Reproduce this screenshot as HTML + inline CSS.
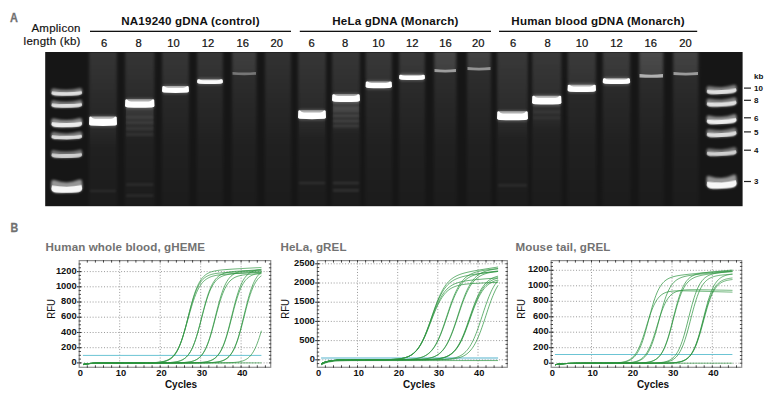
<!DOCTYPE html>
<html><head><meta charset="utf-8"><style>
html,body{margin:0;padding:0;background:#fff;width:777px;height:403px;overflow:hidden}
svg{display:block}
text{font-family:"Liberation Sans",sans-serif}
</style></head><body>
<svg width="777" height="403" viewBox="0 0 777 403">
<defs>
<filter id="b1" x="-20%" y="-50%" width="140%" height="200%"><feGaussianBlur stdDeviation="0.65"/></filter>
<filter id="b0" x="-20%" y="-50%" width="140%" height="200%"><feGaussianBlur stdDeviation="0.5"/></filter>
<filter id="b2" x="-20%" y="-50%" width="140%" height="200%"><feGaussianBlur stdDeviation="1.0"/></filter>
<filter id="bl" x="-50%" y="-5%" width="200%" height="110%"><feGaussianBlur stdDeviation="1.5"/></filter>
<linearGradient id="lane" x1="0" y1="0" x2="0" y2="1">
<stop offset="0" stop-color="#2a2a2a"/><stop offset="0.35" stop-color="#232323"/><stop offset="1" stop-color="#1b1b1b"/>
</linearGradient>
</defs>

<text transform="translate(10.1,21.7) scale(0.84,1)" font-size="13" font-weight="bold" fill="#707070" stroke="#707070" stroke-width="0.3">A</text>
<text x="80.7" y="31.7" font-size="11.5" letter-spacing="0.25" text-anchor="end" fill="#111" stroke="#111" stroke-width="0.18">Amplicon</text>
<text x="80.7" y="45.1" font-size="11.5" letter-spacing="0.25" text-anchor="end" fill="#111" stroke="#111" stroke-width="0.18">length (kb)</text>
<text x="190.5" y="25" font-size="11.6" letter-spacing="0.2" font-weight="bold" text-anchor="middle" fill="#111">NA19240 gDNA (control)</text>
<rect x="90" y="30.7" width="201.0" height="1.3" fill="#111"/>
<text x="104" y="46.8" font-size="11.2" text-anchor="middle" fill="#111" stroke="#111" stroke-width="0.22">6</text>
<text x="138.5" y="46.8" font-size="11.2" text-anchor="middle" fill="#111" stroke="#111" stroke-width="0.22">8</text>
<text x="173.5" y="46.8" font-size="11.2" text-anchor="middle" fill="#111" stroke="#111" stroke-width="0.22">10</text>
<text x="208" y="46.8" font-size="11.2" text-anchor="middle" fill="#111" stroke="#111" stroke-width="0.22">12</text>
<text x="242.8" y="46.8" font-size="11.2" text-anchor="middle" fill="#111" stroke="#111" stroke-width="0.22">16</text>
<text x="276.8" y="46.8" font-size="11.2" text-anchor="middle" fill="#111" stroke="#111" stroke-width="0.22">20</text>
<text x="395.4" y="25" font-size="11.6" letter-spacing="0.2" font-weight="bold" text-anchor="middle" fill="#111">HeLa gDNA (Monarch)</text>
<rect x="299.8" y="30.7" width="191.2" height="1.3" fill="#111"/>
<text x="311.7" y="46.8" font-size="11.2" text-anchor="middle" fill="#111" stroke="#111" stroke-width="0.22">6</text>
<text x="345.1" y="46.8" font-size="11.2" text-anchor="middle" fill="#111" stroke="#111" stroke-width="0.22">8</text>
<text x="378.5" y="46.8" font-size="11.2" text-anchor="middle" fill="#111" stroke="#111" stroke-width="0.22">10</text>
<text x="412.2" y="46.8" font-size="11.2" text-anchor="middle" fill="#111" stroke="#111" stroke-width="0.22">12</text>
<text x="445.6" y="46.8" font-size="11.2" text-anchor="middle" fill="#111" stroke="#111" stroke-width="0.22">16</text>
<text x="478.2" y="46.8" font-size="11.2" text-anchor="middle" fill="#111" stroke="#111" stroke-width="0.22">20</text>
<text x="598.1" y="25" font-size="11.6" letter-spacing="0.2" font-weight="bold" text-anchor="middle" fill="#111">Human blood gDNA (Monarch)</text>
<rect x="499" y="30.7" width="198.2" height="1.3" fill="#111"/>
<text x="513.2" y="46.8" font-size="11.2" text-anchor="middle" fill="#111" stroke="#111" stroke-width="0.22">6</text>
<text x="547.5" y="46.8" font-size="11.2" text-anchor="middle" fill="#111" stroke="#111" stroke-width="0.22">8</text>
<text x="582" y="46.8" font-size="11.2" text-anchor="middle" fill="#111" stroke="#111" stroke-width="0.22">10</text>
<text x="616.6" y="46.8" font-size="11.2" text-anchor="middle" fill="#111" stroke="#111" stroke-width="0.22">12</text>
<text x="650.8" y="46.8" font-size="11.2" text-anchor="middle" fill="#111" stroke="#111" stroke-width="0.22">16</text>
<text x="685.4" y="46.8" font-size="11.2" text-anchor="middle" fill="#111" stroke="#111" stroke-width="0.22">20</text>
<rect x="45.2" y="52" width="697.4" height="154.2" fill="#161616"/>
<defs>
<linearGradient id="hedge" x1="0" y1="0" x2="1" y2="0"><stop offset="0" stop-color="#fff" stop-opacity="0"/><stop offset="0.12" stop-color="#fff" stop-opacity="1"/><stop offset="0.88" stop-color="#fff" stop-opacity="1"/><stop offset="1" stop-color="#fff" stop-opacity="0"/></linearGradient>
<linearGradient id="vfade" x1="0" y1="0" x2="0" y2="1"><stop offset="0" stop-color="#fff" stop-opacity="0.10"/><stop offset="0.3" stop-color="#fff" stop-opacity="0.075"/><stop offset="1" stop-color="#fff" stop-opacity="0.035"/></linearGradient>
<linearGradient id="wfade" x1="0" y1="0" x2="0" y2="1"><stop offset="0" stop-color="#fff" stop-opacity="1"/><stop offset="1" stop-color="#fff" stop-opacity="0.6"/></linearGradient>
</defs>
<defs><linearGradient id="lv" gradientUnits="userSpaceOnUse" x1="0" y1="52" x2="0" y2="206"><stop offset="0" stop-color="#fff" stop-opacity="0.12"/><stop offset="0.3" stop-color="#fff" stop-opacity="0.08"/><stop offset="0.6" stop-color="#fff" stop-opacity="0.045"/><stop offset="1" stop-color="#fff" stop-opacity="0.025"/></linearGradient>
<linearGradient id="wg" x1="0" y1="0" x2="0" y2="1"><stop offset="0" stop-color="#fff" stop-opacity="1"/><stop offset="0.85" stop-color="#fff" stop-opacity="0.8"/><stop offset="1" stop-color="#fff" stop-opacity="0"/></linearGradient>
<filter id="lb" x="-30%" y="0" width="160%" height="100%"><feGaussianBlur stdDeviation="1.8,0"/></filter></defs>
<rect x="89" y="52.5" width="28" height="153.2" fill="url(#lv)" filter="url(#lb)"/>
<rect x="89.5" y="52.5" width="27" height="71.0" fill="url(#wg)" opacity="0.01" filter="url(#lb)"/>
<rect x="125" y="52.5" width="29.5" height="153.2" fill="url(#lv)" filter="url(#lb)"/>
<rect x="125.5" y="52.5" width="28.5" height="53.349999999999994" fill="url(#wg)" opacity="0.01" filter="url(#lb)"/>
<rect x="162" y="52.5" width="27" height="153.2" fill="url(#lv)" filter="url(#lb)"/>
<rect x="162.5" y="52.5" width="26" height="39.3" fill="url(#wg)" opacity="0.02" filter="url(#lb)"/>
<rect x="197" y="52.5" width="26" height="153.2" fill="url(#lv)" filter="url(#lb)"/>
<rect x="197.5" y="52.5" width="25" height="31.349999999999994" fill="url(#wg)" opacity="0.02" filter="url(#lb)"/>
<rect x="232" y="52.5" width="24.5" height="153.2" fill="url(#lv)" filter="url(#lb)"/>
<rect x="232.5" y="52.5" width="23.5" height="23.799999999999997" fill="url(#wg)" opacity="0.06" filter="url(#lb)"/>
<rect x="265" y="52.5" width="26" height="153.2" fill="url(#lv)" filter="url(#lb)"/>
<rect x="265.5" y="52.5" width="25" height="23" fill="url(#wg)" opacity="0.0" filter="url(#lb)"/>
<rect x="298" y="52.5" width="28" height="153.2" fill="url(#lv)" filter="url(#lb)"/>
<rect x="298.5" y="52.5" width="27" height="64.5" fill="url(#wg)" opacity="0.02" filter="url(#lb)"/>
<rect x="332" y="52.5" width="28" height="153.2" fill="url(#lv)" filter="url(#lb)"/>
<rect x="332.5" y="52.5" width="27" height="47.900000000000006" fill="url(#wg)" opacity="0.02" filter="url(#lb)"/>
<rect x="365.5" y="52.5" width="26.5" height="153.2" fill="url(#lv)" filter="url(#lb)"/>
<rect x="366.0" y="52.5" width="25.5" height="34.650000000000006" fill="url(#wg)" opacity="0.03" filter="url(#lb)"/>
<rect x="399" y="52.5" width="26" height="153.2" fill="url(#lv)" filter="url(#lb)"/>
<rect x="399.5" y="52.5" width="25" height="27.099999999999994" fill="url(#wg)" opacity="0.04" filter="url(#lb)"/>
<rect x="434" y="52.5" width="22.5" height="153.2" fill="url(#lv)" filter="url(#lb)"/>
<rect x="434.5" y="52.5" width="21.5" height="21.0" fill="url(#wg)" opacity="0.1" filter="url(#lb)"/>
<rect x="467" y="52.5" width="24" height="153.2" fill="url(#lv)" filter="url(#lb)"/>
<rect x="467.5" y="52.5" width="23" height="19.0" fill="url(#wg)" opacity="0.08" filter="url(#lb)"/>
<rect x="497" y="52.5" width="31" height="153.2" fill="url(#lv)" filter="url(#lb)"/>
<rect x="497.5" y="52.5" width="30" height="65.6" fill="url(#wg)" opacity="0.03" filter="url(#lb)"/>
<rect x="532" y="52.5" width="29.5" height="153.2" fill="url(#lv)" filter="url(#lb)"/>
<rect x="532.5" y="52.5" width="28.5" height="49.900000000000006" fill="url(#wg)" opacity="0.03" filter="url(#lb)"/>
<rect x="567.5" y="52.5" width="28.5" height="153.2" fill="url(#lv)" filter="url(#lb)"/>
<rect x="568.0" y="52.5" width="27.5" height="38.099999999999994" fill="url(#wg)" opacity="0.04" filter="url(#lb)"/>
<rect x="602.7" y="52.5" width="27.5" height="153.2" fill="url(#lv)" filter="url(#lb)"/>
<rect x="603.2" y="52.5" width="26.5" height="30.900000000000006" fill="url(#wg)" opacity="0.05" filter="url(#lb)"/>
<rect x="639" y="52.5" width="24.5" height="153.2" fill="url(#lv)" filter="url(#lb)"/>
<rect x="639.5" y="52.5" width="23.5" height="26.200000000000003" fill="url(#wg)" opacity="0.12" filter="url(#lb)"/>
<rect x="673" y="52.5" width="25.5" height="153.2" fill="url(#lv)" filter="url(#lb)"/>
<rect x="673.5" y="52.5" width="24.5" height="24.0" fill="url(#wg)" opacity="0.08" filter="url(#lb)"/>
<rect x="89" y="115.25" width="28" height="12.0" rx="3" fill="#fff" opacity="0.180" filter="url(#b2)"/>
<rect x="89.8" y="116.55" width="26.4" height="8.9" rx="1.5" fill="#fff" opacity="0.550" filter="url(#b0)"/>
<path d="M89.3,117.25 Q89.8,116.25 91.0,116.65 Q92.5,118.72 95,118.8435 L111,118.8435 Q113.5,118.72 115.0,116.65 Q116.2,116.25 116.7,117.25 L117,124.15 Q117,125.35 114,125.55 Q103.0,126.25 92,125.55 Q89,125.35 89,124.15 Z" fill="#fff" opacity="1" filter="url(#b1)"/>
<rect x="125" y="98.05" width="29.5" height="11.1" rx="3" fill="#fff" opacity="0.180" filter="url(#b2)"/>
<rect x="125.8" y="99.35" width="27.9" height="8.0" rx="1.5" fill="#fff" opacity="0.550" filter="url(#b0)"/>
<path d="M125.3,100.05 Q125.8,99.05 127.0,99.45 Q128.5,101.286 131,101.3978 L148.5,101.3978 Q151.0,101.286 152.5,99.45 Q153.7,99.05 154.2,100.05 L154.5,106.05 Q154.5,107.24999999999999 151.5,107.44999999999999 Q139.75,108.14999999999999 128,107.44999999999999 Q125,107.24999999999999 125,106.05 Z" fill="#fff" opacity="1" filter="url(#b1)"/>
<rect x="162" y="84.8" width="27" height="9.5" rx="3" fill="#fff" opacity="0.180" filter="url(#b2)"/>
<rect x="162.8" y="86.1" width="25.4" height="6.4" rx="1.5" fill="#fff" opacity="0.550" filter="url(#b0)"/>
<path d="M162.3,86.8 Q162.8,85.8 164.0,86.2 Q165.5,87.61999999999999 168,87.711 L183,87.711 Q185.5,87.61999999999999 187.0,86.2 Q188.2,85.8 188.7,86.8 L189,91.2 Q189,92.39999999999999 186,92.6 Q175.5,93.3 165,92.6 Q162,92.39999999999999 162,91.2 Z" fill="#fff" opacity="1" filter="url(#b1)"/>
<rect x="197" y="77.85" width="26" height="7.5" rx="3" fill="#fff" opacity="0.171" filter="url(#b2)"/>
<rect x="197.8" y="79.14999999999999" width="24.4" height="4.4" rx="1.5" fill="#fff" opacity="0.522" filter="url(#b0)"/>
<path d="M197.3,79.85 Q197.8,78.85 199.0,79.25 Q200.5,80.14999999999999 203,80.21499999999999 L217,80.21499999999999 Q219.5,80.14999999999999 221.0,79.25 Q222.2,78.85 222.7,79.85 L223,82.25 Q223,83.44999999999999 220,83.64999999999999 Q210.0,84.35 200,83.64999999999999 Q197,83.44999999999999 197,82.25 Z" fill="#fff" opacity="0.95" filter="url(#b1)"/>
<path d="M232.5,71.9 Q244.25,73.3 256.0,71.9 L256.0,74.8 Q244.25,75.69999999999999 232.5,74.8 Z" fill="#fff" opacity="0.32" filter="url(#b1)"/>
<path d="M265.5,71.65 Q278.0,73.05 290.5,71.65 L290.5,73.45 Q278.0,74.35 265.5,73.45 Z" fill="#fff" opacity="0.0" filter="url(#b1)"/>
<rect x="298" y="109.0" width="28" height="11.5" rx="3" fill="#fff" opacity="0.180" filter="url(#b2)"/>
<rect x="298.8" y="110.3" width="26.4" height="8.4" rx="1.5" fill="#fff" opacity="0.550" filter="url(#b0)"/>
<path d="M298.3,111.0 Q298.8,110.0 300.0,110.4 Q301.5,112.34 304,112.457 L320,112.457 Q322.5,112.34 324.0,110.4 Q325.2,110.0 325.7,111.0 L326,117.4 Q326,118.6 323,118.8 Q312.0,119.5 301,118.8 Q298,118.6 298,117.4 Z" fill="#fff" opacity="1" filter="url(#b1)"/>
<rect x="332" y="92.9" width="28" height="10.5" rx="3" fill="#fff" opacity="0.180" filter="url(#b2)"/>
<rect x="332.8" y="94.2" width="26.4" height="7.4" rx="1.5" fill="#fff" opacity="0.550" filter="url(#b0)"/>
<path d="M332.3,94.9 Q332.8,93.9 334.0,94.30000000000001 Q335.5,95.98 338,96.084 L354,96.084 Q356.5,95.98 358.0,94.30000000000001 Q359.2,93.9 359.7,94.9 L360,100.30000000000001 Q360,101.5 357,101.7 Q346.0,102.4 335,101.7 Q332,101.5 332,100.30000000000001 Z" fill="#fff" opacity="1" filter="url(#b1)"/>
<rect x="365.5" y="80.15" width="26.5" height="9.5" rx="3" fill="#fff" opacity="0.180" filter="url(#b2)"/>
<rect x="366.3" y="81.45" width="24.9" height="6.4" rx="1.5" fill="#fff" opacity="0.550" filter="url(#b0)"/>
<path d="M365.8,82.15 Q366.3,81.15 367.5,81.55000000000001 Q369.0,82.97 371.5,83.061 L386,83.061 Q388.5,82.97 390.0,81.55000000000001 Q391.2,81.15 391.7,82.15 L392,86.55000000000001 Q392,87.75 389,87.95 Q378.75,88.65 368.5,87.95 Q365.5,87.75 365.5,86.55000000000001 Z" fill="#fff" opacity="1" filter="url(#b1)"/>
<rect x="399" y="73.35" width="26" height="8.0" rx="3" fill="#fff" opacity="0.180" filter="url(#b2)"/>
<rect x="399.8" y="74.64999999999999" width="24.4" height="4.9" rx="1.5" fill="#fff" opacity="0.550" filter="url(#b0)"/>
<path d="M399.3,75.35 Q399.8,74.35 401.0,74.75 Q402.5,75.78 405,75.8515 L419,75.8515 Q421.5,75.78 423.0,74.75 Q424.2,74.35 424.7,75.35 L425,78.25 Q425,79.44999999999999 422,79.64999999999999 Q412.0,80.35 402,79.64999999999999 Q399,79.44999999999999 399,78.25 Z" fill="#fff" opacity="1" filter="url(#b1)"/>
<path d="M434.5,69.0 Q445.25,70.39999999999999 456.0,69.0 L456.0,72.10000000000001 Q445.25,73.0 434.5,72.10000000000001 Z" fill="#fff" opacity="0.5" filter="url(#b1)"/>
<path d="M467.5,67.10000000000001 Q479.0,68.5 490.5,67.10000000000001 L490.5,70.0 Q479.0,70.89999999999999 467.5,70.0 Z" fill="#fff" opacity="0.45" filter="url(#b1)"/>
<rect x="497" y="110.0" width="31" height="11.7" rx="3" fill="#fff" opacity="0.180" filter="url(#b2)"/>
<rect x="497.8" y="111.3" width="29.4" height="8.6" rx="1.5" fill="#fff" opacity="0.550" filter="url(#b0)"/>
<path d="M497.3,112.0 Q497.8,111.0 499.0,111.4 Q500.5,113.392 503,113.5116 L522,113.5116 Q524.5,113.392 526.0,111.4 Q527.2,111.0 527.7,112.0 L528,118.6 Q528,119.79999999999998 525,119.99999999999999 Q512.5,120.69999999999999 500,119.99999999999999 Q497,119.79999999999998 497,118.6 Z" fill="#fff" opacity="1" filter="url(#b1)"/>
<rect x="532" y="94.4" width="29.5" height="11.5" rx="3" fill="#fff" opacity="0.180" filter="url(#b2)"/>
<rect x="532.8" y="95.7" width="27.9" height="8.4" rx="1.5" fill="#fff" opacity="0.550" filter="url(#b0)"/>
<path d="M532.3,96.4 Q532.8,95.4 534.0,95.80000000000001 Q535.5,97.74000000000001 538,97.857 L555.5,97.857 Q558.0,97.74000000000001 559.5,95.80000000000001 Q560.7,95.4 561.2,96.4 L561.5,102.80000000000001 Q561.5,104.0 558.5,104.2 Q546.75,104.9 535,104.2 Q532,104.0 532,102.80000000000001 Z" fill="#fff" opacity="1" filter="url(#b1)"/>
<rect x="567.5" y="83.35" width="28.5" height="10.0" rx="3" fill="#fff" opacity="0.180" filter="url(#b2)"/>
<rect x="568.3" y="84.64999999999999" width="26.9" height="6.9" rx="1.5" fill="#fff" opacity="0.550" filter="url(#b0)"/>
<path d="M567.8,85.35 Q568.3,84.35 569.5,84.75 Q571.0,86.3 573.5,86.3975 L590,86.3975 Q592.5,86.3 594.0,84.75 Q595.2,84.35 595.7,85.35 L596,90.25 Q596,91.44999999999999 593,91.64999999999999 Q581.75,92.35 570.5,91.64999999999999 Q567.5,91.44999999999999 567.5,90.25 Z" fill="#fff" opacity="1" filter="url(#b1)"/>
<rect x="602.7" y="76.9" width="27.5" height="8.5" rx="3" fill="#fff" opacity="0.180" filter="url(#b2)"/>
<rect x="603.5" y="78.2" width="25.9" height="5.4" rx="1.5" fill="#fff" opacity="0.550" filter="url(#b0)"/>
<path d="M603.0,78.9 Q603.5,77.9 604.7,78.30000000000001 Q606.2,79.46000000000001 608.7,79.53800000000001 L624.2,79.53800000000001 Q626.7,79.46000000000001 628.2,78.30000000000001 Q629.4000000000001,77.9 629.9000000000001,78.9 L630.2,82.30000000000001 Q630.2,83.5 627.2,83.7 Q616.45,84.4 605.7,83.7 Q602.7,83.5 602.7,82.30000000000001 Z" fill="#fff" opacity="1" filter="url(#b1)"/>
<path d="M639.5,74.10000000000001 Q651.25,75.5 663.0,74.10000000000001 L663.0,77.4 Q651.25,78.3 639.5,77.4 Z" fill="#fff" opacity="0.6" filter="url(#b1)"/>
<path d="M673.5,72.10000000000001 Q685.75,73.5 698.0,72.10000000000001 L698.0,75.0 Q685.75,75.89999999999999 673.5,75.0 Z" fill="#fff" opacity="0.5" filter="url(#b1)"/>
<defs><linearGradient id="sm" x1="0" y1="0" x2="0" y2="1"><stop offset="0" stop-color="#fff" stop-opacity="1"/><stop offset="1" stop-color="#fff" stop-opacity="0"/></linearGradient></defs>
<rect x="126" y="108" width="27.5" height="32" fill="url(#sm)" opacity="0.09" filter="url(#b1)"/>
<rect x="333" y="102" width="26" height="32" fill="url(#sm)" opacity="0.1" filter="url(#b1)"/>
<rect x="533" y="104" width="27.5" height="26" fill="url(#sm)" opacity="0.05" filter="url(#b1)"/>
<rect x="90" y="126" width="26" height="24" fill="url(#sm)" opacity="0.03" filter="url(#b1)"/>
<rect x="299" y="119" width="26" height="21" fill="url(#sm)" opacity="0.03" filter="url(#b1)"/>
<rect x="498" y="120" width="29" height="20" fill="url(#sm)" opacity="0.03" filter="url(#b1)"/>
<rect x="126" y="116.2" width="27.5" height="2.4" fill="#fff" opacity="0.07" filter="url(#b2)"/>
<rect x="126" y="121.5" width="27.5" height="2.4" fill="#fff" opacity="0.07" filter="url(#b2)"/>
<rect x="126" y="127.49999999999999" width="27.5" height="2.4" fill="#fff" opacity="0.07" filter="url(#b2)"/>
<rect x="126" y="133.4" width="27.5" height="2.4" fill="#fff" opacity="0.07" filter="url(#b2)"/>
<rect x="126" y="183.4" width="27.5" height="2.4" fill="#fff" opacity="0.07" filter="url(#b2)"/>
<rect x="126" y="194.4" width="27.5" height="2.4" fill="#fff" opacity="0.07" filter="url(#b2)"/>
<rect x="333" y="106.6" width="26" height="2.4" fill="#fff" opacity="0.1" filter="url(#b2)"/>
<rect x="333" y="109.5" width="26" height="2.4" fill="#fff" opacity="0.1" filter="url(#b2)"/>
<rect x="333" y="114.7" width="26" height="2.4" fill="#fff" opacity="0.1" filter="url(#b2)"/>
<rect x="333" y="119.8" width="26" height="2.4" fill="#fff" opacity="0.1" filter="url(#b2)"/>
<rect x="333" y="124.8" width="26" height="2.4" fill="#fff" opacity="0.1" filter="url(#b2)"/>
<rect x="333" y="181.8" width="26" height="2.4" fill="#fff" opacity="0.09" filter="url(#b2)"/>
<rect x="333" y="189.20000000000002" width="26" height="2.4" fill="#fff" opacity="0.09" filter="url(#b2)"/>
<rect x="299" y="181.8" width="26" height="2.4" fill="#fff" opacity="0.08" filter="url(#b2)"/>
<rect x="90" y="189.8" width="26" height="2.4" fill="#fff" opacity="0.06" filter="url(#b2)"/>
<rect x="498" y="184.10000000000002" width="29" height="2.4" fill="#fff" opacity="0.07" filter="url(#b2)"/>
<rect x="533" y="110.8" width="27.5" height="2.4" fill="#fff" opacity="0.05" filter="url(#b2)"/>
<rect x="533" y="116.8" width="27.5" height="2.4" fill="#fff" opacity="0.05" filter="url(#b2)"/>
<g transform="rotate(-1 66.75 91.7)">
<path d="M51.5,89.2 Q52.5,87.7 55,88.5 Q66.75,91.06 78.5,88.5 Q81.0,87.7 82.0,89.2 L82.5,92.5 Q82.0,95.5 76.5,95.7 Q66.75,96.3 57,95.7 Q51.5,95.5 51,92.5 Z" fill="#fff" opacity="0.451" filter="url(#b2)"/>
<path d="M52,91.3 Q66.75,93.06 81.5,91.3 L82.2,93.3 Q81.7,95.4 76.5,95.5 Q66.75,96.10000000000001 57,95.5 Q51.8,95.4 51.3,93.3 Z" fill="#fff" opacity="0.754" filter="url(#b1)"/>
</g>
<g transform="rotate(-1 66.75 103.6)">
<path d="M51.5,101.1 Q52.5,99.6 55,100.39999999999999 Q66.75,102.96 78.5,100.39999999999999 Q81.0,99.6 82.0,101.1 L82.5,104.39999999999999 Q82.0,107.39999999999999 76.5,107.6 Q66.75,108.19999999999999 57,107.6 Q51.5,107.39999999999999 51,104.39999999999999 Z" fill="#fff" opacity="0.451" filter="url(#b2)"/>
<path d="M52,103.19999999999999 Q66.75,104.96 81.5,103.19999999999999 L82.2,105.19999999999999 Q81.7,107.3 76.5,107.39999999999999 Q66.75,108.0 57,107.39999999999999 Q51.8,107.3 51.3,105.19999999999999 Z" fill="#fff" opacity="0.754" filter="url(#b1)"/>
</g>
<g transform="rotate(-1 66.75 122.4)">
<path d="M51.5,119.15 Q52.5,117.65 55,118.45 Q66.75,121.64 78.5,118.45 Q81.0,117.65 82.0,119.15 L82.5,123.35000000000001 Q82.0,126.95 76.5,127.15 Q66.75,127.75 57,127.15 Q51.5,126.95 51,123.35000000000001 Z" fill="#fff" opacity="0.506" filter="url(#b2)"/>
<path d="M52,121.92500000000001 Q66.75,124.01500000000001 81.5,121.92500000000001 L82.2,124.30000000000001 Q81.7,126.85000000000001 76.5,126.95 Q66.75,127.55000000000001 57,126.95 Q51.8,126.85000000000001 51.3,124.30000000000001 Z" fill="#fff" opacity="0.846" filter="url(#b1)"/>
</g>
<g transform="rotate(-1 66.75 135.3)">
<path d="M51.5,132.8 Q52.5,131.3 55,132.10000000000002 Q66.75,134.66000000000003 78.5,132.10000000000002 Q81.0,131.3 82.0,132.8 L82.5,136.10000000000002 Q82.0,139.10000000000002 76.5,139.3 Q66.75,139.9 57,139.3 Q51.5,139.10000000000002 51,136.10000000000002 Z" fill="#fff" opacity="0.440" filter="url(#b2)"/>
<path d="M52,134.9 Q66.75,136.66 81.5,134.9 L82.2,136.9 Q81.7,139.0 76.5,139.10000000000002 Q66.75,139.70000000000002 57,139.10000000000002 Q51.8,139.0 51.3,136.9 Z" fill="#fff" opacity="0.736" filter="url(#b1)"/>
</g>
<g transform="rotate(-1 66.75 153.6)">
<path d="M51.5,150.85 Q52.5,149.35 55,150.15 Q66.75,152.92 78.5,150.15 Q81.0,149.35 82.0,150.85 L82.5,154.45 Q82.0,157.65 76.5,157.85 Q66.75,158.45 57,157.85 Q51.5,157.65 51,154.45 Z" fill="#fff" opacity="0.396" filter="url(#b2)"/>
<path d="M52,153.17499999999998 Q66.75,155.045 81.5,153.17499999999998 L82.2,155.29999999999998 Q81.7,157.54999999999998 76.5,157.65 Q66.75,158.25 57,157.65 Q51.8,157.54999999999998 51.3,155.29999999999998 Z" fill="#fff" opacity="0.662" filter="url(#b1)"/>
</g>
<g transform="rotate(-1 66.75 186)">
<path d="M51.5,180.75 Q52.5,179.25 55,180.05 Q66.75,184.92 78.5,180.05 Q81.0,179.25 82.0,180.75 L82.5,187.35 Q82.0,192.55 76.5,192.75 Q66.75,193.35 57,192.75 Q51.5,192.55 51,187.35 Z" fill="#fff" opacity="0.550" filter="url(#b2)"/>
<path d="M52,185.325 Q66.75,188.295 81.5,185.325 L82.2,188.7 Q81.7,192.45 76.5,192.55 Q66.75,193.15 57,192.55 Q51.8,192.45 51.3,188.7 Z" fill="#fff" opacity="0.920" filter="url(#b1)"/>
</g>
<g transform="rotate(-3 721.5999999999999 89.4)">
<path d="M706.8,86.4 Q707.8,84.9 710.3,85.7 Q721.5999999999999,88.68 732.9,85.7 Q735.4,84.9 736.4,86.4 L736.9,90.30000000000001 Q736.4,93.7 730.9,93.9 Q721.5999999999999,94.5 712.3,93.9 Q706.8,93.7 706.3,90.30000000000001 Z" fill="#fff" opacity="0.451" filter="url(#b2)"/>
<path d="M707.3,88.95 Q721.5999999999999,90.93 735.9,88.95 L736.6,91.2 Q736.1,93.60000000000001 730.9,93.7 Q721.5999999999999,94.30000000000001 712.3,93.7 Q707.0999999999999,93.60000000000001 706.5999999999999,91.2 Z" fill="#fff" opacity="0.754" filter="url(#b1)"/>
</g>
<g transform="rotate(-3 721.5999999999999 102)">
<path d="M706.8,99.0 Q707.8,97.5 710.3,98.3 Q721.5999999999999,101.28 732.9,98.3 Q735.4,97.5 736.4,99.0 L736.9,102.9 Q736.4,106.3 730.9,106.5 Q721.5999999999999,107.1 712.3,106.5 Q706.8,106.3 706.3,102.9 Z" fill="#fff" opacity="0.451" filter="url(#b2)"/>
<path d="M707.3,101.55 Q721.5999999999999,103.53 735.9,101.55 L736.6,103.8 Q736.1,106.2 730.9,106.3 Q721.5999999999999,106.9 712.3,106.3 Q707.0999999999999,106.2 706.5999999999999,103.8 Z" fill="#fff" opacity="0.754" filter="url(#b1)"/>
</g>
<g transform="rotate(-3 721.5999999999999 119.1)">
<path d="M706.8,115.85 Q707.8,114.35 710.3,115.14999999999999 Q721.5999999999999,118.33999999999999 732.9,115.14999999999999 Q735.4,114.35 736.4,115.85 L736.9,120.05 Q736.4,123.64999999999999 730.9,123.85 Q721.5999999999999,124.44999999999999 712.3,123.85 Q706.8,123.64999999999999 706.3,120.05 Z" fill="#fff" opacity="0.506" filter="url(#b2)"/>
<path d="M707.3,118.625 Q721.5999999999999,120.715 735.9,118.625 L736.6,121.0 Q736.1,123.55 730.9,123.64999999999999 Q721.5999999999999,124.25 712.3,123.64999999999999 Q707.0999999999999,123.55 706.5999999999999,121.0 Z" fill="#fff" opacity="0.846" filter="url(#b1)"/>
</g>
<g transform="rotate(-3 721.5999999999999 132.5)">
<path d="M706.8,129.5 Q707.8,128.0 710.3,128.8 Q721.5999999999999,131.78 732.9,128.8 Q735.4,128.0 736.4,129.5 L736.9,133.4 Q736.4,136.8 730.9,137.0 Q721.5999999999999,137.6 712.3,137.0 Q706.8,136.8 706.3,133.4 Z" fill="#fff" opacity="0.440" filter="url(#b2)"/>
<path d="M707.3,132.05 Q721.5999999999999,134.03 735.9,132.05 L736.6,134.3 Q736.1,136.7 730.9,136.8 Q721.5999999999999,137.4 712.3,136.8 Q707.0999999999999,136.7 706.5999999999999,134.3 Z" fill="#fff" opacity="0.736" filter="url(#b1)"/>
</g>
<g transform="rotate(-3 721.5999999999999 151.5)">
<path d="M706.8,148.75 Q707.8,147.25 710.3,148.05 Q721.5999999999999,150.82 732.9,148.05 Q735.4,147.25 736.4,148.75 L736.9,152.35 Q736.4,155.55 730.9,155.75 Q721.5999999999999,156.35 712.3,155.75 Q706.8,155.55 706.3,152.35 Z" fill="#fff" opacity="0.396" filter="url(#b2)"/>
<path d="M707.3,151.075 Q721.5999999999999,152.945 735.9,151.075 L736.6,153.2 Q736.1,155.45 730.9,155.55 Q721.5999999999999,156.15 712.3,155.55 Q707.0999999999999,155.45 706.5999999999999,153.2 Z" fill="#fff" opacity="0.662" filter="url(#b1)"/>
</g>
<g transform="rotate(-3 721.5999999999999 181.6)">
<path d="M706.8,176.35 Q707.8,174.85 710.3,175.65 Q721.5999999999999,180.51999999999998 732.9,175.65 Q735.4,174.85 736.4,176.35 L736.9,182.95 Q736.4,188.15 730.9,188.35 Q721.5999999999999,188.95 712.3,188.35 Q706.8,188.15 706.3,182.95 Z" fill="#fff" opacity="0.550" filter="url(#b2)"/>
<path d="M707.3,180.92499999999998 Q721.5999999999999,183.89499999999998 735.9,180.92499999999998 L736.6,184.29999999999998 Q736.1,188.04999999999998 730.9,188.15 Q721.5999999999999,188.75 712.3,188.15 Q707.0999999999999,188.04999999999998 706.5999999999999,184.29999999999998 Z" fill="#fff" opacity="0.920" filter="url(#b1)"/>
</g>
<text x="754" y="78.6" font-size="8" font-weight="bold" fill="#111">kb</text>
<rect x="744" y="87.5" width="7" height="1.2" fill="#222"/>
<text x="754" y="91.0" font-size="8" font-weight="bold" fill="#111">10</text>
<rect x="744" y="99.7" width="7" height="1.2" fill="#222"/>
<text x="754" y="103.2" font-size="8" font-weight="bold" fill="#111">8</text>
<rect x="744" y="117.2" width="7" height="1.2" fill="#222"/>
<text x="754" y="120.7" font-size="8" font-weight="bold" fill="#111">6</text>
<rect x="744" y="131.3" width="7" height="1.2" fill="#222"/>
<text x="754" y="134.8" font-size="8" font-weight="bold" fill="#111">5</text>
<rect x="744" y="149.6" width="7" height="1.2" fill="#222"/>
<text x="754" y="153.1" font-size="8" font-weight="bold" fill="#111">4</text>
<rect x="744" y="180.9" width="7" height="1.2" fill="#222"/>
<text x="754" y="184.4" font-size="8" font-weight="bold" fill="#111">3</text>
<text transform="translate(10.6,231.7) scale(0.82,1)" font-size="13" font-weight="bold" fill="#707070" stroke="#707070" stroke-width="0.3">B</text>
<text x="45.6" y="251.1" font-size="11.6" letter-spacing="0.1" font-weight="bold" fill="#727272">Human whole blood, gHEME</text>
<line x1="119.7" y1="260.6" x2="119.7" y2="367.3" stroke="#9a9a9a" stroke-width="1" stroke-dasharray="1,1.85"/>
<line x1="160.2" y1="260.6" x2="160.2" y2="367.3" stroke="#9a9a9a" stroke-width="1" stroke-dasharray="1,1.85"/>
<line x1="200.7" y1="260.6" x2="200.7" y2="367.3" stroke="#9a9a9a" stroke-width="1" stroke-dasharray="1,1.85"/>
<line x1="241.1" y1="260.6" x2="241.1" y2="367.3" stroke="#9a9a9a" stroke-width="1" stroke-dasharray="1,1.85"/>
<line x1="81.2" y1="362.9" x2="270.7" y2="362.9" stroke="#9a9a9a" stroke-width="1" stroke-dasharray="1,1.85"/>
<line x1="77.0" y1="362.9" x2="81.4" y2="362.9" stroke="#333" stroke-width="1.1"/>
<text x="76.60000000000001" y="365.0" font-size="9.3" font-weight="bold" text-anchor="end" fill="#111">0</text>
<line x1="81.2" y1="347.7" x2="270.7" y2="347.7" stroke="#9a9a9a" stroke-width="1" stroke-dasharray="1,1.85"/>
<line x1="77.0" y1="347.7" x2="81.4" y2="347.7" stroke="#333" stroke-width="1.1"/>
<text x="76.60000000000001" y="349.8" font-size="9.3" font-weight="bold" text-anchor="end" fill="#111">200</text>
<line x1="81.2" y1="332.5" x2="270.7" y2="332.5" stroke="#9a9a9a" stroke-width="1" stroke-dasharray="1,1.85"/>
<line x1="77.0" y1="332.5" x2="81.4" y2="332.5" stroke="#333" stroke-width="1.1"/>
<text x="76.60000000000001" y="334.6" font-size="9.3" font-weight="bold" text-anchor="end" fill="#111">400</text>
<line x1="81.2" y1="317.2" x2="270.7" y2="317.2" stroke="#9a9a9a" stroke-width="1" stroke-dasharray="1,1.85"/>
<line x1="77.0" y1="317.2" x2="81.4" y2="317.2" stroke="#333" stroke-width="1.1"/>
<text x="76.60000000000001" y="319.3" font-size="9.3" font-weight="bold" text-anchor="end" fill="#111">600</text>
<line x1="81.2" y1="302.0" x2="270.7" y2="302.0" stroke="#9a9a9a" stroke-width="1" stroke-dasharray="1,1.85"/>
<line x1="77.0" y1="302.0" x2="81.4" y2="302.0" stroke="#333" stroke-width="1.1"/>
<text x="76.60000000000001" y="304.1" font-size="9.3" font-weight="bold" text-anchor="end" fill="#111">800</text>
<line x1="81.2" y1="286.8" x2="270.7" y2="286.8" stroke="#9a9a9a" stroke-width="1" stroke-dasharray="1,1.85"/>
<line x1="77.0" y1="286.8" x2="81.4" y2="286.8" stroke="#333" stroke-width="1.1"/>
<text x="76.60000000000001" y="288.9" font-size="9.3" font-weight="bold" text-anchor="end" fill="#111">1000</text>
<line x1="81.2" y1="271.6" x2="270.7" y2="271.6" stroke="#9a9a9a" stroke-width="1" stroke-dasharray="1,1.85"/>
<line x1="77.0" y1="271.6" x2="81.4" y2="271.6" stroke="#333" stroke-width="1.1"/>
<text x="76.60000000000001" y="273.7" font-size="9.3" font-weight="bold" text-anchor="end" fill="#111">1200</text>
<rect x="79.2" y="260.6" width="191.5" height="106.69999999999999" fill="none" stroke="#8e8e8e" stroke-width="1.2"/>
<line x1="78.7" y1="362.9" x2="81.0" y2="362.9" stroke="#333" stroke-width="0.9"/>
<line x1="271.2" y1="362.9" x2="268.9" y2="362.9" stroke="#333" stroke-width="0.9"/>
<line x1="78.7" y1="359.1" x2="81.0" y2="359.1" stroke="#333" stroke-width="0.9"/>
<line x1="271.2" y1="359.1" x2="268.9" y2="359.1" stroke="#333" stroke-width="0.9"/>
<line x1="78.7" y1="355.3" x2="81.0" y2="355.3" stroke="#333" stroke-width="0.9"/>
<line x1="271.2" y1="355.3" x2="268.9" y2="355.3" stroke="#333" stroke-width="0.9"/>
<line x1="78.7" y1="351.5" x2="81.0" y2="351.5" stroke="#333" stroke-width="0.9"/>
<line x1="271.2" y1="351.5" x2="268.9" y2="351.5" stroke="#333" stroke-width="0.9"/>
<line x1="78.7" y1="347.7" x2="81.0" y2="347.7" stroke="#333" stroke-width="0.9"/>
<line x1="271.2" y1="347.7" x2="268.9" y2="347.7" stroke="#333" stroke-width="0.9"/>
<line x1="78.7" y1="343.9" x2="81.0" y2="343.9" stroke="#333" stroke-width="0.9"/>
<line x1="271.2" y1="343.9" x2="268.9" y2="343.9" stroke="#333" stroke-width="0.9"/>
<line x1="78.7" y1="340.1" x2="81.0" y2="340.1" stroke="#333" stroke-width="0.9"/>
<line x1="271.2" y1="340.1" x2="268.9" y2="340.1" stroke="#333" stroke-width="0.9"/>
<line x1="78.7" y1="336.3" x2="81.0" y2="336.3" stroke="#333" stroke-width="0.9"/>
<line x1="271.2" y1="336.3" x2="268.9" y2="336.3" stroke="#333" stroke-width="0.9"/>
<line x1="78.7" y1="332.5" x2="81.0" y2="332.5" stroke="#333" stroke-width="0.9"/>
<line x1="271.2" y1="332.5" x2="268.9" y2="332.5" stroke="#333" stroke-width="0.9"/>
<line x1="78.7" y1="328.7" x2="81.0" y2="328.7" stroke="#333" stroke-width="0.9"/>
<line x1="271.2" y1="328.7" x2="268.9" y2="328.7" stroke="#333" stroke-width="0.9"/>
<line x1="78.7" y1="324.8" x2="81.0" y2="324.8" stroke="#333" stroke-width="0.9"/>
<line x1="271.2" y1="324.8" x2="268.9" y2="324.8" stroke="#333" stroke-width="0.9"/>
<line x1="78.7" y1="321.0" x2="81.0" y2="321.0" stroke="#333" stroke-width="0.9"/>
<line x1="271.2" y1="321.0" x2="268.9" y2="321.0" stroke="#333" stroke-width="0.9"/>
<line x1="78.7" y1="317.2" x2="81.0" y2="317.2" stroke="#333" stroke-width="0.9"/>
<line x1="271.2" y1="317.2" x2="268.9" y2="317.2" stroke="#333" stroke-width="0.9"/>
<line x1="78.7" y1="313.4" x2="81.0" y2="313.4" stroke="#333" stroke-width="0.9"/>
<line x1="271.2" y1="313.4" x2="268.9" y2="313.4" stroke="#333" stroke-width="0.9"/>
<line x1="78.7" y1="309.6" x2="81.0" y2="309.6" stroke="#333" stroke-width="0.9"/>
<line x1="271.2" y1="309.6" x2="268.9" y2="309.6" stroke="#333" stroke-width="0.9"/>
<line x1="78.7" y1="305.8" x2="81.0" y2="305.8" stroke="#333" stroke-width="0.9"/>
<line x1="271.2" y1="305.8" x2="268.9" y2="305.8" stroke="#333" stroke-width="0.9"/>
<line x1="78.7" y1="302.0" x2="81.0" y2="302.0" stroke="#333" stroke-width="0.9"/>
<line x1="271.2" y1="302.0" x2="268.9" y2="302.0" stroke="#333" stroke-width="0.9"/>
<line x1="78.7" y1="298.2" x2="81.0" y2="298.2" stroke="#333" stroke-width="0.9"/>
<line x1="271.2" y1="298.2" x2="268.9" y2="298.2" stroke="#333" stroke-width="0.9"/>
<line x1="78.7" y1="294.4" x2="81.0" y2="294.4" stroke="#333" stroke-width="0.9"/>
<line x1="271.2" y1="294.4" x2="268.9" y2="294.4" stroke="#333" stroke-width="0.9"/>
<line x1="78.7" y1="290.6" x2="81.0" y2="290.6" stroke="#333" stroke-width="0.9"/>
<line x1="271.2" y1="290.6" x2="268.9" y2="290.6" stroke="#333" stroke-width="0.9"/>
<line x1="78.7" y1="286.8" x2="81.0" y2="286.8" stroke="#333" stroke-width="0.9"/>
<line x1="271.2" y1="286.8" x2="268.9" y2="286.8" stroke="#333" stroke-width="0.9"/>
<line x1="78.7" y1="283.0" x2="81.0" y2="283.0" stroke="#333" stroke-width="0.9"/>
<line x1="271.2" y1="283.0" x2="268.9" y2="283.0" stroke="#333" stroke-width="0.9"/>
<line x1="78.7" y1="279.2" x2="81.0" y2="279.2" stroke="#333" stroke-width="0.9"/>
<line x1="271.2" y1="279.2" x2="268.9" y2="279.2" stroke="#333" stroke-width="0.9"/>
<line x1="78.7" y1="275.4" x2="81.0" y2="275.4" stroke="#333" stroke-width="0.9"/>
<line x1="271.2" y1="275.4" x2="268.9" y2="275.4" stroke="#333" stroke-width="0.9"/>
<line x1="78.7" y1="271.6" x2="81.0" y2="271.6" stroke="#333" stroke-width="0.9"/>
<line x1="271.2" y1="271.6" x2="268.9" y2="271.6" stroke="#333" stroke-width="0.9"/>
<line x1="78.7" y1="267.8" x2="81.0" y2="267.8" stroke="#333" stroke-width="0.9"/>
<line x1="271.2" y1="267.8" x2="268.9" y2="267.8" stroke="#333" stroke-width="0.9"/>
<line x1="78.7" y1="264.0" x2="81.0" y2="264.0" stroke="#333" stroke-width="0.9"/>
<line x1="271.2" y1="264.0" x2="268.9" y2="264.0" stroke="#333" stroke-width="0.9"/>
<line x1="87.3" y1="260.1" x2="87.3" y2="262.6" stroke="#333" stroke-width="0.9"/>
<line x1="87.3" y1="367.8" x2="87.3" y2="365.3" stroke="#333" stroke-width="0.9"/>
<line x1="95.4" y1="260.1" x2="95.4" y2="262.6" stroke="#333" stroke-width="0.9"/>
<line x1="95.4" y1="367.8" x2="95.4" y2="365.3" stroke="#333" stroke-width="0.9"/>
<line x1="103.5" y1="260.1" x2="103.5" y2="262.6" stroke="#333" stroke-width="0.9"/>
<line x1="103.5" y1="367.8" x2="103.5" y2="365.3" stroke="#333" stroke-width="0.9"/>
<line x1="111.6" y1="260.1" x2="111.6" y2="262.6" stroke="#333" stroke-width="0.9"/>
<line x1="111.6" y1="367.8" x2="111.6" y2="365.3" stroke="#333" stroke-width="0.9"/>
<line x1="119.7" y1="260.1" x2="119.7" y2="262.6" stroke="#333" stroke-width="0.9"/>
<line x1="119.7" y1="367.8" x2="119.7" y2="365.3" stroke="#333" stroke-width="0.9"/>
<line x1="127.8" y1="260.1" x2="127.8" y2="262.6" stroke="#333" stroke-width="0.9"/>
<line x1="127.8" y1="367.8" x2="127.8" y2="365.3" stroke="#333" stroke-width="0.9"/>
<line x1="135.9" y1="260.1" x2="135.9" y2="262.6" stroke="#333" stroke-width="0.9"/>
<line x1="135.9" y1="367.8" x2="135.9" y2="365.3" stroke="#333" stroke-width="0.9"/>
<line x1="144.0" y1="260.1" x2="144.0" y2="262.6" stroke="#333" stroke-width="0.9"/>
<line x1="144.0" y1="367.8" x2="144.0" y2="365.3" stroke="#333" stroke-width="0.9"/>
<line x1="152.1" y1="260.1" x2="152.1" y2="262.6" stroke="#333" stroke-width="0.9"/>
<line x1="152.1" y1="367.8" x2="152.1" y2="365.3" stroke="#333" stroke-width="0.9"/>
<line x1="160.2" y1="260.1" x2="160.2" y2="262.6" stroke="#333" stroke-width="0.9"/>
<line x1="160.2" y1="367.8" x2="160.2" y2="365.3" stroke="#333" stroke-width="0.9"/>
<line x1="168.3" y1="260.1" x2="168.3" y2="262.6" stroke="#333" stroke-width="0.9"/>
<line x1="168.3" y1="367.8" x2="168.3" y2="365.3" stroke="#333" stroke-width="0.9"/>
<line x1="176.4" y1="260.1" x2="176.4" y2="262.6" stroke="#333" stroke-width="0.9"/>
<line x1="176.4" y1="367.8" x2="176.4" y2="365.3" stroke="#333" stroke-width="0.9"/>
<line x1="184.5" y1="260.1" x2="184.5" y2="262.6" stroke="#333" stroke-width="0.9"/>
<line x1="184.5" y1="367.8" x2="184.5" y2="365.3" stroke="#333" stroke-width="0.9"/>
<line x1="192.6" y1="260.1" x2="192.6" y2="262.6" stroke="#333" stroke-width="0.9"/>
<line x1="192.6" y1="367.8" x2="192.6" y2="365.3" stroke="#333" stroke-width="0.9"/>
<line x1="200.7" y1="260.1" x2="200.7" y2="262.6" stroke="#333" stroke-width="0.9"/>
<line x1="200.7" y1="367.8" x2="200.7" y2="365.3" stroke="#333" stroke-width="0.9"/>
<line x1="208.8" y1="260.1" x2="208.8" y2="262.6" stroke="#333" stroke-width="0.9"/>
<line x1="208.8" y1="367.8" x2="208.8" y2="365.3" stroke="#333" stroke-width="0.9"/>
<line x1="216.9" y1="260.1" x2="216.9" y2="262.6" stroke="#333" stroke-width="0.9"/>
<line x1="216.9" y1="367.8" x2="216.9" y2="365.3" stroke="#333" stroke-width="0.9"/>
<line x1="225.0" y1="260.1" x2="225.0" y2="262.6" stroke="#333" stroke-width="0.9"/>
<line x1="225.0" y1="367.8" x2="225.0" y2="365.3" stroke="#333" stroke-width="0.9"/>
<line x1="233.0" y1="260.1" x2="233.0" y2="262.6" stroke="#333" stroke-width="0.9"/>
<line x1="233.0" y1="367.8" x2="233.0" y2="365.3" stroke="#333" stroke-width="0.9"/>
<line x1="241.1" y1="260.1" x2="241.1" y2="262.6" stroke="#333" stroke-width="0.9"/>
<line x1="241.1" y1="367.8" x2="241.1" y2="365.3" stroke="#333" stroke-width="0.9"/>
<line x1="249.2" y1="260.1" x2="249.2" y2="262.6" stroke="#333" stroke-width="0.9"/>
<line x1="249.2" y1="367.8" x2="249.2" y2="365.3" stroke="#333" stroke-width="0.9"/>
<line x1="257.3" y1="260.1" x2="257.3" y2="262.6" stroke="#333" stroke-width="0.9"/>
<line x1="257.3" y1="367.8" x2="257.3" y2="365.3" stroke="#333" stroke-width="0.9"/>
<line x1="265.4" y1="260.1" x2="265.4" y2="262.6" stroke="#333" stroke-width="0.9"/>
<line x1="265.4" y1="367.8" x2="265.4" y2="365.3" stroke="#333" stroke-width="0.9"/>
<text x="80.4" y="376.2" font-size="9.3" font-weight="bold" text-anchor="middle" fill="#111">0</text>
<text x="120.9" y="376.2" font-size="9.3" font-weight="bold" text-anchor="middle" fill="#111">10</text>
<text x="161.4" y="376.2" font-size="9.3" font-weight="bold" text-anchor="middle" fill="#111">20</text>
<text x="201.9" y="376.2" font-size="9.3" font-weight="bold" text-anchor="middle" fill="#111">30</text>
<text x="242.3" y="376.2" font-size="9.3" font-weight="bold" text-anchor="middle" fill="#111">40</text>
<text x="181.0" y="387.8" font-size="10" font-weight="bold" text-anchor="middle" fill="#111">Cycles</text>
<text transform="translate(50.7,308.9) rotate(-90)" x="0" y="3.9" font-size="10.6" textLength="19.8" lengthAdjust="spacingAndGlyphs" text-anchor="middle" fill="#111">RFU</text>
<line x1="82.9" y1="355.4" x2="261.4" y2="355.4" stroke="#6cc4d4" stroke-width="1.0"/>
<g fill="none" stroke="#2e9440" stroke-width="1.0" stroke-opacity="0.72" stroke-linejoin="round">
<polyline points="83.25,364.42 84.26,364.22 85.27,364.05 86.29,363.90 87.30,363.77 88.31,363.66 89.32,363.56 90.33,363.48 91.35,363.40 92.36,363.34 93.37,363.28 94.38,363.23 95.39,363.19 96.41,363.15 97.42,363.12 98.43,363.09 99.44,363.06 100.46,363.04 101.47,363.02 102.48,363.01 103.49,362.99 104.50,362.98 105.52,362.97 106.53,362.96 107.54,362.95 108.55,362.95 109.56,362.94 110.58,362.94 111.59,362.93 112.60,362.93 113.61,362.92 114.63,362.92 115.64,362.92 116.65,362.92 117.66,362.91 118.67,362.91 119.69,362.91 120.70,362.91 121.71,362.91 122.72,362.91 123.73,362.90 124.75,362.90 125.76,362.90 126.77,362.90 127.78,362.90 128.80,362.90 129.81,362.90 130.82,362.90 131.83,362.90 132.84,362.90 133.86,362.89 134.87,362.89 135.88,362.89 136.89,362.89 137.91,362.89 138.92,362.88 139.93,362.88 140.94,362.88 141.95,362.87 142.97,362.87 143.98,362.86 144.99,362.85 146.00,362.84 147.01,362.83 148.03,362.82 149.04,362.80 150.05,362.78 151.06,362.76 152.08,362.73 153.09,362.70 154.10,362.66 155.11,362.61 156.12,362.56 157.14,362.49 158.15,362.41 159.16,362.32 160.17,362.21 161.18,362.08 162.20,361.92 163.21,361.73 164.22,361.51 165.23,361.25 166.25,360.93 167.26,360.56 168.27,360.13 169.28,359.61 170.29,359.00 171.31,358.29 172.32,357.45 173.33,356.47 174.34,355.33 175.35,354.01 176.37,352.49 177.38,350.75 178.39,348.76 179.40,346.52 180.42,344.01 181.43,341.23 182.44,338.17 183.45,334.86 184.46,331.32 185.48,327.57 186.49,323.67 187.50,319.67 188.51,315.62 189.53,311.60 190.54,307.65 191.55,303.84 192.56,300.22 193.57,296.81 194.59,293.66 195.60,290.76 196.61,288.14 197.62,285.78 198.63,283.68 199.65,281.82 200.66,280.19 201.67,278.77 202.68,277.52 203.70,276.45 204.71,275.51 205.72,274.71 206.73,274.01 207.74,273.41 208.76,272.90 209.77,272.45 210.78,272.06 211.79,271.73 212.80,271.43 213.82,271.18 214.83,270.95 215.84,270.76 216.85,270.58 217.87,270.42 218.88,270.28 219.89,270.16 220.90,270.04 221.91,269.93 222.93,269.83 223.94,269.74 224.95,269.66 225.96,269.57 226.97,269.50 227.99,269.42 229.00,269.35 230.01,269.28 231.02,269.21 232.04,269.15 233.05,269.08 234.06,269.02 235.07,268.96 236.08,268.90 237.10,268.84 238.11,268.78 239.12,268.72 240.13,268.66 241.15,268.60 242.16,268.54 243.17,268.48 244.18,268.42 245.19,268.37 246.21,268.31 247.22,268.25 248.23,268.19 249.24,268.13 250.25,268.08 251.27,268.02 252.28,267.96 253.29,267.91 254.30,267.85 255.32,267.79 256.33,267.73 257.34,267.68 258.35,267.62 259.36,267.56 260.38,267.51 261.39,267.45"/>
<polyline points="83.25,364.42 84.26,364.22 85.27,364.05 86.29,363.90 87.30,363.77 88.31,363.66 89.32,363.56 90.33,363.48 91.35,363.40 92.36,363.34 93.37,363.28 94.38,363.23 95.39,363.19 96.41,363.15 97.42,363.12 98.43,363.09 99.44,363.06 100.46,363.04 101.47,363.02 102.48,363.01 103.49,362.99 104.50,362.98 105.52,362.97 106.53,362.96 107.54,362.95 108.55,362.95 109.56,362.94 110.58,362.94 111.59,362.93 112.60,362.93 113.61,362.92 114.63,362.92 115.64,362.92 116.65,362.92 117.66,362.91 118.67,362.91 119.69,362.91 120.70,362.91 121.71,362.91 122.72,362.91 123.73,362.90 124.75,362.90 125.76,362.90 126.77,362.90 127.78,362.90 128.80,362.90 129.81,362.90 130.82,362.90 131.83,362.90 132.84,362.90 133.86,362.89 134.87,362.89 135.88,362.89 136.89,362.89 137.91,362.89 138.92,362.88 139.93,362.88 140.94,362.88 141.95,362.87 142.97,362.86 143.98,362.86 144.99,362.85 146.00,362.84 147.01,362.83 148.03,362.81 149.04,362.80 150.05,362.78 151.06,362.75 152.08,362.73 153.09,362.69 154.10,362.65 155.11,362.60 156.12,362.55 157.14,362.48 158.15,362.40 159.16,362.30 160.17,362.19 161.18,362.05 162.20,361.89 163.21,361.70 164.22,361.47 165.23,361.20 166.25,360.88 167.26,360.50 168.27,360.05 169.28,359.52 170.29,358.89 171.31,358.16 172.32,357.31 173.33,356.31 174.34,355.14 175.35,353.80 176.37,352.26 177.38,350.49 178.39,348.48 179.40,346.22 180.42,343.70 181.43,340.91 182.44,337.85 183.45,334.56 184.46,331.04 185.48,327.35 186.49,323.52 187.50,319.60 188.51,315.67 189.53,311.77 190.54,307.97 191.55,304.32 192.56,300.86 193.57,297.62 194.59,294.63 195.60,291.90 196.61,289.44 197.62,287.23 198.63,285.28 199.65,283.55 200.66,282.04 201.67,280.72 202.68,279.58 203.70,278.59 204.71,277.74 205.72,277.00 206.73,276.37 207.74,275.83 208.76,275.37 209.77,274.97 210.78,274.63 211.79,274.33 212.80,274.07 213.82,273.85 214.83,273.66 215.84,273.49 216.85,273.34 217.87,273.21 218.88,273.10 219.89,273.00 220.90,272.90 221.91,272.82 222.93,272.74 223.94,272.67 224.95,272.61 225.96,272.55 226.97,272.49 227.99,272.44 229.00,272.38 230.01,272.34 231.02,272.29 232.04,272.24 233.05,272.20 234.06,272.15 235.07,272.11 236.08,272.07 237.10,272.03 238.11,271.99 239.12,271.95 240.13,271.91 241.15,271.87 242.16,271.83 243.17,271.79 244.18,271.75 245.19,271.71 246.21,271.67 247.22,271.63 248.23,271.59 249.24,271.56 250.25,271.52 251.27,271.48 252.28,271.44 253.29,271.40 254.30,271.36 255.32,271.33 256.33,271.29 257.34,271.25 258.35,271.21 259.36,271.17 260.38,271.14 261.39,271.10"/>
<polyline points="83.25,364.42 84.26,364.22 85.27,364.05 86.29,363.90 87.30,363.77 88.31,363.66 89.32,363.56 90.33,363.48 91.35,363.40 92.36,363.34 93.37,363.28 94.38,363.23 95.39,363.19 96.41,363.15 97.42,363.12 98.43,363.09 99.44,363.06 100.46,363.04 101.47,363.02 102.48,363.01 103.49,362.99 104.50,362.98 105.52,362.97 106.53,362.96 107.54,362.95 108.55,362.95 109.56,362.94 110.58,362.94 111.59,362.93 112.60,362.93 113.61,362.92 114.63,362.92 115.64,362.92 116.65,362.91 117.66,362.91 118.67,362.91 119.69,362.91 120.70,362.91 121.71,362.91 122.72,362.90 123.73,362.90 124.75,362.90 125.76,362.90 126.77,362.90 127.78,362.90 128.80,362.90 129.81,362.90 130.82,362.90 131.83,362.89 132.84,362.89 133.86,362.89 134.87,362.89 135.88,362.89 136.89,362.88 137.91,362.88 138.92,362.87 139.93,362.87 140.94,362.86 141.95,362.86 142.97,362.85 143.98,362.84 144.99,362.83 146.00,362.81 147.01,362.80 148.03,362.78 149.04,362.76 150.05,362.73 151.06,362.70 152.08,362.67 153.09,362.63 154.10,362.58 155.11,362.52 156.12,362.45 157.14,362.37 158.15,362.27 159.16,362.15 160.17,362.02 161.18,361.86 162.20,361.68 163.21,361.46 164.22,361.20 165.23,360.89 166.25,360.54 167.26,360.12 168.27,359.64 169.28,359.07 170.29,358.41 171.31,357.64 172.32,356.75 173.33,355.72 174.34,354.54 175.35,353.19 176.37,351.65 177.38,349.91 178.39,347.96 179.40,345.77 180.42,343.36 181.43,340.71 182.44,337.83 183.45,334.75 184.46,331.47 185.48,328.05 186.49,324.50 187.50,320.88 188.51,317.24 189.53,313.63 190.54,310.08 191.55,306.66 192.56,303.40 193.57,300.32 194.59,297.45 195.60,294.81 196.61,292.39 197.62,290.21 198.63,288.24 199.65,286.49 200.66,284.93 201.67,283.56 202.68,282.35 203.70,281.29 204.71,280.36 205.72,279.56 206.73,278.85 207.74,278.24 208.76,277.71 209.77,277.24 210.78,276.84 211.79,276.48 212.80,276.17 213.82,275.90 214.83,275.66 215.84,275.44 216.85,275.25 217.87,275.08 218.88,274.93 219.89,274.79 220.90,274.67 221.91,274.55 222.93,274.45 223.94,274.35 224.95,274.25 225.96,274.17 226.97,274.08 227.99,274.00 229.00,273.93 230.01,273.86 231.02,273.79 232.04,273.72 233.05,273.65 234.06,273.59 235.07,273.52 236.08,273.46 237.10,273.40 238.11,273.34 239.12,273.28 240.13,273.22 241.15,273.16 242.16,273.10 243.17,273.04 244.18,272.98 245.19,272.92 246.21,272.86 247.22,272.81 248.23,272.75 249.24,272.69 250.25,272.63 251.27,272.57 252.28,272.52 253.29,272.46 254.30,272.40 255.32,272.34 256.33,272.29 257.34,272.23 258.35,272.17 259.36,272.12 260.38,272.06 261.39,272.00"/>
<polyline points="83.25,364.42 84.26,364.22 85.27,364.05 86.29,363.90 87.30,363.77 88.31,363.66 89.32,363.56 90.33,363.48 91.35,363.40 92.36,363.34 93.37,363.28 94.38,363.23 95.39,363.19 96.41,363.15 97.42,363.12 98.43,363.09 99.44,363.06 100.46,363.04 101.47,363.02 102.48,363.01 103.49,362.99 104.50,362.98 105.52,362.97 106.53,362.96 107.54,362.95 108.55,362.95 109.56,362.94 110.58,362.94 111.59,362.93 112.60,362.93 113.61,362.92 114.63,362.92 115.64,362.92 116.65,362.92 117.66,362.91 118.67,362.91 119.69,362.91 120.70,362.91 121.71,362.91 122.72,362.91 123.73,362.91 124.75,362.90 125.76,362.90 126.77,362.90 127.78,362.90 128.80,362.90 129.81,362.90 130.82,362.90 131.83,362.90 132.84,362.90 133.86,362.90 134.87,362.90 135.88,362.90 136.89,362.90 137.91,362.90 138.92,362.90 139.93,362.90 140.94,362.90 141.95,362.90 142.97,362.90 143.98,362.90 144.99,362.90 146.00,362.89 147.01,362.89 148.03,362.89 149.04,362.89 150.05,362.89 151.06,362.89 152.08,362.88 153.09,362.88 154.10,362.88 155.11,362.87 156.12,362.87 157.14,362.86 158.15,362.85 159.16,362.84 160.17,362.83 161.18,362.82 162.20,362.81 163.21,362.79 164.22,362.77 165.23,362.74 166.25,362.71 167.26,362.67 168.27,362.63 169.28,362.58 170.29,362.52 171.31,362.44 172.32,362.36 173.33,362.25 174.34,362.13 175.35,361.98 176.37,361.80 177.38,361.60 178.39,361.35 179.40,361.06 180.42,360.71 181.43,360.30 182.44,359.81 183.45,359.24 184.46,358.57 185.48,357.78 186.49,356.86 187.50,355.78 188.51,354.54 189.53,353.10 190.54,351.44 191.55,349.56 192.56,347.42 193.57,345.03 194.59,342.36 195.60,339.43 196.61,336.23 197.62,332.79 198.63,329.14 199.65,325.33 200.66,321.39 201.67,317.40 202.68,313.41 203.70,309.47 204.71,305.66 205.72,302.01 206.73,298.57 207.74,295.37 208.76,292.42 209.77,289.75 210.78,287.34 211.79,285.19 212.80,283.29 213.82,281.62 214.83,280.15 215.84,278.88 216.85,277.78 217.87,276.83 218.88,276.01 219.89,275.30 220.90,274.70 221.91,274.18 222.93,273.73 223.94,273.35 224.95,273.02 225.96,272.73 226.97,272.49 227.99,272.27 229.00,272.09 230.01,271.92 231.02,271.78 232.04,271.66 233.05,271.55 234.06,271.45 235.07,271.36 236.08,271.27 237.10,271.20 238.11,271.13 239.12,271.07 240.13,271.01 241.15,270.95 242.16,270.90 243.17,270.85 244.18,270.80 245.19,270.75 246.21,270.70 247.22,270.66 248.23,270.62 249.24,270.57 250.25,270.53 251.27,270.49 252.28,270.45 253.29,270.41 254.30,270.37 255.32,270.33 256.33,270.29 257.34,270.25 258.35,270.21 259.36,270.17 260.38,270.14 261.39,270.10"/>
<polyline points="83.25,364.42 84.26,364.22 85.27,364.05 86.29,363.90 87.30,363.77 88.31,363.66 89.32,363.56 90.33,363.48 91.35,363.40 92.36,363.34 93.37,363.28 94.38,363.23 95.39,363.19 96.41,363.15 97.42,363.12 98.43,363.09 99.44,363.06 100.46,363.04 101.47,363.02 102.48,363.01 103.49,362.99 104.50,362.98 105.52,362.97 106.53,362.96 107.54,362.95 108.55,362.95 109.56,362.94 110.58,362.94 111.59,362.93 112.60,362.93 113.61,362.92 114.63,362.92 115.64,362.92 116.65,362.92 117.66,362.91 118.67,362.91 119.69,362.91 120.70,362.91 121.71,362.91 122.72,362.91 123.73,362.91 124.75,362.90 125.76,362.90 126.77,362.90 127.78,362.90 128.80,362.90 129.81,362.90 130.82,362.90 131.83,362.90 132.84,362.90 133.86,362.90 134.87,362.90 135.88,362.90 136.89,362.90 137.91,362.90 138.92,362.90 139.93,362.90 140.94,362.90 141.95,362.90 142.97,362.90 143.98,362.90 144.99,362.90 146.00,362.89 147.01,362.89 148.03,362.89 149.04,362.89 150.05,362.89 151.06,362.89 152.08,362.88 153.09,362.88 154.10,362.88 155.11,362.87 156.12,362.87 157.14,362.86 158.15,362.85 159.16,362.84 160.17,362.83 161.18,362.82 162.20,362.81 163.21,362.79 164.22,362.77 165.23,362.74 166.25,362.71 167.26,362.67 168.27,362.63 169.28,362.58 170.29,362.52 171.31,362.44 172.32,362.36 173.33,362.25 174.34,362.13 175.35,361.98 176.37,361.81 177.38,361.60 178.39,361.35 179.40,361.06 180.42,360.71 181.43,360.30 182.44,359.82 183.45,359.25 184.46,358.58 185.48,357.80 186.49,356.88 187.50,355.81 188.51,354.57 189.53,353.14 190.54,351.50 191.55,349.63 192.56,347.52 193.57,345.14 194.59,342.51 195.60,339.61 196.61,336.46 197.62,333.08 198.63,329.50 199.65,325.77 200.66,321.92 201.67,318.02 202.68,314.13 203.70,310.31 204.71,306.61 205.72,303.07 206.73,299.75 207.74,296.66 208.76,293.83 209.77,291.26 210.78,288.94 211.79,286.88 212.80,285.05 213.82,283.45 214.83,282.05 215.84,280.83 216.85,279.78 217.87,278.87 218.88,278.08 219.89,277.41 220.90,276.83 221.91,276.33 222.93,275.90 223.94,275.54 224.95,275.22 225.96,274.95 226.97,274.71 227.99,274.51 229.00,274.33 230.01,274.17 231.02,274.03 232.04,273.91 233.05,273.80 234.06,273.71 235.07,273.62 236.08,273.54 237.10,273.47 238.11,273.40 239.12,273.34 240.13,273.28 241.15,273.22 242.16,273.17 243.17,273.12 244.18,273.07 245.19,273.03 246.21,272.98 247.22,272.94 248.23,272.89 249.24,272.85 250.25,272.81 251.27,272.77 252.28,272.73 253.29,272.69 254.30,272.65 255.32,272.61 256.33,272.57 257.34,272.53 258.35,272.49 259.36,272.45 260.38,272.41 261.39,272.37"/>
<polyline points="83.25,364.42 84.26,364.22 85.27,364.05 86.29,363.90 87.30,363.77 88.31,363.66 89.32,363.56 90.33,363.48 91.35,363.40 92.36,363.34 93.37,363.28 94.38,363.23 95.39,363.19 96.41,363.15 97.42,363.12 98.43,363.09 99.44,363.06 100.46,363.04 101.47,363.02 102.48,363.01 103.49,362.99 104.50,362.98 105.52,362.97 106.53,362.96 107.54,362.95 108.55,362.95 109.56,362.94 110.58,362.94 111.59,362.93 112.60,362.93 113.61,362.92 114.63,362.92 115.64,362.92 116.65,362.92 117.66,362.91 118.67,362.91 119.69,362.91 120.70,362.91 121.71,362.91 122.72,362.91 123.73,362.91 124.75,362.91 125.76,362.90 126.77,362.90 127.78,362.90 128.80,362.90 129.81,362.90 130.82,362.90 131.83,362.90 132.84,362.90 133.86,362.90 134.87,362.90 135.88,362.90 136.89,362.90 137.91,362.90 138.92,362.90 139.93,362.90 140.94,362.90 141.95,362.90 142.97,362.90 143.98,362.90 144.99,362.90 146.00,362.90 147.01,362.90 148.03,362.90 149.04,362.90 150.05,362.90 151.06,362.90 152.08,362.90 153.09,362.90 154.10,362.90 155.11,362.90 156.12,362.90 157.14,362.90 158.15,362.90 159.16,362.89 160.17,362.89 161.18,362.89 162.20,362.89 163.21,362.89 164.22,362.89 165.23,362.89 166.25,362.88 167.26,362.88 168.27,362.87 169.28,362.87 170.29,362.86 171.31,362.86 172.32,362.85 173.33,362.84 174.34,362.83 175.35,362.81 176.37,362.80 177.38,362.78 178.39,362.75 179.40,362.72 180.42,362.69 181.43,362.65 182.44,362.60 183.45,362.54 184.46,362.48 185.48,362.39 186.49,362.30 187.50,362.18 188.51,362.04 189.53,361.88 190.54,361.69 191.55,361.46 192.56,361.19 193.57,360.86 194.59,360.48 195.60,360.03 196.61,359.50 197.62,358.87 198.63,358.13 199.65,357.27 200.66,356.26 201.67,355.09 202.68,353.74 203.70,352.17 204.71,350.39 205.72,348.36 206.73,346.07 207.74,343.51 208.76,340.67 209.77,337.57 210.78,334.20 211.79,330.61 212.80,326.83 213.82,322.89 214.83,318.86 215.84,314.80 216.85,310.77 217.87,306.83 218.88,303.04 219.89,299.44 220.90,296.06 221.91,292.95 222.93,290.10 223.94,287.52 224.95,285.21 225.96,283.16 226.97,281.36 227.99,279.77 229.00,278.40 230.01,277.21 231.02,276.18 232.04,275.30 233.05,274.54 234.06,273.89 235.07,273.34 236.08,272.86 237.10,272.46 238.11,272.12 239.12,271.82 240.13,271.57 241.15,271.36 242.16,271.18 243.17,271.02 244.18,270.89 245.19,270.77 246.21,270.67 247.22,270.58 248.23,270.50 249.24,270.44 250.25,270.38 251.27,270.32 252.28,270.27 253.29,270.23 254.30,270.19 255.32,270.16 256.33,270.12 257.34,270.09 258.35,270.06 259.36,270.04 260.38,270.01 261.39,269.98"/>
<polyline points="83.25,364.42 84.26,364.22 85.27,364.05 86.29,363.90 87.30,363.77 88.31,363.66 89.32,363.56 90.33,363.48 91.35,363.40 92.36,363.34 93.37,363.28 94.38,363.23 95.39,363.19 96.41,363.15 97.42,363.12 98.43,363.09 99.44,363.06 100.46,363.04 101.47,363.02 102.48,363.01 103.49,362.99 104.50,362.98 105.52,362.97 106.53,362.96 107.54,362.95 108.55,362.95 109.56,362.94 110.58,362.94 111.59,362.93 112.60,362.93 113.61,362.92 114.63,362.92 115.64,362.92 116.65,362.92 117.66,362.91 118.67,362.91 119.69,362.91 120.70,362.91 121.71,362.91 122.72,362.91 123.73,362.91 124.75,362.91 125.76,362.90 126.77,362.90 127.78,362.90 128.80,362.90 129.81,362.90 130.82,362.90 131.83,362.90 132.84,362.90 133.86,362.90 134.87,362.90 135.88,362.90 136.89,362.90 137.91,362.90 138.92,362.90 139.93,362.90 140.94,362.90 141.95,362.90 142.97,362.90 143.98,362.90 144.99,362.90 146.00,362.90 147.01,362.90 148.03,362.90 149.04,362.90 150.05,362.90 151.06,362.90 152.08,362.90 153.09,362.90 154.10,362.90 155.11,362.90 156.12,362.90 157.14,362.90 158.15,362.90 159.16,362.90 160.17,362.89 161.18,362.89 162.20,362.89 163.21,362.89 164.22,362.89 165.23,362.89 166.25,362.88 167.26,362.88 168.27,362.88 169.28,362.87 170.29,362.86 171.31,362.86 172.32,362.85 173.33,362.84 174.34,362.83 175.35,362.82 176.37,362.80 177.38,362.78 178.39,362.76 179.40,362.73 180.42,362.70 181.43,362.66 182.44,362.61 183.45,362.55 184.46,362.49 185.48,362.41 186.49,362.31 187.50,362.20 188.51,362.07 189.53,361.91 190.54,361.72 191.55,361.49 192.56,361.23 193.57,360.91 194.59,360.54 195.60,360.10 196.61,359.57 197.62,358.96 198.63,358.24 199.65,357.40 200.66,356.42 201.67,355.28 202.68,353.96 203.70,352.44 204.71,350.70 205.72,348.73 206.73,346.50 207.74,344.02 208.76,341.28 209.77,338.28 210.78,335.04 211.79,331.58 212.80,327.95 213.82,324.18 214.83,320.34 215.84,316.47 216.85,312.64 217.87,308.90 218.88,305.31 219.89,301.91 220.90,298.73 221.91,295.79 222.93,293.11 223.94,290.69 224.95,288.52 225.96,286.59 226.97,284.90 227.99,283.41 229.00,282.12 230.01,280.99 231.02,280.02 232.04,279.18 233.05,278.46 234.06,277.84 235.07,277.31 236.08,276.85 237.10,276.46 238.11,276.12 239.12,275.83 240.13,275.58 241.15,275.36 242.16,275.17 243.17,275.00 244.18,274.86 245.19,274.73 246.21,274.61 247.22,274.51 248.23,274.42 249.24,274.34 250.25,274.26 251.27,274.19 252.28,274.13 253.29,274.07 254.30,274.01 255.32,273.96 256.33,273.91 257.34,273.86 258.35,273.81 259.36,273.76 260.38,273.72 261.39,273.68"/>
<polyline points="83.25,364.42 84.26,364.22 85.27,364.05 86.29,363.90 87.30,363.77 88.31,363.66 89.32,363.56 90.33,363.48 91.35,363.40 92.36,363.34 93.37,363.28 94.38,363.23 95.39,363.19 96.41,363.15 97.42,363.12 98.43,363.09 99.44,363.06 100.46,363.04 101.47,363.02 102.48,363.01 103.49,362.99 104.50,362.98 105.52,362.97 106.53,362.96 107.54,362.95 108.55,362.95 109.56,362.94 110.58,362.94 111.59,362.93 112.60,362.93 113.61,362.92 114.63,362.92 115.64,362.92 116.65,362.92 117.66,362.91 118.67,362.91 119.69,362.91 120.70,362.91 121.71,362.91 122.72,362.91 123.73,362.91 124.75,362.91 125.76,362.90 126.77,362.90 127.78,362.90 128.80,362.90 129.81,362.90 130.82,362.90 131.83,362.90 132.84,362.90 133.86,362.90 134.87,362.90 135.88,362.90 136.89,362.90 137.91,362.90 138.92,362.90 139.93,362.90 140.94,362.90 141.95,362.90 142.97,362.90 143.98,362.90 144.99,362.90 146.00,362.90 147.01,362.90 148.03,362.90 149.04,362.90 150.05,362.90 151.06,362.90 152.08,362.90 153.09,362.90 154.10,362.90 155.11,362.90 156.12,362.90 157.14,362.90 158.15,362.90 159.16,362.90 160.17,362.90 161.18,362.90 162.20,362.90 163.21,362.90 164.22,362.90 165.23,362.90 166.25,362.90 167.26,362.90 168.27,362.90 169.28,362.90 170.29,362.90 171.31,362.90 172.32,362.90 173.33,362.90 174.34,362.90 175.35,362.89 176.37,362.89 177.38,362.89 178.39,362.89 179.40,362.89 180.42,362.89 181.43,362.89 182.44,362.88 183.45,362.88 184.46,362.87 185.48,362.87 186.49,362.86 187.50,362.86 188.51,362.85 189.53,362.84 190.54,362.83 191.55,362.81 192.56,362.80 193.57,362.78 194.59,362.75 195.60,362.73 196.61,362.69 197.62,362.65 198.63,362.61 199.65,362.55 200.66,362.48 201.67,362.40 202.68,362.31 203.70,362.19 204.71,362.06 205.72,361.90 206.73,361.71 207.74,361.48 208.76,361.21 209.77,360.89 210.78,360.52 211.79,360.07 212.80,359.54 213.82,358.93 214.83,358.20 215.84,357.35 216.85,356.35 217.87,355.19 218.88,353.85 219.89,352.30 220.90,350.53 221.91,348.51 222.93,346.24 223.94,343.68 224.95,340.85 225.96,337.74 226.97,334.37 227.99,330.76 229.00,326.95 230.01,322.97 231.02,318.89 232.04,314.76 233.05,310.66 234.06,306.63 235.07,302.74 236.08,299.04 237.10,295.57 238.11,292.35 239.12,289.40 240.13,286.73 241.15,284.34 242.16,282.21 243.17,280.33 244.18,278.68 245.19,277.25 246.21,276.00 247.22,274.93 248.23,274.01 249.24,273.22 250.25,272.54 251.27,271.96 252.28,271.46 253.29,271.04 254.30,270.68 255.32,270.38 256.33,270.12 257.34,269.89 258.35,269.70 259.36,269.54 260.38,269.40 261.39,269.28"/>
<polyline points="83.25,364.42 84.26,364.22 85.27,364.05 86.29,363.90 87.30,363.77 88.31,363.66 89.32,363.56 90.33,363.48 91.35,363.40 92.36,363.34 93.37,363.28 94.38,363.23 95.39,363.19 96.41,363.15 97.42,363.12 98.43,363.09 99.44,363.06 100.46,363.04 101.47,363.02 102.48,363.01 103.49,362.99 104.50,362.98 105.52,362.97 106.53,362.96 107.54,362.95 108.55,362.95 109.56,362.94 110.58,362.94 111.59,362.93 112.60,362.93 113.61,362.92 114.63,362.92 115.64,362.92 116.65,362.92 117.66,362.91 118.67,362.91 119.69,362.91 120.70,362.91 121.71,362.91 122.72,362.91 123.73,362.91 124.75,362.91 125.76,362.90 126.77,362.90 127.78,362.90 128.80,362.90 129.81,362.90 130.82,362.90 131.83,362.90 132.84,362.90 133.86,362.90 134.87,362.90 135.88,362.90 136.89,362.90 137.91,362.90 138.92,362.90 139.93,362.90 140.94,362.90 141.95,362.90 142.97,362.90 143.98,362.90 144.99,362.90 146.00,362.90 147.01,362.90 148.03,362.90 149.04,362.90 150.05,362.90 151.06,362.90 152.08,362.90 153.09,362.90 154.10,362.90 155.11,362.90 156.12,362.90 157.14,362.90 158.15,362.90 159.16,362.90 160.17,362.90 161.18,362.90 162.20,362.90 163.21,362.90 164.22,362.90 165.23,362.90 166.25,362.90 167.26,362.90 168.27,362.90 169.28,362.90 170.29,362.90 171.31,362.90 172.32,362.90 173.33,362.90 174.34,362.90 175.35,362.90 176.37,362.89 177.38,362.89 178.39,362.89 179.40,362.89 180.42,362.89 181.43,362.89 182.44,362.88 183.45,362.88 184.46,362.88 185.48,362.87 186.49,362.87 187.50,362.86 188.51,362.85 189.53,362.84 190.54,362.83 191.55,362.82 192.56,362.80 193.57,362.78 194.59,362.76 195.60,362.73 196.61,362.70 197.62,362.66 198.63,362.61 199.65,362.56 200.66,362.49 201.67,362.42 202.68,362.32 203.70,362.21 204.71,362.08 205.72,361.93 206.73,361.74 207.74,361.52 208.76,361.26 209.77,360.95 210.78,360.59 211.79,360.15 212.80,359.64 213.82,359.04 214.83,358.34 215.84,357.51 216.85,356.55 217.87,355.42 218.88,354.12 219.89,352.63 220.90,350.91 221.91,348.96 222.93,346.75 223.94,344.29 224.95,341.55 225.96,338.55 226.97,335.30 227.99,331.82 229.00,328.15 230.01,324.33 231.02,320.41 232.04,316.45 233.05,312.51 234.06,308.66 235.07,304.94 236.08,301.40 237.10,298.08 238.11,295.01 239.12,292.20 240.13,289.66 241.15,287.38 242.16,285.35 243.17,283.56 244.18,282.00 245.19,280.63 246.21,279.45 247.22,278.43 248.23,277.55 249.24,276.80 250.25,276.16 251.27,275.61 252.28,275.14 253.29,274.74 254.30,274.39 255.32,274.10 256.33,273.85 257.34,273.64 258.35,273.46 259.36,273.30 260.38,273.17 261.39,273.05"/>
<polyline points="83.25,364.42 84.26,364.22 85.27,364.05 86.29,363.90 87.30,363.77 88.31,363.66 89.32,363.56 90.33,363.48 91.35,363.40 92.36,363.34 93.37,363.28 94.38,363.23 95.39,363.19 96.41,363.15 97.42,363.12 98.43,363.09 99.44,363.06 100.46,363.04 101.47,363.02 102.48,363.01 103.49,362.99 104.50,362.98 105.52,362.97 106.53,362.96 107.54,362.95 108.55,362.95 109.56,362.94 110.58,362.94 111.59,362.93 112.60,362.93 113.61,362.92 114.63,362.92 115.64,362.92 116.65,362.92 117.66,362.91 118.67,362.91 119.69,362.91 120.70,362.91 121.71,362.91 122.72,362.91 123.73,362.91 124.75,362.91 125.76,362.90 126.77,362.90 127.78,362.90 128.80,362.90 129.81,362.90 130.82,362.90 131.83,362.90 132.84,362.90 133.86,362.90 134.87,362.90 135.88,362.90 136.89,362.90 137.91,362.90 138.92,362.90 139.93,362.90 140.94,362.90 141.95,362.90 142.97,362.90 143.98,362.90 144.99,362.90 146.00,362.90 147.01,362.90 148.03,362.90 149.04,362.90 150.05,362.90 151.06,362.90 152.08,362.90 153.09,362.90 154.10,362.90 155.11,362.90 156.12,362.90 157.14,362.90 158.15,362.90 159.16,362.90 160.17,362.90 161.18,362.90 162.20,362.90 163.21,362.90 164.22,362.90 165.23,362.90 166.25,362.90 167.26,362.90 168.27,362.90 169.28,362.90 170.29,362.90 171.31,362.90 172.32,362.90 173.33,362.90 174.34,362.90 175.35,362.90 176.37,362.90 177.38,362.90 178.39,362.90 179.40,362.90 180.42,362.90 181.43,362.90 182.44,362.90 183.45,362.90 184.46,362.90 185.48,362.90 186.49,362.90 187.50,362.89 188.51,362.89 189.53,362.89 190.54,362.89 191.55,362.89 192.56,362.89 193.57,362.89 194.59,362.88 195.60,362.88 196.61,362.88 197.62,362.87 198.63,362.86 199.65,362.86 200.66,362.85 201.67,362.84 202.68,362.83 203.70,362.81 204.71,362.80 205.72,362.78 206.73,362.76 207.74,362.73 208.76,362.69 209.77,362.66 210.78,362.61 211.79,362.55 212.80,362.49 213.82,362.41 214.83,362.31 215.84,362.20 216.85,362.07 217.87,361.91 218.88,361.72 219.89,361.49 220.90,361.23 221.91,360.91 222.93,360.54 223.94,360.10 224.95,359.58 225.96,358.97 226.97,358.25 227.99,357.40 229.00,356.42 230.01,355.27 231.02,353.94 232.04,352.40 233.05,350.64 234.06,348.64 235.07,346.37 236.08,343.82 237.10,341.00 238.11,337.89 239.12,334.51 240.13,330.88 241.15,327.04 242.16,323.03 243.17,318.91 244.18,314.73 245.19,310.56 246.21,306.46 247.22,302.49 248.23,298.71 249.24,295.16 250.25,291.86 251.27,288.83 252.28,286.08 253.29,283.62 254.30,281.43 255.32,279.50 256.33,277.80 257.34,276.33 258.35,275.06 259.36,273.96 260.38,273.01 261.39,272.21"/>
<polyline points="83.25,364.42 84.26,364.22 85.27,364.05 86.29,363.90 87.30,363.77 88.31,363.66 89.32,363.56 90.33,363.48 91.35,363.40 92.36,363.34 93.37,363.28 94.38,363.23 95.39,363.19 96.41,363.15 97.42,363.12 98.43,363.09 99.44,363.06 100.46,363.04 101.47,363.02 102.48,363.01 103.49,362.99 104.50,362.98 105.52,362.97 106.53,362.96 107.54,362.95 108.55,362.95 109.56,362.94 110.58,362.94 111.59,362.93 112.60,362.93 113.61,362.92 114.63,362.92 115.64,362.92 116.65,362.92 117.66,362.91 118.67,362.91 119.69,362.91 120.70,362.91 121.71,362.91 122.72,362.91 123.73,362.91 124.75,362.91 125.76,362.90 126.77,362.90 127.78,362.90 128.80,362.90 129.81,362.90 130.82,362.90 131.83,362.90 132.84,362.90 133.86,362.90 134.87,362.90 135.88,362.90 136.89,362.90 137.91,362.90 138.92,362.90 139.93,362.90 140.94,362.90 141.95,362.90 142.97,362.90 143.98,362.90 144.99,362.90 146.00,362.90 147.01,362.90 148.03,362.90 149.04,362.90 150.05,362.90 151.06,362.90 152.08,362.90 153.09,362.90 154.10,362.90 155.11,362.90 156.12,362.90 157.14,362.90 158.15,362.90 159.16,362.90 160.17,362.90 161.18,362.90 162.20,362.90 163.21,362.90 164.22,362.90 165.23,362.90 166.25,362.90 167.26,362.90 168.27,362.90 169.28,362.90 170.29,362.90 171.31,362.90 172.32,362.90 173.33,362.90 174.34,362.90 175.35,362.90 176.37,362.90 177.38,362.90 178.39,362.90 179.40,362.90 180.42,362.90 181.43,362.90 182.44,362.90 183.45,362.90 184.46,362.90 185.48,362.90 186.49,362.90 187.50,362.90 188.51,362.89 189.53,362.89 190.54,362.89 191.55,362.89 192.56,362.89 193.57,362.89 194.59,362.88 195.60,362.88 196.61,362.88 197.62,362.87 198.63,362.87 199.65,362.86 200.66,362.85 201.67,362.84 202.68,362.83 203.70,362.82 204.71,362.80 205.72,362.78 206.73,362.76 207.74,362.73 208.76,362.70 209.77,362.66 210.78,362.62 211.79,362.56 212.80,362.50 213.82,362.42 214.83,362.33 215.84,362.22 216.85,362.09 217.87,361.94 218.88,361.75 219.89,361.54 220.90,361.28 221.91,360.97 222.93,360.61 223.94,360.19 224.95,359.68 225.96,359.09 226.97,358.39 227.99,357.57 229.00,356.62 230.01,355.51 231.02,354.22 232.04,352.74 233.05,351.03 234.06,349.09 235.07,346.90 236.08,344.44 237.10,341.72 238.11,338.72 239.12,335.46 240.13,331.97 241.15,328.27 242.16,324.41 243.17,320.45 244.18,316.44 245.19,312.43 246.21,308.51 247.22,304.71 248.23,301.09 249.24,297.69 250.25,294.53 251.27,291.64 252.28,289.02 253.29,286.67 254.30,284.58 255.32,282.74 256.33,281.13 257.34,279.72 258.35,278.51 259.36,277.46 260.38,276.56 261.39,275.80"/>
<polyline points="83.25,364.42 84.26,364.22 85.27,364.05 86.29,363.90 87.30,363.77 88.31,363.66 89.32,363.56 90.33,363.48 91.35,363.40 92.36,363.34 93.37,363.28 94.38,363.23 95.39,363.19 96.41,363.15 97.42,363.12 98.43,363.09 99.44,363.06 100.46,363.04 101.47,363.02 102.48,363.01 103.49,362.99 104.50,362.98 105.52,362.97 106.53,362.96 107.54,362.95 108.55,362.95 109.56,362.94 110.58,362.94 111.59,362.93 112.60,362.93 113.61,362.92 114.63,362.92 115.64,362.92 116.65,362.92 117.66,362.91 118.67,362.91 119.69,362.91 120.70,362.91 121.71,362.91 122.72,362.91 123.73,362.91 124.75,362.91 125.76,362.90 126.77,362.90 127.78,362.90 128.80,362.90 129.81,362.90 130.82,362.90 131.83,362.90 132.84,362.90 133.86,362.90 134.87,362.90 135.88,362.90 136.89,362.90 137.91,362.90 138.92,362.90 139.93,362.90 140.94,362.90 141.95,362.90 142.97,362.90 143.98,362.90 144.99,362.90 146.00,362.90 147.01,362.90 148.03,362.90 149.04,362.90 150.05,362.90 151.06,362.90 152.08,362.90 153.09,362.90 154.10,362.90 155.11,362.90 156.12,362.90 157.14,362.90 158.15,362.90 159.16,362.90 160.17,362.90 161.18,362.90 162.20,362.90 163.21,362.90 164.22,362.90 165.23,362.90 166.25,362.90 167.26,362.90 168.27,362.90 169.28,362.90 170.29,362.90 171.31,362.90 172.32,362.90 173.33,362.90 174.34,362.90 175.35,362.90 176.37,362.90 177.38,362.90 178.39,362.90 179.40,362.90 180.42,362.90 181.43,362.90 182.44,362.90 183.45,362.90 184.46,362.90 185.48,362.90 186.49,362.90 187.50,362.90 188.51,362.90 189.53,362.90 190.54,362.90 191.55,362.90 192.56,362.90 193.57,362.90 194.59,362.90 195.60,362.90 196.61,362.90 197.62,362.90 198.63,362.90 199.65,362.90 200.66,362.90 201.67,362.90 202.68,362.90 203.70,362.90 204.71,362.90 205.72,362.90 206.73,362.90 207.74,362.90 208.76,362.89 209.77,362.89 210.78,362.89 211.79,362.89 212.80,362.89 213.82,362.89 214.83,362.88 215.84,362.88 216.85,362.88 217.87,362.87 218.88,362.87 219.89,362.86 220.90,362.85 221.91,362.85 222.93,362.84 223.94,362.82 224.95,362.81 225.96,362.79 226.97,362.77 227.99,362.74 229.00,362.71 230.01,362.68 231.02,362.64 232.04,362.58 233.05,362.52 234.06,362.45 235.07,362.37 236.08,362.26 237.10,362.14 238.11,362.00 239.12,361.83 240.13,361.62 241.15,361.38 242.16,361.10 243.17,360.76 244.18,360.36 245.19,359.89 246.21,359.33 247.22,358.68 248.23,357.92 249.24,357.03 250.25,355.99 251.27,354.79 252.28,353.40 253.29,351.82 254.30,350.01 255.32,347.97 256.33,345.69 257.34,343.16 258.35,340.38 259.36,337.37 260.38,334.14 261.39,330.74"/>
<polyline points="83.25,364.80 84.26,364.56 85.27,364.34 86.29,364.15 87.30,363.99 88.31,363.85 89.32,363.73 90.33,363.62 91.35,363.53 92.36,363.45 93.37,363.37 94.38,363.31 95.39,363.26 96.41,363.21 97.42,363.17 98.43,363.14 99.44,363.11 100.46,363.08 101.47,363.06 102.48,363.04 103.49,363.02 104.50,363.00 105.52,362.99 106.53,362.98 107.54,362.97 108.55,362.96 109.56,362.95 110.58,362.94 111.59,362.94 112.60,362.93 113.61,362.93 114.63,362.93 115.64,362.92 116.65,362.92 117.66,362.92 118.67,362.91 119.69,362.91 120.70,362.91 121.71,362.91 122.72,362.91 123.73,362.91 124.75,362.91 125.76,362.91 126.77,362.90 127.78,362.90 128.80,362.90 129.81,362.90 130.82,362.90 131.83,362.90 132.84,362.90 133.86,362.90 134.87,362.90 135.88,362.90 136.89,362.90 137.91,362.90 138.92,362.90 139.93,362.90 140.94,362.90 141.95,362.90 142.97,362.90 143.98,362.90 144.99,362.90 146.00,362.90 147.01,362.90 148.03,362.90 149.04,362.90 150.05,362.90 151.06,362.90 152.08,362.90 153.09,362.90 154.10,362.90 155.11,362.90 156.12,362.90 157.14,362.90 158.15,362.90 159.16,362.90 160.17,362.90 161.18,362.90 162.20,362.90 163.21,362.90 164.22,362.90 165.23,362.90 166.25,362.90 167.26,362.90 168.27,362.90 169.28,362.90 170.29,362.90 171.31,362.90 172.32,362.90 173.33,362.90 174.34,362.90 175.35,362.90 176.37,362.90 177.38,362.90 178.39,362.90 179.40,362.90 180.42,362.90 181.43,362.90 182.44,362.90 183.45,362.90 184.46,362.90 185.48,362.90 186.49,362.90 187.50,362.90 188.51,362.90 189.53,362.90 190.54,362.90 191.55,362.90 192.56,362.90 193.57,362.90 194.59,362.90 195.60,362.90 196.61,362.90 197.62,362.90 198.63,362.90 199.65,362.90 200.66,362.90 201.67,362.90 202.68,362.90 203.70,362.90 204.71,362.90 205.72,362.90 206.73,362.90 207.74,362.90 208.76,362.90 209.77,362.90 210.78,362.90 211.79,362.90 212.80,362.90 213.82,362.90 214.83,362.90 215.84,362.90 216.85,362.90 217.87,362.90 218.88,362.90 219.89,362.90 220.90,362.90 221.91,362.90 222.93,362.90 223.94,362.90 224.95,362.90 225.96,362.90 226.97,362.90 227.99,362.90 229.00,362.90 230.01,362.90 231.02,362.90 232.04,362.90 233.05,362.90 234.06,362.90 235.07,362.90 236.08,362.90 237.10,362.90 238.11,362.90 239.12,362.90 240.13,362.90 241.15,362.90 242.16,362.90 243.17,362.90 244.18,362.90 245.19,362.90 246.21,362.90 247.22,362.90 248.23,362.90 249.24,362.90 250.25,362.90 251.27,362.90 252.28,362.90 253.29,362.90 254.30,362.90 255.32,362.90 256.33,362.90 257.34,362.90 258.35,362.90 259.36,362.90 260.38,362.90 261.39,362.90"/>
</g>
<text x="280.5" y="251.1" font-size="11.6" letter-spacing="0.1" font-weight="bold" fill="#727272">HeLa, gREL</text>
<line x1="357.5" y1="260.6" x2="357.5" y2="367.3" stroke="#9a9a9a" stroke-width="1" stroke-dasharray="1,1.85"/>
<line x1="397.7" y1="260.6" x2="397.7" y2="367.3" stroke="#9a9a9a" stroke-width="1" stroke-dasharray="1,1.85"/>
<line x1="437.8" y1="260.6" x2="437.8" y2="367.3" stroke="#9a9a9a" stroke-width="1" stroke-dasharray="1,1.85"/>
<line x1="478.0" y1="260.6" x2="478.0" y2="367.3" stroke="#9a9a9a" stroke-width="1" stroke-dasharray="1,1.85"/>
<line x1="319.4" y1="359.8" x2="507.3" y2="359.8" stroke="#9a9a9a" stroke-width="1" stroke-dasharray="1,1.85"/>
<line x1="315.2" y1="359.8" x2="319.59999999999997" y2="359.8" stroke="#333" stroke-width="1.1"/>
<text x="314.79999999999995" y="361.9" font-size="9.3" font-weight="bold" text-anchor="end" fill="#111">0</text>
<line x1="319.4" y1="340.6" x2="507.3" y2="340.6" stroke="#9a9a9a" stroke-width="1" stroke-dasharray="1,1.85"/>
<line x1="315.2" y1="340.6" x2="319.59999999999997" y2="340.6" stroke="#333" stroke-width="1.1"/>
<text x="314.79999999999995" y="342.7" font-size="9.3" font-weight="bold" text-anchor="end" fill="#111">500</text>
<line x1="319.4" y1="321.4" x2="507.3" y2="321.4" stroke="#9a9a9a" stroke-width="1" stroke-dasharray="1,1.85"/>
<line x1="315.2" y1="321.4" x2="319.59999999999997" y2="321.4" stroke="#333" stroke-width="1.1"/>
<text x="314.79999999999995" y="323.5" font-size="9.3" font-weight="bold" text-anchor="end" fill="#111">1000</text>
<line x1="319.4" y1="302.2" x2="507.3" y2="302.2" stroke="#9a9a9a" stroke-width="1" stroke-dasharray="1,1.85"/>
<line x1="315.2" y1="302.2" x2="319.59999999999997" y2="302.2" stroke="#333" stroke-width="1.1"/>
<text x="314.79999999999995" y="304.3" font-size="9.3" font-weight="bold" text-anchor="end" fill="#111">1500</text>
<line x1="319.4" y1="283.0" x2="507.3" y2="283.0" stroke="#9a9a9a" stroke-width="1" stroke-dasharray="1,1.85"/>
<line x1="315.2" y1="283.0" x2="319.59999999999997" y2="283.0" stroke="#333" stroke-width="1.1"/>
<text x="314.79999999999995" y="285.1" font-size="9.3" font-weight="bold" text-anchor="end" fill="#111">2000</text>
<line x1="319.4" y1="263.8" x2="507.3" y2="263.8" stroke="#9a9a9a" stroke-width="1" stroke-dasharray="1,1.85"/>
<line x1="315.2" y1="263.8" x2="319.59999999999997" y2="263.8" stroke="#333" stroke-width="1.1"/>
<text x="314.79999999999995" y="265.9" font-size="9.3" font-weight="bold" text-anchor="end" fill="#111">2500</text>
<rect x="317.4" y="260.6" width="189.90000000000003" height="106.69999999999999" fill="none" stroke="#8e8e8e" stroke-width="1.2"/>
<line x1="316.9" y1="363.6" x2="319.2" y2="363.6" stroke="#333" stroke-width="0.9"/>
<line x1="507.8" y1="363.6" x2="505.5" y2="363.6" stroke="#333" stroke-width="0.9"/>
<line x1="316.9" y1="359.8" x2="319.2" y2="359.8" stroke="#333" stroke-width="0.9"/>
<line x1="507.8" y1="359.8" x2="505.5" y2="359.8" stroke="#333" stroke-width="0.9"/>
<line x1="316.9" y1="356.0" x2="319.2" y2="356.0" stroke="#333" stroke-width="0.9"/>
<line x1="507.8" y1="356.0" x2="505.5" y2="356.0" stroke="#333" stroke-width="0.9"/>
<line x1="316.9" y1="352.1" x2="319.2" y2="352.1" stroke="#333" stroke-width="0.9"/>
<line x1="507.8" y1="352.1" x2="505.5" y2="352.1" stroke="#333" stroke-width="0.9"/>
<line x1="316.9" y1="348.3" x2="319.2" y2="348.3" stroke="#333" stroke-width="0.9"/>
<line x1="507.8" y1="348.3" x2="505.5" y2="348.3" stroke="#333" stroke-width="0.9"/>
<line x1="316.9" y1="344.4" x2="319.2" y2="344.4" stroke="#333" stroke-width="0.9"/>
<line x1="507.8" y1="344.4" x2="505.5" y2="344.4" stroke="#333" stroke-width="0.9"/>
<line x1="316.9" y1="340.6" x2="319.2" y2="340.6" stroke="#333" stroke-width="0.9"/>
<line x1="507.8" y1="340.6" x2="505.5" y2="340.6" stroke="#333" stroke-width="0.9"/>
<line x1="316.9" y1="336.8" x2="319.2" y2="336.8" stroke="#333" stroke-width="0.9"/>
<line x1="507.8" y1="336.8" x2="505.5" y2="336.8" stroke="#333" stroke-width="0.9"/>
<line x1="316.9" y1="332.9" x2="319.2" y2="332.9" stroke="#333" stroke-width="0.9"/>
<line x1="507.8" y1="332.9" x2="505.5" y2="332.9" stroke="#333" stroke-width="0.9"/>
<line x1="316.9" y1="329.1" x2="319.2" y2="329.1" stroke="#333" stroke-width="0.9"/>
<line x1="507.8" y1="329.1" x2="505.5" y2="329.1" stroke="#333" stroke-width="0.9"/>
<line x1="316.9" y1="325.2" x2="319.2" y2="325.2" stroke="#333" stroke-width="0.9"/>
<line x1="507.8" y1="325.2" x2="505.5" y2="325.2" stroke="#333" stroke-width="0.9"/>
<line x1="316.9" y1="321.4" x2="319.2" y2="321.4" stroke="#333" stroke-width="0.9"/>
<line x1="507.8" y1="321.4" x2="505.5" y2="321.4" stroke="#333" stroke-width="0.9"/>
<line x1="316.9" y1="317.6" x2="319.2" y2="317.6" stroke="#333" stroke-width="0.9"/>
<line x1="507.8" y1="317.6" x2="505.5" y2="317.6" stroke="#333" stroke-width="0.9"/>
<line x1="316.9" y1="313.7" x2="319.2" y2="313.7" stroke="#333" stroke-width="0.9"/>
<line x1="507.8" y1="313.7" x2="505.5" y2="313.7" stroke="#333" stroke-width="0.9"/>
<line x1="316.9" y1="309.9" x2="319.2" y2="309.9" stroke="#333" stroke-width="0.9"/>
<line x1="507.8" y1="309.9" x2="505.5" y2="309.9" stroke="#333" stroke-width="0.9"/>
<line x1="316.9" y1="306.0" x2="319.2" y2="306.0" stroke="#333" stroke-width="0.9"/>
<line x1="507.8" y1="306.0" x2="505.5" y2="306.0" stroke="#333" stroke-width="0.9"/>
<line x1="316.9" y1="302.2" x2="319.2" y2="302.2" stroke="#333" stroke-width="0.9"/>
<line x1="507.8" y1="302.2" x2="505.5" y2="302.2" stroke="#333" stroke-width="0.9"/>
<line x1="316.9" y1="298.4" x2="319.2" y2="298.4" stroke="#333" stroke-width="0.9"/>
<line x1="507.8" y1="298.4" x2="505.5" y2="298.4" stroke="#333" stroke-width="0.9"/>
<line x1="316.9" y1="294.5" x2="319.2" y2="294.5" stroke="#333" stroke-width="0.9"/>
<line x1="507.8" y1="294.5" x2="505.5" y2="294.5" stroke="#333" stroke-width="0.9"/>
<line x1="316.9" y1="290.7" x2="319.2" y2="290.7" stroke="#333" stroke-width="0.9"/>
<line x1="507.8" y1="290.7" x2="505.5" y2="290.7" stroke="#333" stroke-width="0.9"/>
<line x1="316.9" y1="286.8" x2="319.2" y2="286.8" stroke="#333" stroke-width="0.9"/>
<line x1="507.8" y1="286.8" x2="505.5" y2="286.8" stroke="#333" stroke-width="0.9"/>
<line x1="316.9" y1="283.0" x2="319.2" y2="283.0" stroke="#333" stroke-width="0.9"/>
<line x1="507.8" y1="283.0" x2="505.5" y2="283.0" stroke="#333" stroke-width="0.9"/>
<line x1="316.9" y1="279.2" x2="319.2" y2="279.2" stroke="#333" stroke-width="0.9"/>
<line x1="507.8" y1="279.2" x2="505.5" y2="279.2" stroke="#333" stroke-width="0.9"/>
<line x1="316.9" y1="275.3" x2="319.2" y2="275.3" stroke="#333" stroke-width="0.9"/>
<line x1="507.8" y1="275.3" x2="505.5" y2="275.3" stroke="#333" stroke-width="0.9"/>
<line x1="316.9" y1="271.5" x2="319.2" y2="271.5" stroke="#333" stroke-width="0.9"/>
<line x1="507.8" y1="271.5" x2="505.5" y2="271.5" stroke="#333" stroke-width="0.9"/>
<line x1="316.9" y1="267.6" x2="319.2" y2="267.6" stroke="#333" stroke-width="0.9"/>
<line x1="507.8" y1="267.6" x2="505.5" y2="267.6" stroke="#333" stroke-width="0.9"/>
<line x1="316.9" y1="263.8" x2="319.2" y2="263.8" stroke="#333" stroke-width="0.9"/>
<line x1="507.8" y1="263.8" x2="505.5" y2="263.8" stroke="#333" stroke-width="0.9"/>
<line x1="325.4" y1="260.1" x2="325.4" y2="262.6" stroke="#333" stroke-width="0.9"/>
<line x1="325.4" y1="367.8" x2="325.4" y2="365.3" stroke="#333" stroke-width="0.9"/>
<line x1="333.5" y1="260.1" x2="333.5" y2="262.6" stroke="#333" stroke-width="0.9"/>
<line x1="333.5" y1="367.8" x2="333.5" y2="365.3" stroke="#333" stroke-width="0.9"/>
<line x1="341.5" y1="260.1" x2="341.5" y2="262.6" stroke="#333" stroke-width="0.9"/>
<line x1="341.5" y1="367.8" x2="341.5" y2="365.3" stroke="#333" stroke-width="0.9"/>
<line x1="349.5" y1="260.1" x2="349.5" y2="262.6" stroke="#333" stroke-width="0.9"/>
<line x1="349.5" y1="367.8" x2="349.5" y2="365.3" stroke="#333" stroke-width="0.9"/>
<line x1="357.5" y1="260.1" x2="357.5" y2="262.6" stroke="#333" stroke-width="0.9"/>
<line x1="357.5" y1="367.8" x2="357.5" y2="365.3" stroke="#333" stroke-width="0.9"/>
<line x1="365.6" y1="260.1" x2="365.6" y2="262.6" stroke="#333" stroke-width="0.9"/>
<line x1="365.6" y1="367.8" x2="365.6" y2="365.3" stroke="#333" stroke-width="0.9"/>
<line x1="373.6" y1="260.1" x2="373.6" y2="262.6" stroke="#333" stroke-width="0.9"/>
<line x1="373.6" y1="367.8" x2="373.6" y2="365.3" stroke="#333" stroke-width="0.9"/>
<line x1="381.6" y1="260.1" x2="381.6" y2="262.6" stroke="#333" stroke-width="0.9"/>
<line x1="381.6" y1="367.8" x2="381.6" y2="365.3" stroke="#333" stroke-width="0.9"/>
<line x1="389.7" y1="260.1" x2="389.7" y2="262.6" stroke="#333" stroke-width="0.9"/>
<line x1="389.7" y1="367.8" x2="389.7" y2="365.3" stroke="#333" stroke-width="0.9"/>
<line x1="397.7" y1="260.1" x2="397.7" y2="262.6" stroke="#333" stroke-width="0.9"/>
<line x1="397.7" y1="367.8" x2="397.7" y2="365.3" stroke="#333" stroke-width="0.9"/>
<line x1="405.7" y1="260.1" x2="405.7" y2="262.6" stroke="#333" stroke-width="0.9"/>
<line x1="405.7" y1="367.8" x2="405.7" y2="365.3" stroke="#333" stroke-width="0.9"/>
<line x1="413.8" y1="260.1" x2="413.8" y2="262.6" stroke="#333" stroke-width="0.9"/>
<line x1="413.8" y1="367.8" x2="413.8" y2="365.3" stroke="#333" stroke-width="0.9"/>
<line x1="421.8" y1="260.1" x2="421.8" y2="262.6" stroke="#333" stroke-width="0.9"/>
<line x1="421.8" y1="367.8" x2="421.8" y2="365.3" stroke="#333" stroke-width="0.9"/>
<line x1="429.8" y1="260.1" x2="429.8" y2="262.6" stroke="#333" stroke-width="0.9"/>
<line x1="429.8" y1="367.8" x2="429.8" y2="365.3" stroke="#333" stroke-width="0.9"/>
<line x1="437.8" y1="260.1" x2="437.8" y2="262.6" stroke="#333" stroke-width="0.9"/>
<line x1="437.8" y1="367.8" x2="437.8" y2="365.3" stroke="#333" stroke-width="0.9"/>
<line x1="445.9" y1="260.1" x2="445.9" y2="262.6" stroke="#333" stroke-width="0.9"/>
<line x1="445.9" y1="367.8" x2="445.9" y2="365.3" stroke="#333" stroke-width="0.9"/>
<line x1="453.9" y1="260.1" x2="453.9" y2="262.6" stroke="#333" stroke-width="0.9"/>
<line x1="453.9" y1="367.8" x2="453.9" y2="365.3" stroke="#333" stroke-width="0.9"/>
<line x1="461.9" y1="260.1" x2="461.9" y2="262.6" stroke="#333" stroke-width="0.9"/>
<line x1="461.9" y1="367.8" x2="461.9" y2="365.3" stroke="#333" stroke-width="0.9"/>
<line x1="470.0" y1="260.1" x2="470.0" y2="262.6" stroke="#333" stroke-width="0.9"/>
<line x1="470.0" y1="367.8" x2="470.0" y2="365.3" stroke="#333" stroke-width="0.9"/>
<line x1="478.0" y1="260.1" x2="478.0" y2="262.6" stroke="#333" stroke-width="0.9"/>
<line x1="478.0" y1="367.8" x2="478.0" y2="365.3" stroke="#333" stroke-width="0.9"/>
<line x1="486.0" y1="260.1" x2="486.0" y2="262.6" stroke="#333" stroke-width="0.9"/>
<line x1="486.0" y1="367.8" x2="486.0" y2="365.3" stroke="#333" stroke-width="0.9"/>
<line x1="494.1" y1="260.1" x2="494.1" y2="262.6" stroke="#333" stroke-width="0.9"/>
<line x1="494.1" y1="367.8" x2="494.1" y2="365.3" stroke="#333" stroke-width="0.9"/>
<line x1="502.1" y1="260.1" x2="502.1" y2="262.6" stroke="#333" stroke-width="0.9"/>
<line x1="502.1" y1="367.8" x2="502.1" y2="365.3" stroke="#333" stroke-width="0.9"/>
<text x="318.6" y="376.2" font-size="9.3" font-weight="bold" text-anchor="middle" fill="#111">0</text>
<text x="358.7" y="376.2" font-size="9.3" font-weight="bold" text-anchor="middle" fill="#111">10</text>
<text x="398.9" y="376.2" font-size="9.3" font-weight="bold" text-anchor="middle" fill="#111">20</text>
<text x="439.0" y="376.2" font-size="9.3" font-weight="bold" text-anchor="middle" fill="#111">30</text>
<text x="479.2" y="376.2" font-size="9.3" font-weight="bold" text-anchor="middle" fill="#111">40</text>
<text x="419.2" y="387.8" font-size="10" font-weight="bold" text-anchor="middle" fill="#111">Cycles</text>
<text transform="translate(285.3,308.9) rotate(-90)" x="0" y="3.9" font-size="10.6" textLength="19.8" lengthAdjust="spacingAndGlyphs" text-anchor="middle" fill="#111">RFU</text>
<line x1="321.1" y1="358.1" x2="498.1" y2="358.1" stroke="#a9d9e6" stroke-width="2.2"/>
<g fill="none" stroke="#2e9440" stroke-width="1.0" stroke-opacity="0.72" stroke-linejoin="round">
<polyline points="321.41,364.41 322.42,363.81 323.42,363.29 324.43,362.84 325.43,362.44 326.43,362.10 327.44,361.80 328.44,361.54 329.44,361.32 330.45,361.12 331.45,360.95 332.46,360.80 333.46,360.67 334.46,360.56 335.47,360.46 336.47,360.37 337.47,360.30 338.48,360.23 339.48,360.18 340.49,360.13 341.49,360.09 342.49,360.05 343.50,360.02 344.50,359.99 345.50,359.96 346.51,359.94 347.51,359.92 348.51,359.91 349.52,359.89 350.52,359.88 351.53,359.87 352.53,359.86 353.53,359.85 354.54,359.85 355.54,359.84 356.54,359.83 357.55,359.83 358.55,359.82 359.56,359.82 360.56,359.82 361.56,359.81 362.57,359.81 363.57,359.81 364.57,359.80 365.58,359.80 366.58,359.80 367.58,359.80 368.59,359.79 369.59,359.79 370.60,359.79 371.60,359.79 372.60,359.78 373.61,359.78 374.61,359.77 375.61,359.77 376.62,359.76 377.62,359.76 378.63,359.75 379.63,359.74 380.63,359.73 381.64,359.72 382.64,359.71 383.64,359.70 384.65,359.68 385.65,359.66 386.66,359.64 387.66,359.62 388.66,359.59 389.67,359.56 390.67,359.52 391.67,359.48 392.68,359.43 393.68,359.38 394.68,359.31 395.69,359.24 396.69,359.15 397.70,359.06 398.70,358.95 399.70,358.82 400.71,358.67 401.71,358.50 402.71,358.31 403.72,358.09 404.72,357.84 405.73,357.55 406.73,357.22 407.73,356.85 408.74,356.42 409.74,355.93 410.74,355.38 411.75,354.75 412.75,354.04 413.76,353.24 414.76,352.34 415.76,351.33 416.77,350.20 417.77,348.94 418.77,347.55 419.78,346.01 420.78,344.32 421.78,342.47 422.79,340.46 423.79,338.30 424.80,335.99 425.80,333.53 426.80,330.94 427.81,328.24 428.81,325.44 429.81,322.56 430.82,319.64 431.82,316.70 432.83,313.76 433.83,310.86 434.83,308.01 435.84,305.25 436.84,302.59 437.84,300.05 438.85,297.64 439.85,295.38 440.86,293.26 441.86,291.29 442.86,289.46 443.87,287.78 444.87,286.24 445.87,284.84 446.88,283.55 447.88,282.39 448.88,281.33 449.89,280.36 450.89,279.49 451.90,278.70 452.90,277.98 453.90,277.33 454.91,276.74 455.91,276.20 456.91,275.70 457.92,275.25 458.92,274.83 459.93,274.45 460.93,274.09 461.93,273.76 462.94,273.45 463.94,273.16 464.94,272.89 465.95,272.63 466.95,272.39 467.95,272.16 468.96,271.93 469.96,271.72 470.97,271.51 471.97,271.31 472.97,271.12 473.98,270.93 474.98,270.75 475.98,270.57 476.99,270.39 477.99,270.22 479.00,270.05 480.00,269.88 481.00,269.71 482.01,269.54 483.01,269.38 484.01,269.22 485.02,269.06 486.02,268.90 487.03,268.74 488.03,268.58 489.03,268.42 490.04,268.26 491.04,268.11 492.04,267.95 493.05,267.79 494.05,267.64 495.05,267.48 496.06,267.33 497.06,267.17 498.07,267.02"/>
<polyline points="321.41,364.41 322.42,363.81 323.42,363.29 324.43,362.84 325.43,362.44 326.43,362.10 327.44,361.80 328.44,361.54 329.44,361.32 330.45,361.12 331.45,360.95 332.46,360.80 333.46,360.67 334.46,360.56 335.47,360.46 336.47,360.37 337.47,360.30 338.48,360.23 339.48,360.18 340.49,360.13 341.49,360.09 342.49,360.05 343.50,360.02 344.50,359.99 345.50,359.96 346.51,359.94 347.51,359.92 348.51,359.91 349.52,359.89 350.52,359.88 351.53,359.87 352.53,359.86 353.53,359.85 354.54,359.85 355.54,359.84 356.54,359.83 357.55,359.83 358.55,359.82 359.56,359.82 360.56,359.82 361.56,359.81 362.57,359.81 363.57,359.81 364.57,359.80 365.58,359.80 366.58,359.80 367.58,359.80 368.59,359.79 369.59,359.79 370.60,359.79 371.60,359.78 372.60,359.78 373.61,359.78 374.61,359.77 375.61,359.77 376.62,359.76 377.62,359.76 378.63,359.75 379.63,359.74 380.63,359.73 381.64,359.72 382.64,359.71 383.64,359.69 384.65,359.68 385.65,359.66 386.66,359.64 387.66,359.61 388.66,359.58 389.67,359.55 390.67,359.51 391.67,359.47 392.68,359.42 393.68,359.36 394.68,359.29 395.69,359.22 396.69,359.13 397.70,359.03 398.70,358.92 399.70,358.78 400.71,358.63 401.71,358.46 402.71,358.26 403.72,358.03 404.72,357.77 405.73,357.48 406.73,357.14 407.73,356.75 408.74,356.31 409.74,355.81 410.74,355.25 411.75,354.60 412.75,353.88 413.76,353.06 414.76,352.14 415.76,351.12 416.77,349.97 417.77,348.69 418.77,347.28 419.78,345.73 420.78,344.02 421.78,342.17 422.79,340.16 423.79,338.01 424.80,335.71 425.80,333.28 426.80,330.72 427.81,328.07 428.81,325.33 429.81,322.53 430.82,319.70 431.82,316.86 432.83,314.04 433.83,311.26 434.83,308.55 435.84,305.93 436.84,303.42 437.84,301.03 438.85,298.77 439.85,296.66 440.86,294.68 441.86,292.85 442.86,291.17 443.87,289.62 444.87,288.20 445.87,286.91 446.88,285.73 447.88,284.66 448.88,283.70 449.89,282.82 450.89,282.03 451.90,281.31 452.90,280.66 453.90,280.07 454.91,279.53 455.91,279.05 456.91,278.60 457.92,278.19 458.92,277.82 459.93,277.48 460.93,277.16 461.93,276.86 462.94,276.59 463.94,276.33 464.94,276.09 465.95,275.86 466.95,275.64 467.95,275.44 468.96,275.24 469.96,275.05 470.97,274.87 471.97,274.69 472.97,274.52 473.98,274.36 474.98,274.19 475.98,274.04 476.99,273.88 477.99,273.73 479.00,273.58 480.00,273.43 481.00,273.28 482.01,273.14 483.01,272.99 484.01,272.85 485.02,272.71 486.02,272.57 487.03,272.43 488.03,272.29 489.03,272.15 490.04,272.01 491.04,271.88 492.04,271.74 493.05,271.60 494.05,271.47 495.05,271.33 496.06,271.19 497.06,271.06 498.07,270.92"/>
<polyline points="321.41,364.41 322.42,363.81 323.42,363.29 324.43,362.84 325.43,362.44 326.43,362.10 327.44,361.80 328.44,361.54 329.44,361.32 330.45,361.12 331.45,360.95 332.46,360.80 333.46,360.67 334.46,360.56 335.47,360.46 336.47,360.37 337.47,360.30 338.48,360.23 339.48,360.18 340.49,360.13 341.49,360.09 342.49,360.05 343.50,360.02 344.50,359.99 345.50,359.96 346.51,359.94 347.51,359.92 348.51,359.91 349.52,359.89 350.52,359.88 351.53,359.87 352.53,359.86 353.53,359.85 354.54,359.85 355.54,359.84 356.54,359.83 357.55,359.83 358.55,359.82 359.56,359.82 360.56,359.82 361.56,359.81 362.57,359.81 363.57,359.81 364.57,359.80 365.58,359.80 366.58,359.80 367.58,359.80 368.59,359.79 369.59,359.79 370.60,359.79 371.60,359.78 372.60,359.78 373.61,359.78 374.61,359.77 375.61,359.77 376.62,359.76 377.62,359.75 378.63,359.75 379.63,359.74 380.63,359.73 381.64,359.72 382.64,359.71 383.64,359.69 384.65,359.67 385.65,359.66 386.66,359.63 387.66,359.61 388.66,359.58 389.67,359.55 390.67,359.51 391.67,359.46 392.68,359.41 393.68,359.36 394.68,359.29 395.69,359.21 396.69,359.13 397.70,359.03 398.70,358.91 399.70,358.78 400.71,358.63 401.71,358.46 402.71,358.26 403.72,358.04 404.72,357.78 405.73,357.48 406.73,357.15 407.73,356.77 408.74,356.33 409.74,355.84 410.74,355.28 411.75,354.64 412.75,353.93 413.76,353.12 414.76,352.22 415.76,351.21 416.77,350.09 417.77,348.84 418.77,347.46 419.78,345.94 420.78,344.28 421.78,342.48 422.79,340.53 423.79,338.44 424.80,336.22 425.80,333.87 426.80,331.41 427.81,328.86 428.81,326.24 429.81,323.56 430.82,320.86 431.82,318.16 432.83,315.48 433.83,312.85 434.83,310.30 435.84,307.84 436.84,305.48 437.84,303.25 438.85,301.15 439.85,299.18 440.86,297.36 441.86,295.67 442.86,294.13 443.87,292.71 444.87,291.42 445.87,290.25 446.88,289.20 447.88,288.24 448.88,287.38 449.89,286.61 450.89,285.92 451.90,285.29 452.90,284.73 453.90,284.23 454.91,283.78 455.91,283.37 456.91,283.01 457.92,282.68 458.92,282.38 459.93,282.10 460.93,281.86 461.93,281.63 462.94,281.42 463.94,281.23 464.94,281.05 465.95,280.89 466.95,280.74 467.95,280.59 468.96,280.46 469.96,280.33 470.97,280.21 471.97,280.10 472.97,279.99 473.98,279.88 474.98,279.78 475.98,279.68 476.99,279.58 477.99,279.49 479.00,279.40 480.00,279.31 481.00,279.22 482.01,279.13 483.01,279.05 484.01,278.96 485.02,278.88 486.02,278.80 487.03,278.72 488.03,278.64 489.03,278.56 490.04,278.48 491.04,278.40 492.04,278.32 493.05,278.24 494.05,278.16 495.05,278.08 496.06,278.00 497.06,277.92 498.07,277.85"/>
<polyline points="321.41,364.41 322.42,363.81 323.42,363.29 324.43,362.84 325.43,362.44 326.43,362.10 327.44,361.80 328.44,361.54 329.44,361.32 330.45,361.12 331.45,360.95 332.46,360.80 333.46,360.67 334.46,360.56 335.47,360.46 336.47,360.37 337.47,360.30 338.48,360.23 339.48,360.18 340.49,360.13 341.49,360.09 342.49,360.05 343.50,360.02 344.50,359.99 345.50,359.96 346.51,359.94 347.51,359.92 348.51,359.91 349.52,359.89 350.52,359.88 351.53,359.87 352.53,359.86 353.53,359.85 354.54,359.85 355.54,359.84 356.54,359.83 357.55,359.83 358.55,359.82 359.56,359.82 360.56,359.82 361.56,359.81 362.57,359.81 363.57,359.81 364.57,359.80 365.58,359.80 366.58,359.80 367.58,359.80 368.59,359.79 369.59,359.79 370.60,359.79 371.60,359.78 372.60,359.78 373.61,359.78 374.61,359.77 375.61,359.77 376.62,359.76 377.62,359.75 378.63,359.75 379.63,359.74 380.63,359.73 381.64,359.72 382.64,359.71 383.64,359.69 384.65,359.68 385.65,359.66 386.66,359.63 387.66,359.61 388.66,359.58 389.67,359.55 390.67,359.51 391.67,359.47 392.68,359.42 393.68,359.36 394.68,359.30 395.69,359.22 396.69,359.14 397.70,359.04 398.70,358.93 399.70,358.80 400.71,358.65 401.71,358.48 402.71,358.29 403.72,358.06 404.72,357.81 405.73,357.52 406.73,357.19 407.73,356.82 408.74,356.40 409.74,355.91 410.74,355.37 411.75,354.75 412.75,354.05 413.76,353.27 414.76,352.39 415.76,351.40 416.77,350.30 417.77,349.09 418.77,347.74 419.78,346.27 420.78,344.65 421.78,342.90 422.79,341.01 423.79,338.98 424.80,336.82 425.80,334.54 426.80,332.15 427.81,329.68 428.81,327.13 429.81,324.54 430.82,321.92 431.82,319.31 432.83,316.72 433.83,314.18 434.83,311.72 435.84,309.34 436.84,307.07 437.84,304.93 438.85,302.91 439.85,301.02 440.86,299.28 441.86,297.67 442.86,296.19 443.87,294.85 444.87,293.63 445.87,292.52 446.88,291.53 447.88,290.63 448.88,289.83 449.89,289.12 450.89,288.48 451.90,287.91 452.90,287.40 453.90,286.95 454.91,286.55 455.91,286.19 456.91,285.87 457.92,285.58 458.92,285.33 459.93,285.10 460.93,284.90 461.93,284.71 462.94,284.55 463.94,284.40 464.94,284.26 465.95,284.14 466.95,284.03 467.95,283.93 468.96,283.83 469.96,283.75 470.97,283.67 471.97,283.59 472.97,283.52 473.98,283.45 474.98,283.39 475.98,283.33 476.99,283.27 477.99,283.22 479.00,283.17 480.00,283.11 481.00,283.07 482.01,283.02 483.01,282.97 484.01,282.93 485.02,282.88 486.02,282.84 487.03,282.79 488.03,282.75 489.03,282.71 490.04,282.67 491.04,282.63 492.04,282.59 493.05,282.55 494.05,282.51 495.05,282.47 496.06,282.43 497.06,282.39 498.07,282.35"/>
<polyline points="321.41,363.64 322.42,363.14 323.42,362.71 324.43,362.33 325.43,362.00 326.43,361.72 327.44,361.47 328.44,361.25 329.44,361.06 330.45,360.90 331.45,360.76 332.46,360.63 333.46,360.53 334.46,360.43 335.47,360.35 336.47,360.28 337.47,360.22 338.48,360.16 339.48,360.12 340.49,360.07 341.49,360.04 342.49,360.01 343.50,359.98 344.50,359.96 345.50,359.94 346.51,359.92 347.51,359.90 348.51,359.89 349.52,359.88 350.52,359.87 351.53,359.86 352.53,359.85 353.53,359.84 354.54,359.84 355.54,359.83 356.54,359.83 357.55,359.83 358.55,359.82 359.56,359.82 360.56,359.82 361.56,359.81 362.57,359.81 363.57,359.81 364.57,359.81 365.58,359.81 366.58,359.81 367.58,359.81 368.59,359.80 369.59,359.80 370.60,359.80 371.60,359.80 372.60,359.80 373.61,359.80 374.61,359.80 375.61,359.80 376.62,359.80 377.62,359.80 378.63,359.79 379.63,359.79 380.63,359.79 381.64,359.79 382.64,359.79 383.64,359.79 384.65,359.79 385.65,359.78 386.66,359.78 387.66,359.78 388.66,359.77 389.67,359.77 390.67,359.77 391.67,359.76 392.68,359.75 393.68,359.75 394.68,359.74 395.69,359.73 396.69,359.72 397.70,359.71 398.70,359.69 399.70,359.68 400.71,359.66 401.71,359.64 402.71,359.61 403.72,359.58 404.72,359.55 405.73,359.52 406.73,359.47 407.73,359.42 408.74,359.37 409.74,359.30 410.74,359.23 411.75,359.14 412.75,359.04 413.76,358.93 414.76,358.80 415.76,358.66 416.77,358.49 417.77,358.29 418.77,358.07 419.78,357.82 420.78,357.53 421.78,357.20 422.79,356.82 423.79,356.39 424.80,355.90 425.80,355.34 426.80,354.71 427.81,354.00 428.81,353.19 429.81,352.29 430.82,351.27 431.82,350.14 432.83,348.87 433.83,347.46 434.83,345.91 435.84,344.20 436.84,342.33 437.84,340.30 438.85,338.10 439.85,335.75 440.86,333.25 441.86,330.60 442.86,327.83 443.87,324.96 444.87,322.00 445.87,318.98 446.88,315.94 447.88,312.90 448.88,309.88 449.89,306.92 450.89,304.04 451.90,301.26 452.90,298.61 453.90,296.09 454.91,293.72 455.91,291.50 456.91,289.44 457.92,287.54 458.92,285.79 459.93,284.19 460.93,282.73 461.93,281.41 462.94,280.21 463.94,279.13 464.94,278.15 465.95,277.28 466.95,276.49 467.95,275.78 468.96,275.14 469.96,274.56 470.97,274.04 471.97,273.58 472.97,273.16 473.98,272.77 474.98,272.43 475.98,272.11 476.99,271.82 477.99,271.56 479.00,271.32 480.00,271.09 481.00,270.88 482.01,270.69 483.01,270.51 484.01,270.34 485.02,270.18 486.02,270.02 487.03,269.88 488.03,269.74 489.03,269.60 490.04,269.47 491.04,269.35 492.04,269.23 493.05,269.11 494.05,269.00 495.05,268.88 496.06,268.77 497.06,268.66 498.07,268.56"/>
<polyline points="321.41,363.64 322.42,363.14 323.42,362.71 324.43,362.33 325.43,362.00 326.43,361.72 327.44,361.47 328.44,361.25 329.44,361.06 330.45,360.90 331.45,360.76 332.46,360.63 333.46,360.53 334.46,360.43 335.47,360.35 336.47,360.28 337.47,360.22 338.48,360.16 339.48,360.12 340.49,360.07 341.49,360.04 342.49,360.01 343.50,359.98 344.50,359.96 345.50,359.94 346.51,359.92 347.51,359.90 348.51,359.89 349.52,359.88 350.52,359.87 351.53,359.86 352.53,359.85 353.53,359.84 354.54,359.84 355.54,359.83 356.54,359.83 357.55,359.83 358.55,359.82 359.56,359.82 360.56,359.82 361.56,359.81 362.57,359.81 363.57,359.81 364.57,359.81 365.58,359.81 366.58,359.81 367.58,359.81 368.59,359.80 369.59,359.80 370.60,359.80 371.60,359.80 372.60,359.80 373.61,359.80 374.61,359.80 375.61,359.80 376.62,359.80 377.62,359.80 378.63,359.80 379.63,359.79 380.63,359.79 381.64,359.79 382.64,359.79 383.64,359.79 384.65,359.79 385.65,359.78 386.66,359.78 387.66,359.78 388.66,359.77 389.67,359.77 390.67,359.77 391.67,359.76 392.68,359.76 393.68,359.75 394.68,359.74 395.69,359.73 396.69,359.72 397.70,359.71 398.70,359.70 399.70,359.68 400.71,359.66 401.71,359.64 402.71,359.62 403.72,359.59 404.72,359.56 405.73,359.52 406.73,359.48 407.73,359.43 408.74,359.38 409.74,359.32 410.74,359.25 411.75,359.16 412.75,359.07 413.76,358.96 414.76,358.83 415.76,358.69 416.77,358.53 417.77,358.34 418.77,358.13 419.78,357.88 420.78,357.60 421.78,357.28 422.79,356.91 423.79,356.50 424.80,356.02 425.80,355.49 426.80,354.88 427.81,354.19 428.81,353.41 429.81,352.54 430.82,351.55 431.82,350.45 432.83,349.23 433.83,347.87 434.83,346.36 435.84,344.71 436.84,342.90 437.84,340.93 438.85,338.80 439.85,336.52 440.86,334.09 441.86,331.52 442.86,328.83 443.87,326.03 444.87,323.16 445.87,320.22 446.88,317.25 447.88,314.29 448.88,311.34 449.89,308.45 450.89,305.64 451.90,302.93 452.90,300.33 453.90,297.87 454.91,295.55 455.91,293.38 456.91,291.37 457.92,289.51 458.92,287.80 459.93,286.23 460.93,284.81 461.93,283.52 462.94,282.36 463.94,281.30 464.94,280.36 465.95,279.51 466.95,278.74 467.95,278.06 468.96,277.45 469.96,276.90 470.97,276.40 471.97,275.96 472.97,275.56 473.98,275.20 474.98,274.88 475.98,274.58 476.99,274.31 477.99,274.07 479.00,273.85 480.00,273.65 481.00,273.46 482.01,273.28 483.01,273.12 484.01,272.97 485.02,272.83 486.02,272.70 487.03,272.57 488.03,272.45 489.03,272.34 490.04,272.23 491.04,272.12 492.04,272.02 493.05,271.92 494.05,271.83 495.05,271.74 496.06,271.65 497.06,271.56 498.07,271.47"/>
<polyline points="321.41,363.64 322.42,363.14 323.42,362.71 324.43,362.33 325.43,362.00 326.43,361.72 327.44,361.47 328.44,361.25 329.44,361.06 330.45,360.90 331.45,360.76 332.46,360.63 333.46,360.53 334.46,360.43 335.47,360.35 336.47,360.28 337.47,360.22 338.48,360.16 339.48,360.12 340.49,360.07 341.49,360.04 342.49,360.01 343.50,359.98 344.50,359.96 345.50,359.94 346.51,359.92 347.51,359.90 348.51,359.89 349.52,359.88 350.52,359.87 351.53,359.86 352.53,359.85 353.53,359.85 354.54,359.84 355.54,359.83 356.54,359.83 357.55,359.83 358.55,359.82 359.56,359.82 360.56,359.82 361.56,359.81 362.57,359.81 363.57,359.81 364.57,359.81 365.58,359.81 366.58,359.81 367.58,359.81 368.59,359.81 369.59,359.80 370.60,359.80 371.60,359.80 372.60,359.80 373.61,359.80 374.61,359.80 375.61,359.80 376.62,359.80 377.62,359.80 378.63,359.80 379.63,359.80 380.63,359.80 381.64,359.80 382.64,359.80 383.64,359.80 384.65,359.80 385.65,359.80 386.66,359.80 387.66,359.80 388.66,359.79 389.67,359.79 390.67,359.79 391.67,359.79 392.68,359.79 393.68,359.79 394.68,359.79 395.69,359.78 396.69,359.78 397.70,359.78 398.70,359.78 399.70,359.77 400.71,359.77 401.71,359.76 402.71,359.76 403.72,359.75 404.72,359.75 405.73,359.74 406.73,359.73 407.73,359.72 408.74,359.70 409.74,359.69 410.74,359.67 411.75,359.66 412.75,359.63 413.76,359.61 414.76,359.58 415.76,359.55 416.77,359.51 417.77,359.47 418.77,359.42 419.78,359.36 420.78,359.29 421.78,359.22 422.79,359.13 423.79,359.03 424.80,358.92 425.80,358.79 426.80,358.63 427.81,358.46 428.81,358.27 429.81,358.04 430.82,357.78 431.82,357.49 432.83,357.15 433.83,356.77 434.83,356.33 435.84,355.83 436.84,355.27 437.84,354.63 438.85,353.91 439.85,353.09 440.86,352.17 441.86,351.14 442.86,349.99 443.87,348.70 444.87,347.28 445.87,345.70 446.88,343.96 447.88,342.07 448.88,340.00 449.89,337.78 450.89,335.39 451.90,332.84 452.90,330.15 453.90,327.34 454.91,324.41 455.91,321.40 456.91,318.33 457.92,315.23 458.92,312.13 459.93,309.06 460.93,306.04 461.93,303.10 462.94,300.27 463.94,297.57 464.94,295.00 465.95,292.58 466.95,290.32 467.95,288.23 468.96,286.29 469.96,284.51 470.97,282.89 471.97,281.41 472.97,280.07 473.98,278.85 474.98,277.76 475.98,276.78 476.99,275.90 477.99,275.10 479.00,274.39 480.00,273.76 481.00,273.19 482.01,272.68 483.01,272.22 484.01,271.81 485.02,271.44 486.02,271.10 487.03,270.80 488.03,270.52 489.03,270.28 490.04,270.05 491.04,269.84 492.04,269.65 493.05,269.47 494.05,269.30 495.05,269.15 496.06,269.01 497.06,268.87 498.07,268.74"/>
<polyline points="321.41,363.64 322.42,363.14 323.42,362.71 324.43,362.33 325.43,362.00 326.43,361.72 327.44,361.47 328.44,361.25 329.44,361.06 330.45,360.90 331.45,360.76 332.46,360.63 333.46,360.53 334.46,360.43 335.47,360.35 336.47,360.28 337.47,360.22 338.48,360.16 339.48,360.12 340.49,360.07 341.49,360.04 342.49,360.01 343.50,359.98 344.50,359.96 345.50,359.94 346.51,359.92 347.51,359.90 348.51,359.89 349.52,359.88 350.52,359.87 351.53,359.86 352.53,359.85 353.53,359.85 354.54,359.84 355.54,359.83 356.54,359.83 357.55,359.83 358.55,359.82 359.56,359.82 360.56,359.82 361.56,359.81 362.57,359.81 363.57,359.81 364.57,359.81 365.58,359.81 366.58,359.81 367.58,359.81 368.59,359.81 369.59,359.80 370.60,359.80 371.60,359.80 372.60,359.80 373.61,359.80 374.61,359.80 375.61,359.80 376.62,359.80 377.62,359.80 378.63,359.80 379.63,359.80 380.63,359.80 381.64,359.80 382.64,359.80 383.64,359.80 384.65,359.80 385.65,359.80 386.66,359.80 387.66,359.80 388.66,359.79 389.67,359.79 390.67,359.79 391.67,359.79 392.68,359.79 393.68,359.79 394.68,359.79 395.69,359.79 396.69,359.78 397.70,359.78 398.70,359.78 399.70,359.77 400.71,359.77 401.71,359.77 402.71,359.76 403.72,359.75 404.72,359.75 405.73,359.74 406.73,359.73 407.73,359.72 408.74,359.71 409.74,359.69 410.74,359.68 411.75,359.66 412.75,359.64 413.76,359.61 414.76,359.59 415.76,359.55 416.77,359.52 417.77,359.48 418.77,359.43 419.78,359.37 420.78,359.31 421.78,359.24 422.79,359.15 423.79,359.05 424.80,358.94 425.80,358.82 426.80,358.67 427.81,358.51 428.81,358.32 429.81,358.10 430.82,357.85 431.82,357.56 432.83,357.24 433.83,356.87 434.83,356.45 435.84,355.97 436.84,355.42 437.84,354.81 438.85,354.11 439.85,353.32 440.86,352.43 441.86,351.44 442.86,350.32 443.87,349.08 444.87,347.70 445.87,346.17 446.88,344.49 447.88,342.66 448.88,340.66 449.89,338.50 450.89,336.18 451.90,333.71 452.90,331.10 453.90,328.36 454.91,325.52 455.91,322.59 456.91,319.60 457.92,316.58 458.92,313.55 459.93,310.55 460.93,307.60 461.93,304.73 462.94,301.96 463.94,299.31 464.94,296.80 465.95,294.44 466.95,292.22 467.95,290.17 468.96,288.27 469.96,286.53 470.97,284.94 471.97,283.50 472.97,282.19 473.98,281.01 474.98,279.94 475.98,278.99 476.99,278.13 477.99,277.37 479.00,276.68 480.00,276.07 481.00,275.53 482.01,275.04 483.01,274.60 484.01,274.21 485.02,273.86 486.02,273.55 487.03,273.27 488.03,273.02 489.03,272.79 490.04,272.58 491.04,272.39 492.04,272.22 493.05,272.06 494.05,271.92 495.05,271.78 496.06,271.66 497.06,271.54 498.07,271.44"/>
<polyline points="321.41,363.64 322.42,363.14 323.42,362.71 324.43,362.33 325.43,362.00 326.43,361.72 327.44,361.47 328.44,361.25 329.44,361.06 330.45,360.90 331.45,360.76 332.46,360.63 333.46,360.53 334.46,360.43 335.47,360.35 336.47,360.28 337.47,360.22 338.48,360.16 339.48,360.12 340.49,360.07 341.49,360.04 342.49,360.01 343.50,359.98 344.50,359.96 345.50,359.94 346.51,359.92 347.51,359.90 348.51,359.89 349.52,359.88 350.52,359.87 351.53,359.86 352.53,359.85 353.53,359.85 354.54,359.84 355.54,359.83 356.54,359.83 357.55,359.83 358.55,359.82 359.56,359.82 360.56,359.82 361.56,359.81 362.57,359.81 363.57,359.81 364.57,359.81 365.58,359.81 366.58,359.81 367.58,359.81 368.59,359.81 369.59,359.80 370.60,359.80 371.60,359.80 372.60,359.80 373.61,359.80 374.61,359.80 375.61,359.80 376.62,359.80 377.62,359.80 378.63,359.80 379.63,359.80 380.63,359.80 381.64,359.80 382.64,359.80 383.64,359.80 384.65,359.80 385.65,359.80 386.66,359.80 387.66,359.80 388.66,359.80 389.67,359.80 390.67,359.80 391.67,359.80 392.68,359.80 393.68,359.80 394.68,359.80 395.69,359.80 396.69,359.80 397.70,359.80 398.70,359.80 399.70,359.79 400.71,359.79 401.71,359.79 402.71,359.79 403.72,359.79 404.72,359.79 405.73,359.79 406.73,359.79 407.73,359.78 408.74,359.78 409.74,359.78 410.74,359.78 411.75,359.77 412.75,359.77 413.76,359.76 414.76,359.76 415.76,359.75 416.77,359.75 417.77,359.74 418.77,359.73 419.78,359.72 420.78,359.70 421.78,359.69 422.79,359.67 423.79,359.65 424.80,359.63 425.80,359.61 426.80,359.58 427.81,359.55 428.81,359.51 429.81,359.47 430.82,359.42 431.82,359.36 432.83,359.29 433.83,359.22 434.83,359.13 435.84,359.03 436.84,358.92 437.84,358.79 438.85,358.64 439.85,358.47 440.86,358.28 441.86,358.05 442.86,357.80 443.87,357.51 444.87,357.18 445.87,356.80 446.88,356.37 447.88,355.88 448.88,355.32 449.89,354.70 450.89,353.99 451.90,353.19 452.90,352.29 453.90,351.28 454.91,350.15 455.91,348.90 456.91,347.50 457.92,345.97 458.92,344.28 459.93,342.44 460.93,340.44 461.93,338.29 462.94,335.98 463.94,333.53 464.94,330.94 465.95,328.24 466.95,325.44 467.95,322.57 468.96,319.64 469.96,316.70 470.97,313.76 471.97,310.85 472.97,308.01 473.98,305.25 474.98,302.59 475.98,300.06 476.99,297.67 477.99,295.43 479.00,293.34 480.00,291.40 481.00,289.62 482.01,287.99 483.01,286.50 484.01,285.16 485.02,283.95 486.02,282.86 487.03,281.88 488.03,281.00 489.03,280.22 490.04,279.53 491.04,278.91 492.04,278.36 493.05,277.87 494.05,277.44 495.05,277.06 496.06,276.72 497.06,276.42 498.07,276.15"/>
<polyline points="321.41,363.64 322.42,363.14 323.42,362.71 324.43,362.33 325.43,362.00 326.43,361.72 327.44,361.47 328.44,361.25 329.44,361.06 330.45,360.90 331.45,360.76 332.46,360.63 333.46,360.53 334.46,360.43 335.47,360.35 336.47,360.28 337.47,360.22 338.48,360.16 339.48,360.12 340.49,360.07 341.49,360.04 342.49,360.01 343.50,359.98 344.50,359.96 345.50,359.94 346.51,359.92 347.51,359.90 348.51,359.89 349.52,359.88 350.52,359.87 351.53,359.86 352.53,359.85 353.53,359.85 354.54,359.84 355.54,359.83 356.54,359.83 357.55,359.83 358.55,359.82 359.56,359.82 360.56,359.82 361.56,359.81 362.57,359.81 363.57,359.81 364.57,359.81 365.58,359.81 366.58,359.81 367.58,359.81 368.59,359.81 369.59,359.80 370.60,359.80 371.60,359.80 372.60,359.80 373.61,359.80 374.61,359.80 375.61,359.80 376.62,359.80 377.62,359.80 378.63,359.80 379.63,359.80 380.63,359.80 381.64,359.80 382.64,359.80 383.64,359.80 384.65,359.80 385.65,359.80 386.66,359.80 387.66,359.80 388.66,359.80 389.67,359.80 390.67,359.80 391.67,359.80 392.68,359.80 393.68,359.80 394.68,359.80 395.69,359.80 396.69,359.80 397.70,359.80 398.70,359.80 399.70,359.80 400.71,359.79 401.71,359.79 402.71,359.79 403.72,359.79 404.72,359.79 405.73,359.79 406.73,359.79 407.73,359.78 408.74,359.78 409.74,359.78 410.74,359.78 411.75,359.77 412.75,359.77 413.76,359.77 414.76,359.76 415.76,359.75 416.77,359.75 417.77,359.74 418.77,359.73 419.78,359.72 420.78,359.71 421.78,359.69 422.79,359.68 423.79,359.66 424.80,359.64 425.80,359.62 426.80,359.59 427.81,359.56 428.81,359.52 429.81,359.48 430.82,359.43 431.82,359.37 432.83,359.31 433.83,359.24 434.83,359.16 435.84,359.06 436.84,358.95 437.84,358.83 438.85,358.68 439.85,358.52 440.86,358.33 441.86,358.12 442.86,357.87 443.87,357.59 444.87,357.27 445.87,356.90 446.88,356.49 447.88,356.02 448.88,355.48 449.89,354.87 450.89,354.19 451.90,353.42 452.90,352.55 453.90,351.57 454.91,350.48 455.91,349.27 456.91,347.92 457.92,346.43 458.92,344.80 459.93,343.01 460.93,341.07 461.93,338.98 462.94,336.74 463.94,334.36 464.94,331.84 465.95,329.21 466.95,326.48 467.95,323.68 468.96,320.83 469.96,317.95 470.97,315.07 471.97,312.23 472.97,309.44 473.98,306.74 474.98,304.13 475.98,301.65 476.99,299.30 477.99,297.09 479.00,295.03 480.00,293.12 481.00,291.37 482.01,289.76 483.01,288.29 484.01,286.97 485.02,285.77 486.02,284.69 487.03,283.72 488.03,282.86 489.03,282.09 490.04,281.40 491.04,280.79 492.04,280.25 493.05,279.76 494.05,279.34 495.05,278.96 496.06,278.62 497.06,278.32 498.07,278.06"/>
<polyline points="321.41,363.64 322.42,363.14 323.42,362.71 324.43,362.33 325.43,362.00 326.43,361.72 327.44,361.47 328.44,361.25 329.44,361.06 330.45,360.90 331.45,360.76 332.46,360.63 333.46,360.53 334.46,360.43 335.47,360.35 336.47,360.28 337.47,360.22 338.48,360.16 339.48,360.12 340.49,360.07 341.49,360.04 342.49,360.01 343.50,359.98 344.50,359.96 345.50,359.94 346.51,359.92 347.51,359.90 348.51,359.89 349.52,359.88 350.52,359.87 351.53,359.86 352.53,359.85 353.53,359.85 354.54,359.84 355.54,359.83 356.54,359.83 357.55,359.83 358.55,359.82 359.56,359.82 360.56,359.82 361.56,359.81 362.57,359.81 363.57,359.81 364.57,359.81 365.58,359.81 366.58,359.81 367.58,359.81 368.59,359.81 369.59,359.80 370.60,359.80 371.60,359.80 372.60,359.80 373.61,359.80 374.61,359.80 375.61,359.80 376.62,359.80 377.62,359.80 378.63,359.80 379.63,359.80 380.63,359.80 381.64,359.80 382.64,359.80 383.64,359.80 384.65,359.80 385.65,359.80 386.66,359.80 387.66,359.80 388.66,359.80 389.67,359.80 390.67,359.80 391.67,359.80 392.68,359.80 393.68,359.80 394.68,359.80 395.69,359.80 396.69,359.80 397.70,359.80 398.70,359.80 399.70,359.80 400.71,359.79 401.71,359.79 402.71,359.79 403.72,359.79 404.72,359.79 405.73,359.79 406.73,359.79 407.73,359.79 408.74,359.78 409.74,359.78 410.74,359.78 411.75,359.77 412.75,359.77 413.76,359.77 414.76,359.76 415.76,359.76 416.77,359.75 417.77,359.74 418.77,359.73 419.78,359.72 420.78,359.71 421.78,359.70 422.79,359.68 423.79,359.66 424.80,359.64 425.80,359.62 426.80,359.59 427.81,359.56 428.81,359.53 429.81,359.49 430.82,359.44 431.82,359.39 432.83,359.33 433.83,359.26 434.83,359.18 435.84,359.09 436.84,358.98 437.84,358.86 438.85,358.72 439.85,358.56 440.86,358.38 441.86,358.17 442.86,357.94 443.87,357.66 444.87,357.36 445.87,357.00 446.88,356.60 447.88,356.14 448.88,355.63 449.89,355.04 450.89,354.38 451.90,353.63 452.90,352.79 453.90,351.84 454.91,350.79 455.91,349.61 456.91,348.31 457.92,346.87 458.92,345.28 459.93,343.55 460.93,341.67 461.93,339.64 462.94,337.46 463.94,335.14 464.94,332.70 465.95,330.14 466.95,327.48 467.95,324.75 468.96,321.96 469.96,319.15 470.97,316.34 471.97,313.56 472.97,310.83 473.98,308.18 474.98,305.63 475.98,303.19 476.99,300.88 477.99,298.71 479.00,296.69 480.00,294.81 481.00,293.08 482.01,291.50 483.01,290.06 484.01,288.75 485.02,287.57 486.02,286.51 487.03,285.56 488.03,284.70 489.03,283.94 490.04,283.26 491.04,282.66 492.04,282.12 493.05,281.65 494.05,281.22 495.05,280.85 496.06,280.52 497.06,280.22 498.07,279.96"/>
<polyline points="321.41,363.64 322.42,363.14 323.42,362.71 324.43,362.33 325.43,362.00 326.43,361.72 327.44,361.47 328.44,361.25 329.44,361.06 330.45,360.90 331.45,360.76 332.46,360.63 333.46,360.53 334.46,360.43 335.47,360.35 336.47,360.28 337.47,360.22 338.48,360.16 339.48,360.12 340.49,360.07 341.49,360.04 342.49,360.01 343.50,359.98 344.50,359.96 345.50,359.94 346.51,359.92 347.51,359.90 348.51,359.89 349.52,359.88 350.52,359.87 351.53,359.86 352.53,359.85 353.53,359.85 354.54,359.84 355.54,359.83 356.54,359.83 357.55,359.83 358.55,359.82 359.56,359.82 360.56,359.82 361.56,359.81 362.57,359.81 363.57,359.81 364.57,359.81 365.58,359.81 366.58,359.81 367.58,359.81 368.59,359.81 369.59,359.80 370.60,359.80 371.60,359.80 372.60,359.80 373.61,359.80 374.61,359.80 375.61,359.80 376.62,359.80 377.62,359.80 378.63,359.80 379.63,359.80 380.63,359.80 381.64,359.80 382.64,359.80 383.64,359.80 384.65,359.80 385.65,359.80 386.66,359.80 387.66,359.80 388.66,359.80 389.67,359.80 390.67,359.80 391.67,359.80 392.68,359.80 393.68,359.80 394.68,359.80 395.69,359.80 396.69,359.80 397.70,359.80 398.70,359.80 399.70,359.80 400.71,359.80 401.71,359.80 402.71,359.80 403.72,359.80 404.72,359.80 405.73,359.80 406.73,359.80 407.73,359.80 408.74,359.80 409.74,359.80 410.74,359.80 411.75,359.79 412.75,359.79 413.76,359.79 414.76,359.79 415.76,359.79 416.77,359.79 417.77,359.79 418.77,359.79 419.78,359.78 420.78,359.78 421.78,359.78 422.79,359.78 423.79,359.77 424.80,359.77 425.80,359.76 426.80,359.76 427.81,359.75 428.81,359.75 429.81,359.74 430.82,359.73 431.82,359.72 432.83,359.71 433.83,359.69 434.83,359.68 435.84,359.66 436.84,359.64 437.84,359.61 438.85,359.58 439.85,359.55 440.86,359.52 441.86,359.47 442.86,359.42 443.87,359.37 444.87,359.31 445.87,359.23 446.88,359.15 447.88,359.05 448.88,358.94 449.89,358.81 450.89,358.67 451.90,358.50 452.90,358.31 453.90,358.10 454.91,357.85 455.91,357.57 456.91,357.24 457.92,356.87 458.92,356.45 459.93,355.98 460.93,355.44 461.93,354.82 462.94,354.13 463.94,353.34 464.94,352.46 465.95,351.47 466.95,350.36 467.95,349.13 468.96,347.76 469.96,346.24 470.97,344.56 471.97,342.73 472.97,340.74 473.98,338.58 474.98,336.26 475.98,333.79 476.99,331.17 477.99,328.42 479.00,325.55 480.00,322.60 481.00,319.58 482.01,316.53 483.01,313.46 484.01,310.42 485.02,307.42 486.02,304.51 487.03,301.69 488.03,298.99 489.03,296.43 490.04,294.02 491.04,291.77 492.04,289.68 493.05,287.76 494.05,285.99 495.05,284.38 496.06,282.93 497.06,281.61 498.07,280.43"/>
<polyline points="321.41,363.64 322.42,363.14 323.42,362.71 324.43,362.33 325.43,362.00 326.43,361.72 327.44,361.47 328.44,361.25 329.44,361.06 330.45,360.90 331.45,360.76 332.46,360.63 333.46,360.53 334.46,360.43 335.47,360.35 336.47,360.28 337.47,360.22 338.48,360.16 339.48,360.12 340.49,360.07 341.49,360.04 342.49,360.01 343.50,359.98 344.50,359.96 345.50,359.94 346.51,359.92 347.51,359.90 348.51,359.89 349.52,359.88 350.52,359.87 351.53,359.86 352.53,359.85 353.53,359.85 354.54,359.84 355.54,359.83 356.54,359.83 357.55,359.83 358.55,359.82 359.56,359.82 360.56,359.82 361.56,359.81 362.57,359.81 363.57,359.81 364.57,359.81 365.58,359.81 366.58,359.81 367.58,359.81 368.59,359.81 369.59,359.80 370.60,359.80 371.60,359.80 372.60,359.80 373.61,359.80 374.61,359.80 375.61,359.80 376.62,359.80 377.62,359.80 378.63,359.80 379.63,359.80 380.63,359.80 381.64,359.80 382.64,359.80 383.64,359.80 384.65,359.80 385.65,359.80 386.66,359.80 387.66,359.80 388.66,359.80 389.67,359.80 390.67,359.80 391.67,359.80 392.68,359.80 393.68,359.80 394.68,359.80 395.69,359.80 396.69,359.80 397.70,359.80 398.70,359.80 399.70,359.80 400.71,359.80 401.71,359.80 402.71,359.80 403.72,359.80 404.72,359.80 405.73,359.80 406.73,359.80 407.73,359.80 408.74,359.80 409.74,359.80 410.74,359.80 411.75,359.80 412.75,359.80 413.76,359.80 414.76,359.80 415.76,359.79 416.77,359.79 417.77,359.79 418.77,359.79 419.78,359.79 420.78,359.79 421.78,359.79 422.79,359.79 423.79,359.78 424.80,359.78 425.80,359.78 426.80,359.78 427.81,359.77 428.81,359.77 429.81,359.76 430.82,359.76 431.82,359.75 432.83,359.74 433.83,359.73 434.83,359.72 435.84,359.71 436.84,359.70 437.84,359.69 438.85,359.67 439.85,359.65 440.86,359.63 441.86,359.60 442.86,359.57 443.87,359.54 444.87,359.50 445.87,359.45 446.88,359.40 447.88,359.34 448.88,359.28 449.89,359.20 450.89,359.11 451.90,359.01 452.90,358.89 453.90,358.76 454.91,358.61 455.91,358.43 456.91,358.23 457.92,358.00 458.92,357.74 459.93,357.44 460.93,357.10 461.93,356.71 462.94,356.27 463.94,355.77 464.94,355.20 465.95,354.55 466.95,353.83 467.95,353.00 468.96,352.08 469.96,351.04 470.97,349.89 471.97,348.60 472.97,347.17 473.98,345.59 474.98,343.85 475.98,341.95 476.99,339.89 477.99,337.67 479.00,335.29 480.00,332.76 481.00,330.08 482.01,327.28 483.01,324.38 484.01,321.40 485.02,318.36 486.02,315.30 487.03,312.24 488.03,309.21 489.03,306.25 490.04,303.36 491.04,300.59 492.04,297.95 493.05,295.45 494.05,293.10 495.05,290.91 496.06,288.89 497.06,287.03 498.07,285.33"/>
<polyline points="321.41,364.79 322.42,364.24 323.42,363.77 324.43,363.35 325.43,362.99 326.43,362.68 327.44,362.40 328.44,362.17 329.44,361.96 330.45,361.78 331.45,361.62 332.46,361.48 333.46,361.37 334.46,361.26 335.47,361.17 336.47,361.09 337.47,361.03 338.48,360.97 339.48,360.91 340.49,360.87 341.49,360.83 342.49,360.80 343.50,360.77 344.50,360.74 345.50,360.72 346.51,360.70 347.51,360.68 348.51,360.67 349.52,360.65 350.52,360.64 351.53,360.63 352.53,360.62 353.53,360.62 354.54,360.61 355.54,360.61 356.54,360.60 357.55,360.60 358.55,360.59 359.56,360.59 360.56,360.59 361.56,360.58 362.57,360.58 363.57,360.58 364.57,360.58 365.58,360.58 366.58,360.58 367.58,360.58 368.59,360.57 369.59,360.57 370.60,360.57 371.60,360.57 372.60,360.57 373.61,360.57 374.61,360.57 375.61,360.57 376.62,360.57 377.62,360.57 378.63,360.57 379.63,360.57 380.63,360.57 381.64,360.57 382.64,360.57 383.64,360.57 384.65,360.57 385.65,360.57 386.66,360.57 387.66,360.57 388.66,360.57 389.67,360.57 390.67,360.57 391.67,360.57 392.68,360.57 393.68,360.57 394.68,360.57 395.69,360.57 396.69,360.57 397.70,360.57 398.70,360.57 399.70,360.57 400.71,360.57 401.71,360.57 402.71,360.57 403.72,360.57 404.72,360.57 405.73,360.57 406.73,360.57 407.73,360.57 408.74,360.57 409.74,360.57 410.74,360.57 411.75,360.57 412.75,360.57 413.76,360.57 414.76,360.57 415.76,360.57 416.77,360.57 417.77,360.57 418.77,360.57 419.78,360.57 420.78,360.57 421.78,360.57 422.79,360.57 423.79,360.57 424.80,360.57 425.80,360.57 426.80,360.57 427.81,360.57 428.81,360.57 429.81,360.57 430.82,360.57 431.82,360.57 432.83,360.57 433.83,360.57 434.83,360.57 435.84,360.57 436.84,360.57 437.84,360.57 438.85,360.57 439.85,360.57 440.86,360.57 441.86,360.57 442.86,360.57 443.87,360.57 444.87,360.57 445.87,360.57 446.88,360.57 447.88,360.57 448.88,360.57 449.89,360.57 450.89,360.57 451.90,360.57 452.90,360.57 453.90,360.57 454.91,360.57 455.91,360.57 456.91,360.57 457.92,360.57 458.92,360.57 459.93,360.57 460.93,360.57 461.93,360.57 462.94,360.57 463.94,360.57 464.94,360.57 465.95,360.57 466.95,360.57 467.95,360.57 468.96,360.57 469.96,360.57 470.97,360.57 471.97,360.57 472.97,360.57 473.98,360.57 474.98,360.57 475.98,360.57 476.99,360.57 477.99,360.57 479.00,360.57 480.00,360.57 481.00,360.57 482.01,360.57 483.01,360.57 484.01,360.57 485.02,360.57 486.02,360.57 487.03,360.57 488.03,360.57 489.03,360.57 490.04,360.57 491.04,360.57 492.04,360.57 493.05,360.57 494.05,360.57 495.05,360.57 496.06,360.57 497.06,360.57 498.07,360.57"/>
</g>
<text x="515.5" y="251.1" font-size="11.6" letter-spacing="0.1" font-weight="bold" fill="#727272">Mouse tail, gREL</text>
<line x1="591.5" y1="260.6" x2="591.5" y2="367.3" stroke="#9a9a9a" stroke-width="1" stroke-dasharray="1,1.85"/>
<line x1="631.7" y1="260.6" x2="631.7" y2="367.3" stroke="#9a9a9a" stroke-width="1" stroke-dasharray="1,1.85"/>
<line x1="672.0" y1="260.6" x2="672.0" y2="367.3" stroke="#9a9a9a" stroke-width="1" stroke-dasharray="1,1.85"/>
<line x1="712.3" y1="260.6" x2="712.3" y2="367.3" stroke="#9a9a9a" stroke-width="1" stroke-dasharray="1,1.85"/>
<line x1="553.2" y1="363.2" x2="741.7" y2="363.2" stroke="#9a9a9a" stroke-width="1" stroke-dasharray="1,1.85"/>
<line x1="549.0" y1="363.2" x2="553.4000000000001" y2="363.2" stroke="#333" stroke-width="1.1"/>
<text x="548.6" y="365.3" font-size="9.3" font-weight="bold" text-anchor="end" fill="#111">0</text>
<line x1="553.2" y1="347.7" x2="741.7" y2="347.7" stroke="#9a9a9a" stroke-width="1" stroke-dasharray="1,1.85"/>
<line x1="549.0" y1="347.7" x2="553.4000000000001" y2="347.7" stroke="#333" stroke-width="1.1"/>
<text x="548.6" y="349.8" font-size="9.3" font-weight="bold" text-anchor="end" fill="#111">200</text>
<line x1="553.2" y1="332.2" x2="741.7" y2="332.2" stroke="#9a9a9a" stroke-width="1" stroke-dasharray="1,1.85"/>
<line x1="549.0" y1="332.2" x2="553.4000000000001" y2="332.2" stroke="#333" stroke-width="1.1"/>
<text x="548.6" y="334.3" font-size="9.3" font-weight="bold" text-anchor="end" fill="#111">400</text>
<line x1="553.2" y1="316.8" x2="741.7" y2="316.8" stroke="#9a9a9a" stroke-width="1" stroke-dasharray="1,1.85"/>
<line x1="549.0" y1="316.8" x2="553.4000000000001" y2="316.8" stroke="#333" stroke-width="1.1"/>
<text x="548.6" y="318.9" font-size="9.3" font-weight="bold" text-anchor="end" fill="#111">600</text>
<line x1="553.2" y1="301.3" x2="741.7" y2="301.3" stroke="#9a9a9a" stroke-width="1" stroke-dasharray="1,1.85"/>
<line x1="549.0" y1="301.3" x2="553.4000000000001" y2="301.3" stroke="#333" stroke-width="1.1"/>
<text x="548.6" y="303.4" font-size="9.3" font-weight="bold" text-anchor="end" fill="#111">800</text>
<line x1="553.2" y1="285.8" x2="741.7" y2="285.8" stroke="#9a9a9a" stroke-width="1" stroke-dasharray="1,1.85"/>
<line x1="549.0" y1="285.8" x2="553.4000000000001" y2="285.8" stroke="#333" stroke-width="1.1"/>
<text x="548.6" y="287.9" font-size="9.3" font-weight="bold" text-anchor="end" fill="#111">1000</text>
<line x1="553.2" y1="270.3" x2="741.7" y2="270.3" stroke="#9a9a9a" stroke-width="1" stroke-dasharray="1,1.85"/>
<line x1="549.0" y1="270.3" x2="553.4000000000001" y2="270.3" stroke="#333" stroke-width="1.1"/>
<text x="548.6" y="272.4" font-size="9.3" font-weight="bold" text-anchor="end" fill="#111">1200</text>
<rect x="551.2" y="260.6" width="190.5" height="106.69999999999999" fill="none" stroke="#8e8e8e" stroke-width="1.2"/>
<line x1="550.7" y1="363.2" x2="553.0" y2="363.2" stroke="#333" stroke-width="0.9"/>
<line x1="742.2" y1="363.2" x2="739.9000000000001" y2="363.2" stroke="#333" stroke-width="0.9"/>
<line x1="550.7" y1="359.3" x2="553.0" y2="359.3" stroke="#333" stroke-width="0.9"/>
<line x1="742.2" y1="359.3" x2="739.9000000000001" y2="359.3" stroke="#333" stroke-width="0.9"/>
<line x1="550.7" y1="355.5" x2="553.0" y2="355.5" stroke="#333" stroke-width="0.9"/>
<line x1="742.2" y1="355.5" x2="739.9000000000001" y2="355.5" stroke="#333" stroke-width="0.9"/>
<line x1="550.7" y1="351.6" x2="553.0" y2="351.6" stroke="#333" stroke-width="0.9"/>
<line x1="742.2" y1="351.6" x2="739.9000000000001" y2="351.6" stroke="#333" stroke-width="0.9"/>
<line x1="550.7" y1="347.7" x2="553.0" y2="347.7" stroke="#333" stroke-width="0.9"/>
<line x1="742.2" y1="347.7" x2="739.9000000000001" y2="347.7" stroke="#333" stroke-width="0.9"/>
<line x1="550.7" y1="343.8" x2="553.0" y2="343.8" stroke="#333" stroke-width="0.9"/>
<line x1="742.2" y1="343.8" x2="739.9000000000001" y2="343.8" stroke="#333" stroke-width="0.9"/>
<line x1="550.7" y1="340.0" x2="553.0" y2="340.0" stroke="#333" stroke-width="0.9"/>
<line x1="742.2" y1="340.0" x2="739.9000000000001" y2="340.0" stroke="#333" stroke-width="0.9"/>
<line x1="550.7" y1="336.1" x2="553.0" y2="336.1" stroke="#333" stroke-width="0.9"/>
<line x1="742.2" y1="336.1" x2="739.9000000000001" y2="336.1" stroke="#333" stroke-width="0.9"/>
<line x1="550.7" y1="332.2" x2="553.0" y2="332.2" stroke="#333" stroke-width="0.9"/>
<line x1="742.2" y1="332.2" x2="739.9000000000001" y2="332.2" stroke="#333" stroke-width="0.9"/>
<line x1="550.7" y1="328.4" x2="553.0" y2="328.4" stroke="#333" stroke-width="0.9"/>
<line x1="742.2" y1="328.4" x2="739.9000000000001" y2="328.4" stroke="#333" stroke-width="0.9"/>
<line x1="550.7" y1="324.5" x2="553.0" y2="324.5" stroke="#333" stroke-width="0.9"/>
<line x1="742.2" y1="324.5" x2="739.9000000000001" y2="324.5" stroke="#333" stroke-width="0.9"/>
<line x1="550.7" y1="320.6" x2="553.0" y2="320.6" stroke="#333" stroke-width="0.9"/>
<line x1="742.2" y1="320.6" x2="739.9000000000001" y2="320.6" stroke="#333" stroke-width="0.9"/>
<line x1="550.7" y1="316.8" x2="553.0" y2="316.8" stroke="#333" stroke-width="0.9"/>
<line x1="742.2" y1="316.8" x2="739.9000000000001" y2="316.8" stroke="#333" stroke-width="0.9"/>
<line x1="550.7" y1="312.9" x2="553.0" y2="312.9" stroke="#333" stroke-width="0.9"/>
<line x1="742.2" y1="312.9" x2="739.9000000000001" y2="312.9" stroke="#333" stroke-width="0.9"/>
<line x1="550.7" y1="309.0" x2="553.0" y2="309.0" stroke="#333" stroke-width="0.9"/>
<line x1="742.2" y1="309.0" x2="739.9000000000001" y2="309.0" stroke="#333" stroke-width="0.9"/>
<line x1="550.7" y1="305.1" x2="553.0" y2="305.1" stroke="#333" stroke-width="0.9"/>
<line x1="742.2" y1="305.1" x2="739.9000000000001" y2="305.1" stroke="#333" stroke-width="0.9"/>
<line x1="550.7" y1="301.3" x2="553.0" y2="301.3" stroke="#333" stroke-width="0.9"/>
<line x1="742.2" y1="301.3" x2="739.9000000000001" y2="301.3" stroke="#333" stroke-width="0.9"/>
<line x1="550.7" y1="297.4" x2="553.0" y2="297.4" stroke="#333" stroke-width="0.9"/>
<line x1="742.2" y1="297.4" x2="739.9000000000001" y2="297.4" stroke="#333" stroke-width="0.9"/>
<line x1="550.7" y1="293.5" x2="553.0" y2="293.5" stroke="#333" stroke-width="0.9"/>
<line x1="742.2" y1="293.5" x2="739.9000000000001" y2="293.5" stroke="#333" stroke-width="0.9"/>
<line x1="550.7" y1="289.7" x2="553.0" y2="289.7" stroke="#333" stroke-width="0.9"/>
<line x1="742.2" y1="289.7" x2="739.9000000000001" y2="289.7" stroke="#333" stroke-width="0.9"/>
<line x1="550.7" y1="285.8" x2="553.0" y2="285.8" stroke="#333" stroke-width="0.9"/>
<line x1="742.2" y1="285.8" x2="739.9000000000001" y2="285.8" stroke="#333" stroke-width="0.9"/>
<line x1="550.7" y1="281.9" x2="553.0" y2="281.9" stroke="#333" stroke-width="0.9"/>
<line x1="742.2" y1="281.9" x2="739.9000000000001" y2="281.9" stroke="#333" stroke-width="0.9"/>
<line x1="550.7" y1="278.1" x2="553.0" y2="278.1" stroke="#333" stroke-width="0.9"/>
<line x1="742.2" y1="278.1" x2="739.9000000000001" y2="278.1" stroke="#333" stroke-width="0.9"/>
<line x1="550.7" y1="274.2" x2="553.0" y2="274.2" stroke="#333" stroke-width="0.9"/>
<line x1="742.2" y1="274.2" x2="739.9000000000001" y2="274.2" stroke="#333" stroke-width="0.9"/>
<line x1="550.7" y1="270.3" x2="553.0" y2="270.3" stroke="#333" stroke-width="0.9"/>
<line x1="742.2" y1="270.3" x2="739.9000000000001" y2="270.3" stroke="#333" stroke-width="0.9"/>
<line x1="550.7" y1="266.4" x2="553.0" y2="266.4" stroke="#333" stroke-width="0.9"/>
<line x1="742.2" y1="266.4" x2="739.9000000000001" y2="266.4" stroke="#333" stroke-width="0.9"/>
<line x1="550.7" y1="262.6" x2="553.0" y2="262.6" stroke="#333" stroke-width="0.9"/>
<line x1="742.2" y1="262.6" x2="739.9000000000001" y2="262.6" stroke="#333" stroke-width="0.9"/>
<line x1="559.3" y1="260.1" x2="559.3" y2="262.6" stroke="#333" stroke-width="0.9"/>
<line x1="559.3" y1="367.8" x2="559.3" y2="365.3" stroke="#333" stroke-width="0.9"/>
<line x1="567.3" y1="260.1" x2="567.3" y2="262.6" stroke="#333" stroke-width="0.9"/>
<line x1="567.3" y1="367.8" x2="567.3" y2="365.3" stroke="#333" stroke-width="0.9"/>
<line x1="575.4" y1="260.1" x2="575.4" y2="262.6" stroke="#333" stroke-width="0.9"/>
<line x1="575.4" y1="367.8" x2="575.4" y2="365.3" stroke="#333" stroke-width="0.9"/>
<line x1="583.4" y1="260.1" x2="583.4" y2="262.6" stroke="#333" stroke-width="0.9"/>
<line x1="583.4" y1="367.8" x2="583.4" y2="365.3" stroke="#333" stroke-width="0.9"/>
<line x1="591.5" y1="260.1" x2="591.5" y2="262.6" stroke="#333" stroke-width="0.9"/>
<line x1="591.5" y1="367.8" x2="591.5" y2="365.3" stroke="#333" stroke-width="0.9"/>
<line x1="599.5" y1="260.1" x2="599.5" y2="262.6" stroke="#333" stroke-width="0.9"/>
<line x1="599.5" y1="367.8" x2="599.5" y2="365.3" stroke="#333" stroke-width="0.9"/>
<line x1="607.6" y1="260.1" x2="607.6" y2="262.6" stroke="#333" stroke-width="0.9"/>
<line x1="607.6" y1="367.8" x2="607.6" y2="365.3" stroke="#333" stroke-width="0.9"/>
<line x1="615.6" y1="260.1" x2="615.6" y2="262.6" stroke="#333" stroke-width="0.9"/>
<line x1="615.6" y1="367.8" x2="615.6" y2="365.3" stroke="#333" stroke-width="0.9"/>
<line x1="623.7" y1="260.1" x2="623.7" y2="262.6" stroke="#333" stroke-width="0.9"/>
<line x1="623.7" y1="367.8" x2="623.7" y2="365.3" stroke="#333" stroke-width="0.9"/>
<line x1="631.7" y1="260.1" x2="631.7" y2="262.6" stroke="#333" stroke-width="0.9"/>
<line x1="631.7" y1="367.8" x2="631.7" y2="365.3" stroke="#333" stroke-width="0.9"/>
<line x1="639.8" y1="260.1" x2="639.8" y2="262.6" stroke="#333" stroke-width="0.9"/>
<line x1="639.8" y1="367.8" x2="639.8" y2="365.3" stroke="#333" stroke-width="0.9"/>
<line x1="647.9" y1="260.1" x2="647.9" y2="262.6" stroke="#333" stroke-width="0.9"/>
<line x1="647.9" y1="367.8" x2="647.9" y2="365.3" stroke="#333" stroke-width="0.9"/>
<line x1="655.9" y1="260.1" x2="655.9" y2="262.6" stroke="#333" stroke-width="0.9"/>
<line x1="655.9" y1="367.8" x2="655.9" y2="365.3" stroke="#333" stroke-width="0.9"/>
<line x1="664.0" y1="260.1" x2="664.0" y2="262.6" stroke="#333" stroke-width="0.9"/>
<line x1="664.0" y1="367.8" x2="664.0" y2="365.3" stroke="#333" stroke-width="0.9"/>
<line x1="672.0" y1="260.1" x2="672.0" y2="262.6" stroke="#333" stroke-width="0.9"/>
<line x1="672.0" y1="367.8" x2="672.0" y2="365.3" stroke="#333" stroke-width="0.9"/>
<line x1="680.1" y1="260.1" x2="680.1" y2="262.6" stroke="#333" stroke-width="0.9"/>
<line x1="680.1" y1="367.8" x2="680.1" y2="365.3" stroke="#333" stroke-width="0.9"/>
<line x1="688.1" y1="260.1" x2="688.1" y2="262.6" stroke="#333" stroke-width="0.9"/>
<line x1="688.1" y1="367.8" x2="688.1" y2="365.3" stroke="#333" stroke-width="0.9"/>
<line x1="696.2" y1="260.1" x2="696.2" y2="262.6" stroke="#333" stroke-width="0.9"/>
<line x1="696.2" y1="367.8" x2="696.2" y2="365.3" stroke="#333" stroke-width="0.9"/>
<line x1="704.2" y1="260.1" x2="704.2" y2="262.6" stroke="#333" stroke-width="0.9"/>
<line x1="704.2" y1="367.8" x2="704.2" y2="365.3" stroke="#333" stroke-width="0.9"/>
<line x1="712.3" y1="260.1" x2="712.3" y2="262.6" stroke="#333" stroke-width="0.9"/>
<line x1="712.3" y1="367.8" x2="712.3" y2="365.3" stroke="#333" stroke-width="0.9"/>
<line x1="720.4" y1="260.1" x2="720.4" y2="262.6" stroke="#333" stroke-width="0.9"/>
<line x1="720.4" y1="367.8" x2="720.4" y2="365.3" stroke="#333" stroke-width="0.9"/>
<line x1="728.4" y1="260.1" x2="728.4" y2="262.6" stroke="#333" stroke-width="0.9"/>
<line x1="728.4" y1="367.8" x2="728.4" y2="365.3" stroke="#333" stroke-width="0.9"/>
<line x1="736.5" y1="260.1" x2="736.5" y2="262.6" stroke="#333" stroke-width="0.9"/>
<line x1="736.5" y1="367.8" x2="736.5" y2="365.3" stroke="#333" stroke-width="0.9"/>
<text x="552.4" y="376.2" font-size="9.3" font-weight="bold" text-anchor="middle" fill="#111">0</text>
<text x="592.7" y="376.2" font-size="9.3" font-weight="bold" text-anchor="middle" fill="#111">10</text>
<text x="632.9" y="376.2" font-size="9.3" font-weight="bold" text-anchor="middle" fill="#111">20</text>
<text x="673.2" y="376.2" font-size="9.3" font-weight="bold" text-anchor="middle" fill="#111">30</text>
<text x="713.5" y="376.2" font-size="9.3" font-weight="bold" text-anchor="middle" fill="#111">40</text>
<text x="653.0" y="387.8" font-size="10" font-weight="bold" text-anchor="middle" fill="#111">Cycles</text>
<text transform="translate(521.5,308.9) rotate(-90)" x="0" y="3.9" font-size="10.6" textLength="19.8" lengthAdjust="spacingAndGlyphs" text-anchor="middle" fill="#111">RFU</text>
<line x1="554.9" y1="354.5" x2="732.4" y2="354.5" stroke="#6cc4d4" stroke-width="1.0"/>
<g fill="none" stroke="#2e9440" stroke-width="1.0" stroke-opacity="0.72" stroke-linejoin="round">
<polyline points="555.23,364.75 556.23,364.55 557.24,364.37 558.25,364.22 559.25,364.09 560.26,363.97 561.27,363.87 562.28,363.79 563.28,363.71 564.29,363.64 565.30,363.59 566.30,363.54 567.31,363.49 568.32,363.45 569.32,363.42 570.33,363.39 571.34,363.37 572.34,363.35 573.35,363.33 574.36,363.31 575.36,363.30 576.37,363.28 577.38,363.27 578.39,363.26 579.39,363.25 580.40,363.25 581.41,363.24 582.41,363.24 583.42,363.23 584.43,363.23 585.43,363.22 586.44,363.22 587.45,363.22 588.45,363.21 589.46,363.21 590.47,363.21 591.47,363.21 592.48,363.20 593.49,363.20 594.50,363.20 595.50,363.20 596.51,363.19 597.52,363.19 598.52,363.19 599.53,363.19 600.54,363.18 601.54,363.18 602.55,363.17 603.56,363.16 604.56,363.16 605.57,363.15 606.58,363.14 607.58,363.12 608.59,363.11 609.60,363.09 610.61,363.07 611.61,363.05 612.62,363.02 613.63,362.98 614.63,362.94 615.64,362.88 616.65,362.82 617.65,362.75 618.66,362.66 619.67,362.56 620.67,362.43 621.68,362.29 622.69,362.11 623.69,361.90 624.70,361.66 625.71,361.36 626.72,361.01 627.72,360.60 628.73,360.12 629.74,359.55 630.74,358.88 631.75,358.09 632.76,357.17 633.76,356.11 634.77,354.89 635.78,353.48 636.78,351.87 637.79,350.06 638.80,348.02 639.80,345.77 640.81,343.29 641.82,340.60 642.83,337.72 643.83,334.68 644.84,331.51 645.85,328.27 646.85,325.01 647.86,321.77 648.87,318.60 649.87,315.56 650.88,312.68 651.89,309.98 652.89,307.50 653.90,305.24 654.91,303.21 655.91,301.40 656.92,299.81 657.93,298.41 658.94,297.19 659.94,296.15 660.95,295.25 661.96,294.48 662.96,293.83 663.97,293.28 664.98,292.82 665.98,292.43 666.99,292.11 668.00,291.84 669.00,291.62 670.01,291.44 671.02,291.29 672.02,291.18 673.03,291.08 674.04,291.00 675.05,290.95 676.05,290.90 677.06,290.87 678.07,290.85 679.07,290.83 680.08,290.83 681.09,290.82 682.09,290.83 683.10,290.84 684.11,290.85 685.11,290.86 686.12,290.88 687.13,290.90 688.13,290.92 689.14,290.94 690.15,290.96 691.16,290.99 692.16,291.01 693.17,291.04 694.18,291.06 695.18,291.09 696.19,291.12 697.20,291.14 698.20,291.17 699.21,291.20 700.22,291.23 701.22,291.25 702.23,291.28 703.24,291.31 704.24,291.34 705.25,291.37 706.26,291.40 707.27,291.43 708.27,291.45 709.28,291.48 710.29,291.51 711.29,291.54 712.30,291.57 713.31,291.60 714.31,291.63 715.32,291.66 716.33,291.69 717.33,291.71 718.34,291.74 719.35,291.77 720.35,291.80 721.36,291.83 722.37,291.86 723.37,291.89 724.38,291.92 725.39,291.95 726.40,291.98 727.40,292.00 728.41,292.03 729.42,292.06 730.42,292.09 731.43,292.12 732.44,292.15"/>
<polyline points="555.23,364.75 556.23,364.55 557.24,364.37 558.25,364.22 559.25,364.09 560.26,363.97 561.27,363.87 562.28,363.79 563.28,363.71 564.29,363.64 565.30,363.59 566.30,363.54 567.31,363.49 568.32,363.45 569.32,363.42 570.33,363.39 571.34,363.37 572.34,363.35 573.35,363.33 574.36,363.31 575.36,363.30 576.37,363.28 577.38,363.27 578.39,363.26 579.39,363.25 580.40,363.25 581.41,363.24 582.41,363.24 583.42,363.23 584.43,363.23 585.43,363.22 586.44,363.22 587.45,363.22 588.45,363.21 589.46,363.21 590.47,363.21 591.47,363.21 592.48,363.21 593.49,363.20 594.50,363.20 595.50,363.20 596.51,363.20 597.52,363.19 598.52,363.19 599.53,363.19 600.54,363.19 601.54,363.18 602.55,363.18 603.56,363.17 604.56,363.17 605.57,363.16 606.58,363.15 607.58,363.14 608.59,363.13 609.60,363.12 610.61,363.10 611.61,363.08 612.62,363.06 613.63,363.03 614.63,363.00 615.64,362.96 616.65,362.91 617.65,362.85 618.66,362.79 619.67,362.70 620.67,362.61 621.68,362.49 622.69,362.35 623.69,362.19 624.70,361.99 625.71,361.76 626.72,361.48 627.72,361.15 628.73,360.76 629.74,360.29 630.74,359.74 631.75,359.10 632.76,358.34 633.76,357.44 634.77,356.40 635.78,355.19 636.78,353.79 637.79,352.18 638.80,350.34 639.80,348.25 640.81,345.90 641.82,343.30 642.83,340.43 643.83,337.31 644.84,333.96 645.85,330.41 646.85,326.71 647.86,322.91 648.87,319.06 649.87,315.23 650.88,311.48 651.89,307.85 652.89,304.40 653.90,301.16 654.91,298.16 655.91,295.41 656.92,292.91 657.93,290.67 658.94,288.67 659.94,286.91 660.95,285.35 661.96,283.99 662.96,282.80 663.97,281.77 664.98,280.87 665.98,280.09 666.99,279.41 668.00,278.82 669.00,278.31 670.01,277.86 671.02,277.46 672.02,277.11 673.03,276.80 674.04,276.53 675.05,276.28 676.05,276.06 677.06,275.86 678.07,275.67 679.07,275.50 680.08,275.34 681.09,275.19 682.09,275.05 683.10,274.92 684.11,274.79 685.11,274.67 686.12,274.55 687.13,274.44 688.13,274.33 689.14,274.22 690.15,274.11 691.16,274.00 692.16,273.90 693.17,273.80 694.18,273.69 695.18,273.59 696.19,273.49 697.20,273.39 698.20,273.29 699.21,273.19 700.22,273.10 701.22,273.00 702.23,272.90 703.24,272.80 704.24,272.70 705.25,272.61 706.26,272.51 707.27,272.41 708.27,272.31 709.28,272.22 710.29,272.12 711.29,272.02 712.30,271.93 713.31,271.83 714.31,271.73 715.32,271.64 716.33,271.54 717.33,271.44 718.34,271.35 719.35,271.25 720.35,271.15 721.36,271.05 722.37,270.96 723.37,270.86 724.38,270.76 725.39,270.67 726.40,270.57 727.40,270.47 728.41,270.38 729.42,270.28 730.42,270.18 731.43,270.09 732.44,269.99"/>
<polyline points="555.23,364.75 556.23,364.55 557.24,364.37 558.25,364.22 559.25,364.09 560.26,363.97 561.27,363.87 562.28,363.79 563.28,363.71 564.29,363.64 565.30,363.59 566.30,363.54 567.31,363.49 568.32,363.45 569.32,363.42 570.33,363.39 571.34,363.37 572.34,363.35 573.35,363.33 574.36,363.31 575.36,363.30 576.37,363.28 577.38,363.27 578.39,363.26 579.39,363.26 580.40,363.25 581.41,363.24 582.41,363.24 583.42,363.23 584.43,363.23 585.43,363.22 586.44,363.22 587.45,363.22 588.45,363.22 589.46,363.21 590.47,363.21 591.47,363.21 592.48,363.21 593.49,363.21 594.50,363.21 595.50,363.20 596.51,363.20 597.52,363.20 598.52,363.20 599.53,363.20 600.54,363.20 601.54,363.20 602.55,363.20 603.56,363.20 604.56,363.19 605.57,363.19 606.58,363.19 607.58,363.19 608.59,363.19 609.60,363.18 610.61,363.18 611.61,363.18 612.62,363.17 613.63,363.17 614.63,363.16 615.64,363.15 616.65,363.14 617.65,363.13 618.66,363.12 619.67,363.10 620.67,363.08 621.68,363.06 622.69,363.03 623.69,363.00 624.70,362.96 625.71,362.91 626.72,362.86 627.72,362.79 628.73,362.71 629.74,362.62 630.74,362.50 631.75,362.37 632.76,362.21 633.76,362.02 634.77,361.79 635.78,361.52 636.78,361.20 637.79,360.82 638.80,360.38 639.80,359.85 640.81,359.23 641.82,358.51 642.83,357.66 643.83,356.67 644.84,355.53 645.85,354.22 646.85,352.71 647.86,351.00 648.87,349.07 649.87,346.91 650.88,344.53 651.89,341.93 652.89,339.13 653.90,336.14 654.91,333.01 655.91,329.77 656.92,326.47 657.93,323.17 658.94,319.92 659.94,316.76 660.95,313.74 661.96,310.90 662.96,308.26 663.97,305.84 664.98,303.65 665.98,301.68 666.99,299.94 668.00,298.40 669.00,297.06 670.01,295.90 671.02,294.90 672.02,294.04 673.03,293.31 674.04,292.69 675.05,292.16 676.05,291.72 677.06,291.35 678.07,291.04 679.07,290.78 680.08,290.56 681.09,290.38 682.09,290.24 683.10,290.12 684.11,290.02 685.11,289.94 686.12,289.88 687.13,289.83 688.13,289.79 689.14,289.76 690.15,289.74 691.16,289.72 692.16,289.72 693.17,289.71 694.18,289.71 695.18,289.71 696.19,289.72 697.20,289.73 698.20,289.74 699.21,289.75 700.22,289.76 701.22,289.77 702.23,289.79 703.24,289.80 704.24,289.82 705.25,289.84 706.26,289.85 707.27,289.87 708.27,289.89 709.28,289.91 710.29,289.92 711.29,289.94 712.30,289.96 713.31,289.98 714.31,290.00 715.32,290.02 716.33,290.04 717.33,290.06 718.34,290.08 719.35,290.09 720.35,290.11 721.36,290.13 722.37,290.15 723.37,290.17 724.38,290.19 725.39,290.21 726.40,290.23 727.40,290.25 728.41,290.27 729.42,290.29 730.42,290.31 731.43,290.33 732.44,290.34"/>
<polyline points="555.23,364.75 556.23,364.55 557.24,364.37 558.25,364.22 559.25,364.09 560.26,363.97 561.27,363.87 562.28,363.79 563.28,363.71 564.29,363.64 565.30,363.59 566.30,363.54 567.31,363.49 568.32,363.45 569.32,363.42 570.33,363.39 571.34,363.37 572.34,363.35 573.35,363.33 574.36,363.31 575.36,363.30 576.37,363.28 577.38,363.27 578.39,363.26 579.39,363.26 580.40,363.25 581.41,363.24 582.41,363.24 583.42,363.23 584.43,363.23 585.43,363.22 586.44,363.22 587.45,363.22 588.45,363.22 589.46,363.21 590.47,363.21 591.47,363.21 592.48,363.21 593.49,363.21 594.50,363.21 595.50,363.20 596.51,363.20 597.52,363.20 598.52,363.20 599.53,363.20 600.54,363.20 601.54,363.20 602.55,363.20 603.56,363.20 604.56,363.20 605.57,363.20 606.58,363.19 607.58,363.19 608.59,363.19 609.60,363.19 610.61,363.19 611.61,363.18 612.62,363.18 613.63,363.17 614.63,363.17 615.64,363.16 616.65,363.16 617.65,363.15 618.66,363.14 619.67,363.12 620.67,363.11 621.68,363.09 622.69,363.07 623.69,363.04 624.70,363.01 625.71,362.97 626.72,362.93 627.72,362.88 628.73,362.81 629.74,362.74 630.74,362.65 631.75,362.54 632.76,362.41 633.76,362.26 634.77,362.07 635.78,361.86 636.78,361.60 637.79,361.29 638.80,360.92 639.80,360.49 640.81,359.97 641.82,359.37 642.83,358.65 643.83,357.82 644.84,356.84 645.85,355.70 646.85,354.37 647.86,352.85 648.87,351.10 649.87,349.11 650.88,346.87 651.89,344.37 652.89,341.61 653.90,338.58 654.91,335.32 655.91,331.85 656.92,328.21 657.93,324.44 658.94,320.60 659.94,316.76 660.95,312.97 661.96,309.28 662.96,305.76 663.97,302.43 664.98,299.33 665.98,296.48 666.99,293.88 668.00,291.54 669.00,289.44 670.01,287.59 671.02,285.95 672.02,284.51 673.03,283.26 674.04,282.17 675.05,281.21 676.05,280.39 677.06,279.67 678.07,279.05 679.07,278.50 680.08,278.03 681.09,277.61 682.09,277.25 683.10,276.92 684.11,276.64 685.11,276.38 686.12,276.15 687.13,275.94 688.13,275.75 689.14,275.57 690.15,275.41 691.16,275.25 692.16,275.11 693.17,274.97 694.18,274.84 695.18,274.72 696.19,274.60 697.20,274.48 698.20,274.37 699.21,274.26 700.22,274.15 701.22,274.05 702.23,273.94 703.24,273.84 704.24,273.73 705.25,273.63 706.26,273.53 707.27,273.43 708.27,273.33 709.28,273.23 710.29,273.14 711.29,273.04 712.30,272.94 713.31,272.84 714.31,272.74 715.32,272.65 716.33,272.55 717.33,272.45 718.34,272.35 719.35,272.26 720.35,272.16 721.36,272.06 722.37,271.97 723.37,271.87 724.38,271.77 725.39,271.67 726.40,271.58 727.40,271.48 728.41,271.38 729.42,271.29 730.42,271.19 731.43,271.09 732.44,271.00"/>
<polyline points="555.23,364.75 556.23,364.55 557.24,364.37 558.25,364.22 559.25,364.09 560.26,363.97 561.27,363.87 562.28,363.79 563.28,363.71 564.29,363.64 565.30,363.59 566.30,363.54 567.31,363.49 568.32,363.45 569.32,363.42 570.33,363.39 571.34,363.37 572.34,363.35 573.35,363.33 574.36,363.31 575.36,363.30 576.37,363.28 577.38,363.27 578.39,363.26 579.39,363.26 580.40,363.25 581.41,363.24 582.41,363.24 583.42,363.23 584.43,363.23 585.43,363.22 586.44,363.22 587.45,363.22 588.45,363.22 589.46,363.21 590.47,363.21 591.47,363.21 592.48,363.21 593.49,363.21 594.50,363.21 595.50,363.21 596.51,363.21 597.52,363.20 598.52,363.20 599.53,363.20 600.54,363.20 601.54,363.20 602.55,363.20 603.56,363.20 604.56,363.20 605.57,363.20 606.58,363.20 607.58,363.20 608.59,363.20 609.60,363.20 610.61,363.20 611.61,363.20 612.62,363.20 613.63,363.20 614.63,363.20 615.64,363.20 616.65,363.20 617.65,363.20 618.66,363.19 619.67,363.19 620.67,363.19 621.68,363.19 622.69,363.19 623.69,363.19 624.70,363.18 625.71,363.18 626.72,363.18 627.72,363.17 628.73,363.17 629.74,363.16 630.74,363.15 631.75,363.14 632.76,363.13 633.76,363.12 634.77,363.10 635.78,363.09 636.78,363.06 637.79,363.04 638.80,363.00 639.80,362.97 640.81,362.92 641.82,362.86 642.83,362.80 643.83,362.72 644.84,362.63 645.85,362.52 646.85,362.38 647.86,362.22 648.87,362.03 649.87,361.81 650.88,361.54 651.89,361.22 652.89,360.85 653.90,360.40 654.91,359.87 655.91,359.24 656.92,358.51 657.93,357.65 658.94,356.64 659.94,355.46 660.95,354.10 661.96,352.53 662.96,350.73 663.97,348.68 664.98,346.37 665.98,343.79 666.99,340.93 668.00,337.81 669.00,334.43 670.01,330.83 671.02,327.06 672.02,323.15 673.03,319.16 674.04,315.16 675.05,311.22 676.05,307.38 677.06,303.70 678.07,300.23 679.07,297.00 680.08,294.03 681.09,291.32 682.09,288.88 683.10,286.71 684.11,284.79 685.11,283.10 686.12,281.62 687.13,280.33 688.13,279.21 689.14,278.25 690.15,277.42 691.16,276.70 692.16,276.08 693.17,275.55 694.18,275.09 695.18,274.70 696.19,274.35 697.20,274.06 698.20,273.80 699.21,273.57 700.22,273.37 701.22,273.19 702.23,273.03 703.24,272.89 704.24,272.76 705.25,272.64 706.26,272.54 707.27,272.44 708.27,272.34 709.28,272.26 710.29,272.17 711.29,272.10 712.30,272.02 713.31,271.95 714.31,271.88 715.32,271.81 716.33,271.74 717.33,271.68 718.34,271.61 719.35,271.55 720.35,271.49 721.36,271.43 722.37,271.37 723.37,271.31 724.38,271.25 725.39,271.19 726.40,271.13 727.40,271.07 728.41,271.01 729.42,270.95 730.42,270.89 731.43,270.83 732.44,270.77"/>
<polyline points="555.23,364.75 556.23,364.55 557.24,364.37 558.25,364.22 559.25,364.09 560.26,363.97 561.27,363.87 562.28,363.79 563.28,363.71 564.29,363.64 565.30,363.59 566.30,363.54 567.31,363.49 568.32,363.45 569.32,363.42 570.33,363.39 571.34,363.37 572.34,363.35 573.35,363.33 574.36,363.31 575.36,363.30 576.37,363.28 577.38,363.27 578.39,363.26 579.39,363.26 580.40,363.25 581.41,363.24 582.41,363.24 583.42,363.23 584.43,363.23 585.43,363.22 586.44,363.22 587.45,363.22 588.45,363.22 589.46,363.21 590.47,363.21 591.47,363.21 592.48,363.21 593.49,363.21 594.50,363.21 595.50,363.21 596.51,363.21 597.52,363.20 598.52,363.20 599.53,363.20 600.54,363.20 601.54,363.20 602.55,363.20 603.56,363.20 604.56,363.20 605.57,363.20 606.58,363.20 607.58,363.20 608.59,363.20 609.60,363.20 610.61,363.20 611.61,363.20 612.62,363.20 613.63,363.20 614.63,363.20 615.64,363.20 616.65,363.20 617.65,363.20 618.66,363.20 619.67,363.19 620.67,363.19 621.68,363.19 622.69,363.19 623.69,363.19 624.70,363.19 625.71,363.18 626.72,363.18 627.72,363.17 628.73,363.17 629.74,363.16 630.74,363.16 631.75,363.15 632.76,363.14 633.76,363.12 634.77,363.11 635.78,363.09 636.78,363.07 637.79,363.04 638.80,363.01 639.80,362.98 640.81,362.93 641.82,362.88 642.83,362.82 643.83,362.74 644.84,362.65 645.85,362.54 646.85,362.42 647.86,362.26 648.87,362.08 649.87,361.86 650.88,361.61 651.89,361.30 652.89,360.93 653.90,360.50 654.91,359.99 655.91,359.39 656.92,358.67 657.93,357.84 658.94,356.86 659.94,355.72 660.95,354.40 661.96,352.88 662.96,351.13 663.97,349.15 664.98,346.91 665.98,344.41 666.99,341.64 668.00,338.62 669.00,335.36 670.01,331.88 671.02,328.23 672.02,324.46 673.03,320.61 674.04,316.76 675.05,312.96 676.05,309.26 677.06,305.72 678.07,302.37 679.07,299.25 680.08,296.38 681.09,293.76 682.09,291.40 683.10,289.28 684.11,287.41 685.11,285.75 686.12,284.29 687.13,283.01 688.13,281.90 689.14,280.92 690.15,280.08 691.16,279.34 692.16,278.69 693.17,278.13 694.18,277.63 695.18,277.20 696.19,276.81 697.20,276.47 698.20,276.16 699.21,275.88 700.22,275.63 701.22,275.40 702.23,275.19 703.24,274.99 704.24,274.81 705.25,274.64 706.26,274.47 707.27,274.32 708.27,274.17 709.28,274.02 710.29,273.88 711.29,273.75 712.30,273.62 713.31,273.49 714.31,273.36 715.32,273.23 716.33,273.11 717.33,272.99 718.34,272.86 719.35,272.74 720.35,272.62 721.36,272.50 722.37,272.38 723.37,272.27 724.38,272.15 725.39,272.03 726.40,271.91 727.40,271.80 728.41,271.68 729.42,271.56 730.42,271.45 731.43,271.33 732.44,271.21"/>
<polyline points="555.23,364.75 556.23,364.55 557.24,364.37 558.25,364.22 559.25,364.09 560.26,363.97 561.27,363.87 562.28,363.79 563.28,363.71 564.29,363.64 565.30,363.59 566.30,363.54 567.31,363.49 568.32,363.45 569.32,363.42 570.33,363.39 571.34,363.37 572.34,363.35 573.35,363.33 574.36,363.31 575.36,363.30 576.37,363.28 577.38,363.27 578.39,363.26 579.39,363.26 580.40,363.25 581.41,363.24 582.41,363.24 583.42,363.23 584.43,363.23 585.43,363.22 586.44,363.22 587.45,363.22 588.45,363.22 589.46,363.21 590.47,363.21 591.47,363.21 592.48,363.21 593.49,363.21 594.50,363.21 595.50,363.21 596.51,363.21 597.52,363.20 598.52,363.20 599.53,363.20 600.54,363.20 601.54,363.20 602.55,363.20 603.56,363.20 604.56,363.20 605.57,363.20 606.58,363.20 607.58,363.20 608.59,363.20 609.60,363.20 610.61,363.20 611.61,363.20 612.62,363.20 613.63,363.20 614.63,363.20 615.64,363.20 616.65,363.20 617.65,363.20 618.66,363.20 619.67,363.20 620.67,363.20 621.68,363.20 622.69,363.20 623.69,363.20 624.70,363.20 625.71,363.20 626.72,363.20 627.72,363.20 628.73,363.20 629.74,363.20 630.74,363.20 631.75,363.20 632.76,363.20 633.76,363.19 634.77,363.19 635.78,363.19 636.78,363.19 637.79,363.19 638.80,363.19 639.80,363.18 640.81,363.18 641.82,363.18 642.83,363.17 643.83,363.17 644.84,363.16 645.85,363.15 646.85,363.15 647.86,363.14 648.87,363.12 649.87,363.11 650.88,363.09 651.89,363.07 652.89,363.04 653.90,363.01 654.91,362.97 655.91,362.93 656.92,362.88 657.93,362.81 658.94,362.74 659.94,362.65 660.95,362.54 661.96,362.41 662.96,362.26 663.97,362.08 664.98,361.86 665.98,361.60 666.99,361.29 668.00,360.93 669.00,360.49 670.01,359.98 671.02,359.38 672.02,358.67 673.03,357.83 674.04,356.85 675.05,355.71 676.05,354.39 677.06,352.86 678.07,351.11 679.07,349.11 680.08,346.85 681.09,344.32 682.09,341.52 683.10,338.45 684.11,335.12 685.11,331.57 686.12,327.82 687.13,323.94 688.13,319.96 689.14,315.96 690.15,312.00 691.16,308.13 692.16,304.42 693.17,300.91 694.18,297.63 695.18,294.60 696.19,291.84 697.20,289.35 698.20,287.13 699.21,285.15 700.22,283.42 701.22,281.90 702.23,280.57 703.24,279.42 704.24,278.43 705.25,277.57 706.26,276.84 707.27,276.20 708.27,275.65 709.28,275.18 710.29,274.77 711.29,274.42 712.30,274.11 713.31,273.85 714.31,273.61 715.32,273.41 716.33,273.22 717.33,273.06 718.34,272.92 719.35,272.79 720.35,272.67 721.36,272.56 722.37,272.46 723.37,272.36 724.38,272.27 725.39,272.19 726.40,272.11 727.40,272.04 728.41,271.96 729.42,271.89 730.42,271.82 731.43,271.76 732.44,271.69"/>
<polyline points="555.23,364.75 556.23,364.55 557.24,364.37 558.25,364.22 559.25,364.09 560.26,363.97 561.27,363.87 562.28,363.79 563.28,363.71 564.29,363.64 565.30,363.59 566.30,363.54 567.31,363.49 568.32,363.45 569.32,363.42 570.33,363.39 571.34,363.37 572.34,363.35 573.35,363.33 574.36,363.31 575.36,363.30 576.37,363.28 577.38,363.27 578.39,363.26 579.39,363.26 580.40,363.25 581.41,363.24 582.41,363.24 583.42,363.23 584.43,363.23 585.43,363.22 586.44,363.22 587.45,363.22 588.45,363.22 589.46,363.21 590.47,363.21 591.47,363.21 592.48,363.21 593.49,363.21 594.50,363.21 595.50,363.21 596.51,363.21 597.52,363.20 598.52,363.20 599.53,363.20 600.54,363.20 601.54,363.20 602.55,363.20 603.56,363.20 604.56,363.20 605.57,363.20 606.58,363.20 607.58,363.20 608.59,363.20 609.60,363.20 610.61,363.20 611.61,363.20 612.62,363.20 613.63,363.20 614.63,363.20 615.64,363.20 616.65,363.20 617.65,363.20 618.66,363.20 619.67,363.20 620.67,363.20 621.68,363.20 622.69,363.20 623.69,363.20 624.70,363.20 625.71,363.20 626.72,363.20 627.72,363.20 628.73,363.20 629.74,363.20 630.74,363.20 631.75,363.20 632.76,363.20 633.76,363.20 634.77,363.20 635.78,363.19 636.78,363.19 637.79,363.19 638.80,363.19 639.80,363.19 640.81,363.19 641.82,363.19 642.83,363.18 643.83,363.18 644.84,363.17 645.85,363.17 646.85,363.16 647.86,363.16 648.87,363.15 649.87,363.14 650.88,363.13 651.89,363.11 652.89,363.09 653.90,363.07 654.91,363.05 655.91,363.02 656.92,362.98 657.93,362.94 658.94,362.89 659.94,362.83 660.95,362.76 661.96,362.67 662.96,362.57 663.97,362.44 664.98,362.30 665.98,362.12 666.99,361.91 668.00,361.67 669.00,361.37 670.01,361.02 671.02,360.61 672.02,360.11 673.03,359.54 674.04,358.85 675.05,358.05 676.05,357.11 677.06,356.01 678.07,354.74 679.07,353.27 680.08,351.58 681.09,349.66 682.09,347.49 683.10,345.05 684.11,342.34 685.11,339.37 686.12,336.16 687.13,332.71 688.13,329.08 689.14,325.30 690.15,321.43 691.16,317.54 692.16,313.67 693.17,309.90 694.18,306.27 695.18,302.82 696.19,299.60 697.20,296.63 698.20,293.92 699.21,291.47 700.22,289.28 701.22,287.34 702.23,285.62 703.24,284.12 704.24,282.82 705.25,281.68 706.26,280.70 707.27,279.85 708.27,279.12 709.28,278.49 710.29,277.95 711.29,277.48 712.30,277.08 713.31,276.73 714.31,276.43 715.32,276.16 716.33,275.93 717.33,275.73 718.34,275.55 719.35,275.38 720.35,275.24 721.36,275.11 722.37,274.99 723.37,274.88 724.38,274.78 725.39,274.69 726.40,274.60 727.40,274.52 728.41,274.44 729.42,274.36 730.42,274.29 731.43,274.22 732.44,274.15"/>
<polyline points="555.23,364.75 556.23,364.55 557.24,364.37 558.25,364.22 559.25,364.09 560.26,363.97 561.27,363.87 562.28,363.79 563.28,363.71 564.29,363.64 565.30,363.59 566.30,363.54 567.31,363.49 568.32,363.45 569.32,363.42 570.33,363.39 571.34,363.37 572.34,363.35 573.35,363.33 574.36,363.31 575.36,363.30 576.37,363.28 577.38,363.27 578.39,363.26 579.39,363.26 580.40,363.25 581.41,363.24 582.41,363.24 583.42,363.23 584.43,363.23 585.43,363.22 586.44,363.22 587.45,363.22 588.45,363.22 589.46,363.21 590.47,363.21 591.47,363.21 592.48,363.21 593.49,363.21 594.50,363.21 595.50,363.21 596.51,363.21 597.52,363.20 598.52,363.20 599.53,363.20 600.54,363.20 601.54,363.20 602.55,363.20 603.56,363.20 604.56,363.20 605.57,363.20 606.58,363.20 607.58,363.20 608.59,363.20 609.60,363.20 610.61,363.20 611.61,363.20 612.62,363.20 613.63,363.20 614.63,363.20 615.64,363.20 616.65,363.20 617.65,363.20 618.66,363.20 619.67,363.20 620.67,363.20 621.68,363.20 622.69,363.20 623.69,363.20 624.70,363.20 625.71,363.20 626.72,363.20 627.72,363.20 628.73,363.20 629.74,363.20 630.74,363.20 631.75,363.20 632.76,363.20 633.76,363.20 634.77,363.20 635.78,363.20 636.78,363.20 637.79,363.20 638.80,363.20 639.80,363.20 640.81,363.20 641.82,363.20 642.83,363.20 643.83,363.20 644.84,363.20 645.85,363.20 646.85,363.20 647.86,363.20 648.87,363.19 649.87,363.19 650.88,363.19 651.89,363.19 652.89,363.19 653.90,363.19 654.91,363.18 655.91,363.18 656.92,363.18 657.93,363.17 658.94,363.17 659.94,363.16 660.95,363.15 661.96,363.14 662.96,363.13 663.97,363.12 664.98,363.10 665.98,363.08 666.99,363.06 668.00,363.03 669.00,363.00 670.01,362.96 671.02,362.92 672.02,362.86 673.03,362.79 674.04,362.71 675.05,362.62 676.05,362.51 677.06,362.37 678.07,362.21 679.07,362.02 680.08,361.79 681.09,361.52 682.09,361.20 683.10,360.82 684.11,360.37 685.11,359.84 686.12,359.21 687.13,358.47 688.13,357.61 689.14,356.59 690.15,355.41 691.16,354.05 692.16,352.47 693.17,350.67 694.18,348.62 695.18,346.30 696.19,343.72 697.20,340.86 698.20,337.74 699.21,334.37 700.22,330.78 701.22,327.01 702.23,323.12 703.24,319.15 704.24,315.17 705.25,311.25 706.26,307.44 707.27,303.79 708.27,300.36 709.28,297.16 710.29,294.22 711.29,291.56 712.30,289.16 713.31,287.03 714.31,285.15 715.32,283.50 716.33,282.07 717.33,280.82 718.34,279.75 719.35,278.83 720.35,278.04 721.36,277.36 722.37,276.79 723.37,276.30 724.38,275.88 725.39,275.53 726.40,275.22 727.40,274.97 728.41,274.75 729.42,274.56 730.42,274.40 731.43,274.26 732.44,274.14"/>
<polyline points="555.23,364.75 556.23,364.55 557.24,364.37 558.25,364.22 559.25,364.09 560.26,363.97 561.27,363.87 562.28,363.79 563.28,363.71 564.29,363.64 565.30,363.59 566.30,363.54 567.31,363.49 568.32,363.45 569.32,363.42 570.33,363.39 571.34,363.37 572.34,363.35 573.35,363.33 574.36,363.31 575.36,363.30 576.37,363.28 577.38,363.27 578.39,363.26 579.39,363.26 580.40,363.25 581.41,363.24 582.41,363.24 583.42,363.23 584.43,363.23 585.43,363.22 586.44,363.22 587.45,363.22 588.45,363.22 589.46,363.21 590.47,363.21 591.47,363.21 592.48,363.21 593.49,363.21 594.50,363.21 595.50,363.21 596.51,363.21 597.52,363.20 598.52,363.20 599.53,363.20 600.54,363.20 601.54,363.20 602.55,363.20 603.56,363.20 604.56,363.20 605.57,363.20 606.58,363.20 607.58,363.20 608.59,363.20 609.60,363.20 610.61,363.20 611.61,363.20 612.62,363.20 613.63,363.20 614.63,363.20 615.64,363.20 616.65,363.20 617.65,363.20 618.66,363.20 619.67,363.20 620.67,363.20 621.68,363.20 622.69,363.20 623.69,363.20 624.70,363.20 625.71,363.20 626.72,363.20 627.72,363.20 628.73,363.20 629.74,363.20 630.74,363.20 631.75,363.20 632.76,363.20 633.76,363.20 634.77,363.20 635.78,363.20 636.78,363.20 637.79,363.20 638.80,363.20 639.80,363.20 640.81,363.20 641.82,363.20 642.83,363.20 643.83,363.20 644.84,363.20 645.85,363.20 646.85,363.20 647.86,363.20 648.87,363.19 649.87,363.19 650.88,363.19 651.89,363.19 652.89,363.19 653.90,363.19 654.91,363.18 655.91,363.18 656.92,363.18 657.93,363.17 658.94,363.17 659.94,363.16 660.95,363.15 661.96,363.14 662.96,363.13 663.97,363.12 664.98,363.10 665.98,363.09 666.99,363.06 668.00,363.04 669.00,363.00 670.01,362.97 671.02,362.92 672.02,362.87 673.03,362.80 674.04,362.72 675.05,362.63 676.05,362.52 677.06,362.39 678.07,362.23 679.07,362.05 680.08,361.82 681.09,361.56 682.09,361.25 683.10,360.87 684.11,360.43 685.11,359.91 686.12,359.30 687.13,358.58 688.13,357.73 689.14,356.74 690.15,355.59 691.16,354.26 692.16,352.72 693.17,350.97 694.18,348.97 695.18,346.73 696.19,344.22 697.20,341.46 698.20,338.44 699.21,335.18 700.22,331.72 701.22,328.10 702.23,324.36 703.24,320.56 704.24,316.76 705.25,313.02 706.26,309.39 707.27,305.93 708.27,302.67 709.28,299.64 710.29,296.87 711.29,294.35 712.30,292.09 713.31,290.09 714.31,288.32 715.32,286.77 716.33,285.42 717.33,284.25 718.34,283.24 719.35,282.38 720.35,281.64 721.36,281.00 722.37,280.46 723.37,280.00 724.38,279.61 725.39,279.28 726.40,279.00 727.40,278.75 728.41,278.55 729.42,278.37 730.42,278.22 731.43,278.09 732.44,277.98"/>
<polyline points="555.23,364.75 556.23,364.55 557.24,364.37 558.25,364.22 559.25,364.09 560.26,363.97 561.27,363.87 562.28,363.79 563.28,363.71 564.29,363.64 565.30,363.59 566.30,363.54 567.31,363.49 568.32,363.45 569.32,363.42 570.33,363.39 571.34,363.37 572.34,363.35 573.35,363.33 574.36,363.31 575.36,363.30 576.37,363.28 577.38,363.27 578.39,363.26 579.39,363.26 580.40,363.25 581.41,363.24 582.41,363.24 583.42,363.23 584.43,363.23 585.43,363.22 586.44,363.22 587.45,363.22 588.45,363.22 589.46,363.21 590.47,363.21 591.47,363.21 592.48,363.21 593.49,363.21 594.50,363.21 595.50,363.21 596.51,363.21 597.52,363.20 598.52,363.20 599.53,363.20 600.54,363.20 601.54,363.20 602.55,363.20 603.56,363.20 604.56,363.20 605.57,363.20 606.58,363.20 607.58,363.20 608.59,363.20 609.60,363.20 610.61,363.20 611.61,363.20 612.62,363.20 613.63,363.20 614.63,363.20 615.64,363.20 616.65,363.20 617.65,363.20 618.66,363.20 619.67,363.20 620.67,363.20 621.68,363.20 622.69,363.20 623.69,363.20 624.70,363.20 625.71,363.20 626.72,363.20 627.72,363.20 628.73,363.20 629.74,363.20 630.74,363.20 631.75,363.20 632.76,363.20 633.76,363.20 634.77,363.20 635.78,363.20 636.78,363.20 637.79,363.20 638.80,363.20 639.80,363.20 640.81,363.20 641.82,363.20 642.83,363.20 643.83,363.20 644.84,363.20 645.85,363.20 646.85,363.20 647.86,363.20 648.87,363.19 649.87,363.19 650.88,363.19 651.89,363.19 652.89,363.19 653.90,363.19 654.91,363.18 655.91,363.18 656.92,363.18 657.93,363.17 658.94,363.17 659.94,363.16 660.95,363.16 661.96,363.15 662.96,363.14 663.97,363.12 664.98,363.11 665.98,363.09 666.99,363.07 668.00,363.04 669.00,363.01 670.01,362.98 671.02,362.93 672.02,362.88 673.03,362.82 674.04,362.75 675.05,362.66 676.05,362.55 677.06,362.43 678.07,362.28 679.07,362.10 680.08,361.89 681.09,361.64 682.09,361.34 683.10,360.98 684.11,360.56 685.11,360.07 686.12,359.48 687.13,358.79 688.13,357.98 689.14,357.04 690.15,355.94 691.16,354.66 692.16,353.19 693.17,351.50 694.18,349.59 695.18,347.43 696.19,345.01 697.20,342.34 698.20,339.41 699.21,336.26 700.22,332.89 701.22,329.36 702.23,325.71 703.24,321.98 704.24,318.24 705.25,314.56 706.26,310.97 707.27,307.54 708.27,304.30 709.28,301.29 710.29,298.52 711.29,296.01 712.30,293.75 713.31,291.73 714.31,289.96 715.32,288.40 716.33,287.04 717.33,285.87 718.34,284.85 719.35,283.98 720.35,283.23 721.36,282.59 722.37,282.05 723.37,281.58 724.38,281.19 725.39,280.85 726.40,280.56 727.40,280.32 728.41,280.11 729.42,279.93 730.42,279.78 731.43,279.65 732.44,279.53"/>
<polyline points="555.23,364.75 556.23,364.55 557.24,364.37 558.25,364.22 559.25,364.09 560.26,363.97 561.27,363.87 562.28,363.79 563.28,363.71 564.29,363.64 565.30,363.59 566.30,363.54 567.31,363.49 568.32,363.45 569.32,363.42 570.33,363.39 571.34,363.37 572.34,363.35 573.35,363.33 574.36,363.31 575.36,363.30 576.37,363.28 577.38,363.27 578.39,363.26 579.39,363.26 580.40,363.25 581.41,363.24 582.41,363.24 583.42,363.23 584.43,363.23 585.43,363.22 586.44,363.22 587.45,363.22 588.45,363.22 589.46,363.21 590.47,363.21 591.47,363.21 592.48,363.21 593.49,363.21 594.50,363.21 595.50,363.21 596.51,363.21 597.52,363.20 598.52,363.20 599.53,363.20 600.54,363.20 601.54,363.20 602.55,363.20 603.56,363.20 604.56,363.20 605.57,363.20 606.58,363.20 607.58,363.20 608.59,363.20 609.60,363.20 610.61,363.20 611.61,363.20 612.62,363.20 613.63,363.20 614.63,363.20 615.64,363.20 616.65,363.20 617.65,363.20 618.66,363.20 619.67,363.20 620.67,363.20 621.68,363.20 622.69,363.20 623.69,363.20 624.70,363.20 625.71,363.20 626.72,363.20 627.72,363.20 628.73,363.20 629.74,363.20 630.74,363.20 631.75,363.20 632.76,363.20 633.76,363.20 634.77,363.20 635.78,363.20 636.78,363.20 637.79,363.20 638.80,363.20 639.80,363.20 640.81,363.20 641.82,363.20 642.83,363.20 643.83,363.20 644.84,363.20 645.85,363.20 646.85,363.20 647.86,363.20 648.87,363.20 649.87,363.20 650.88,363.20 651.89,363.20 652.89,363.20 653.90,363.20 654.91,363.20 655.91,363.20 656.92,363.20 657.93,363.20 658.94,363.20 659.94,363.20 660.95,363.20 661.96,363.20 662.96,363.20 663.97,363.20 664.98,363.20 665.98,363.20 666.99,363.20 668.00,363.20 669.00,363.20 670.01,363.20 671.02,363.20 672.02,363.20 673.03,363.20 674.04,363.20 675.05,363.20 676.05,363.20 677.06,363.20 678.07,363.20 679.07,363.20 680.08,363.20 681.09,363.20 682.09,363.20 683.10,363.20 684.11,363.20 685.11,363.20 686.12,363.20 687.13,363.20 688.13,363.20 689.14,363.20 690.15,363.20 691.16,363.20 692.16,363.20 693.17,363.20 694.18,363.20 695.18,363.20 696.19,363.20 697.20,363.20 698.20,363.20 699.21,363.20 700.22,363.20 701.22,363.20 702.23,363.20 703.24,363.20 704.24,363.20 705.25,363.20 706.26,363.20 707.27,363.20 708.27,363.20 709.28,363.20 710.29,363.20 711.29,363.20 712.30,363.20 713.31,363.20 714.31,363.20 715.32,363.20 716.33,363.20 717.33,363.20 718.34,363.20 719.35,363.20 720.35,363.20 721.36,363.20 722.37,363.20 723.37,363.20 724.38,363.20 725.39,363.20 726.40,363.20 727.40,363.20 728.41,363.20 729.42,363.20 730.42,363.20 731.43,363.20 732.44,363.20"/>
</g>
</svg></body></html>
